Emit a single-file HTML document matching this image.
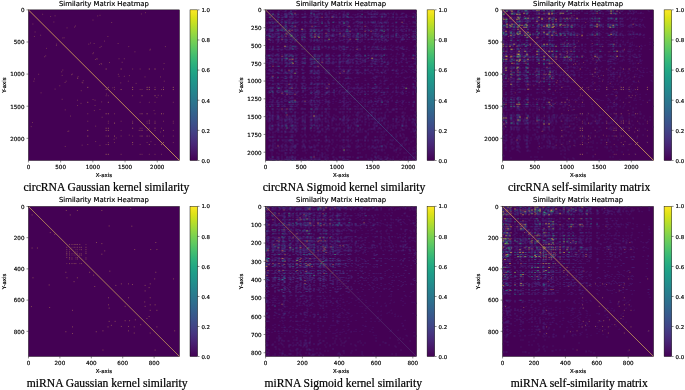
<!DOCTYPE html><html><head><meta charset="utf-8"><title>Similarity Matrix Heatmaps</title><style>html,body{margin:0;padding:0;background:#fff}svg{display:block}</style></head><body><svg width="685" height="390" viewBox="0 0 685 390">
<defs><linearGradient id="vir" x1="0" y1="1" x2="0" y2="0">
<stop offset="0.00" stop-color="#440154"/>
<stop offset="0.05" stop-color="#471365"/>
<stop offset="0.10" stop-color="#482475"/>
<stop offset="0.15" stop-color="#463480"/>
<stop offset="0.20" stop-color="#414487"/>
<stop offset="0.25" stop-color="#3b528b"/>
<stop offset="0.30" stop-color="#355f8d"/>
<stop offset="0.35" stop-color="#2f6c8e"/>
<stop offset="0.40" stop-color="#2a788e"/>
<stop offset="0.45" stop-color="#25848e"/>
<stop offset="0.50" stop-color="#21918c"/>
<stop offset="0.55" stop-color="#1e9c89"/>
<stop offset="0.60" stop-color="#22a884"/>
<stop offset="0.65" stop-color="#2fb47c"/>
<stop offset="0.70" stop-color="#44bf70"/>
<stop offset="0.75" stop-color="#5ec962"/>
<stop offset="0.80" stop-color="#7ad151"/>
<stop offset="0.85" stop-color="#9bd93c"/>
<stop offset="0.90" stop-color="#bddf26"/>
<stop offset="0.95" stop-color="#dfe318"/>
<stop offset="1.00" stop-color="#fde725"/>
</linearGradient><filter id="bl" x="0" y="0" width="1" height="1"><feGaussianBlur stdDeviation="0.45"/></filter><filter id="tb" filterUnits="userSpaceOnUse" x="0" y="0" width="685" height="390"><feGaussianBlur stdDeviation="0.35"/></filter><filter id="bl2" x="0" y="0" width="1" height="1"><feGaussianBlur stdDeviation="0.4"/></filter></defs>
<rect width="685" height="390" fill="#fff"/>
<g><rect x="28.4" y="9.85" width="151.1" height="150.65" fill="#440154"/><g filter="url(#bl2)"><path d="M105.65 69.03h1M120.64 69.03h1M148.82 69.03h1M154.52 69.03h1M107.85 87.37h1M132.13 87.37h1M146.62 87.37h1M148.82 87.37h1M172.8 87.37h1M120.64 89.56h1M132.13 89.56h1M146.62 89.56h1M148.82 89.56h1M154.52 89.56h1M163.01 89.56h1M172.8 89.56h1M141.52 95.74h1M154.52 95.74h1M141.52 113.77h1M146.62 113.77h1M161.01 113.77h1M148.82 123.14h1M154.52 123.14h1M154.52 128.22h1M163.01 130.41h1M163.01 142.57h1M87.26 87.37h1M87.26 102.31h1M87.26 130.41h1M87.26 136.09h1M105.65 89.56h1M105.65 113.77h1M105.65 128.22h1M105.65 130.41h1M105.65 154.32h1M107.85 102.31h1M107.85 113.77h1M107.85 128.22h1M107.85 130.41h1M107.85 136.09h1M107.85 144.56h1M107.85 154.32h1M114.04 123.14h1M114.04 136.09h1M132.13 123.14h1M132.13 128.22h1M132.13 142.57h1M141.52 130.41h1M141.52 136.09h1M146.62 136.09h1M148.82 144.56h1M161.01 144.56h1" stroke="#d9a55a" stroke-width="1" stroke-opacity="0.55" fill="none"/><path d="M132.13 69.03h1M139.63 69.03h1M163.01 69.03h1M114.04 87.37h1M154.52 87.37h1M163.01 87.37h1M114.04 89.56h1M139.63 89.56h1M141.52 89.56h1M161.01 89.56h1M132.13 95.74h1M161.01 95.74h1M139.63 102.31h1M148.82 102.31h1M154.52 102.31h1M172.8 102.31h1M139.63 113.77h1M154.52 113.77h1M163.01 113.77h1M146.62 121.24h1M148.82 121.24h1M154.52 121.24h1M163.01 121.24h1M172.8 121.24h1M146.62 123.14h1M172.8 123.14h1M148.82 128.22h1M161.01 128.22h1M154.52 130.41h1M172.8 130.41h1M163.01 136.09h1M172.8 136.09h1M172.8 142.57h1M54.58 15.83h1M74.97 25.99h1M111.14 22.5h1M62.28 37.95h1M90.06 43.03h1M93.66 43.53h1M100.75 46.42h1M117.64 43.53h1M128.23 46.62h1M164.91 46.62h1M149.42 50.1h1M92.96 52.79h1M96.25 58.77h1M118.54 58.77h1M123.84 58.77h1M100.55 63.45h1M163.61 63.45h1M117.84 74.31h1M118.54 76.31h1M123.84 76.31h1M128.93 75.61h1M144.52 76.91h1M160.01 76.91h1M163.81 81.19h1M120.24 82.88h1M127.83 81.19h1M135.63 83.38h1M50.09 16.53h1M88.26 44.12h1M92.36 53.69h1M94.96 59.47h1M99.45 47.51h1M98.95 64.55h1M74.07 27.09h1M145.02 12.68h1M160.08 132.02h1M148.76 120.3h1M112.36 87.81h1M92.49 20.06h1M157.71 95.33h1M104.04 41.11h1M101.14 64.1h1M109 62.53h1M97.2 15.94h1M63.63 37.8h1M156.38 97.45h1M149.84 49.23h1M153.55 110.43h1M42.13 14.29h1M140.9 13.98h1M66.56 27.88h1M121.68 62.29h1M53.35 22.02h1M107.37 36.47h1M134.43 51.82h1M96.7 59h1M99.5 15.3h1M87.26 113.77h1M87.26 121.24h1M87.26 144.56h1M105.65 95.74h1M105.65 136.09h1M105.65 144.56h1M107.85 95.74h1M107.85 121.24h1M107.85 123.14h1M107.85 142.57h1M114.04 113.77h1M114.04 142.57h1M120.64 121.24h1M120.64 130.41h1M120.64 136.09h1M120.64 154.32h1M132.13 121.24h1M132.13 136.09h1M132.13 144.56h1M139.63 128.22h1M139.63 130.41h1M139.63 136.09h1M139.63 144.56h1M139.63 154.32h1M141.52 128.22h1M141.52 154.32h1M146.62 130.41h1M146.62 142.57h1M148.82 136.09h1M148.82 154.32h1M154.52 144.56h1M154.52 154.32h1M161.01 154.32h1M33.9 36.45h1M44.09 56.78h1M40.59 92.85h1M56.08 44.12h1M61.18 71.82h1M61.68 75.41h1M64.58 82.48h1M61.68 99.32h1M64.78 109.88h1M64.78 146.45h1M68.27 131.01h1M70.97 74.71h1M76.97 78h1M76.97 100.22h1M76.97 105.5h1M81.66 82.29h1M81.66 145.16h1M92.56 99.52h1M94.56 100.22h1M94.56 105.5h1M93.86 110.58h1M95.16 126.13h1M95.16 141.57h1M99.45 145.36h1M101.15 101.91h1M99.45 109.49h1M101.65 117.26h1M34.6 31.97h1M62.28 70.03h1M71.87 74.12h1M77.67 76.71h1M65.67 81.19h1M82.76 80.69h1M45.19 55.88h1M30.74 126.62h1M150.43 141.64h1M138.68 130.35h1M106.09 94.06h1M38.14 74.25h1M113.63 139.27h1M59.26 85.77h1M82.31 82.87h1M80.74 90.71h1M34.01 78.95h1M55.93 45.47h1M115.76 137.95h1M67.4 131.42h1M128.78 135.13h1M32.35 24.03h1M32.04 122.51h1M45.98 48.39h1M80.5 103.35h1M40.11 35.22h1M54.6 89.09h1M69.99 116.07h1M77.2 78.44h1M33.37 81.23h1" stroke="#d9a55a" stroke-width="1" stroke-opacity="0.3" fill="none"/></g><line x1="28.4" y1="9.85" x2="179.5" y2="160.5" stroke="#ddaa5c" stroke-width="0.8"/><rect x="28.4" y="9.85" width="151.1" height="150.65" fill="none" stroke="#000" stroke-width="0.4"/><rect x="190" y="9.85" width="7.6" height="150.65" fill="url(#vir)" stroke="#000" stroke-width="0.45"/><path d="M28.43 160.5v1.9M60.64 160.5v1.9M92.84 160.5v1.9M125.04 160.5v1.9M157.25 160.5v1.9M28.4 9.88h-1.9M28.4 41.99h-1.9M28.4 74.1h-1.9M28.4 106.21h-1.9M28.4 138.31h-1.9M197.6 160.5h1.9M197.6 130.37h1.9M197.6 100.24h1.9M197.6 70.11h1.9M197.6 39.98h1.9M197.6 9.85h1.9" stroke="#000" stroke-width="0.45" fill="none"/></g>
<g><rect x="265.5" y="9.85" width="151.1" height="150.65" fill="#440154"/><g filter="url(#bl)"><path transform="translate(265.5 9.85) scale(1.0007 0.9977) translate(0 0.5)" d="M15 0h1M25 0h1M27 0h1M29 0h1M30 0h1M37 0h1M45 0h1M46 0h1M48 0h1M59 0h1M92 0h1M96 0h1M106 0h1M4 1h1M5 1h1M7 1h1M12 1h1M13 1h1M17 1h1M20 1h1M39 1h1M45 1h1M47 1h1M48 1h1M49 1h1M53 1h1M57 1h1M63 1h1M66 1h1M67 1h1M76 1h1M78 1h1M94 1h1M96 1h1M102 1h1M106 1h1M107 1h1M150 1h1M13 2h1M23 2h1M24 2h1M27 2h1M45 2h1M46 2h1M60 2h1M63 2h1M70 2h1M78 2h1M82 2h1M99 2h1M101 2h1M105 2h1M111 2h1M128 2h1M4 3h1M5 3h1M11 3h1M16 3h1M20 3h1M21 3h1M24 3h1M52 3h1M53 3h1M59 3h1M60 3h1M63 3h1M64 3h1M66 3h1M73 3h1M74 3h1M78 3h1M83 3h1M92 3h1M94 3h1M102 3h1M103 3h1M105 3h1M108 3h1M109 3h1M110 3h1M112 3h1M116 3h1M125 3h1M127 3h1M130 3h1M137 3h1M138 3h1M147 3h1M148 3h1M1 4h1M3 4h1M6 4h1M9 4h1M18 4h1M20 4h1M25 4h1M37 4h1M41 4h1M45 4h1M46 4h1M50 4h1M51 4h1M52 4h1M59 4h1M60 4h1M61 4h1M63 4h1M70 4h1M73 4h1M80 4h1M87 4h1M89 4h1M91 4h1M92 4h1M102 4h1M103 4h1M104 4h1M107 4h1M110 4h1M114 4h1M115 4h1M117 4h1M123 4h1M130 4h1M131 4h1M135 4h1M136 4h1M140 4h1M149 4h1M150 4h1M1 5h1M3 5h1M6 5h1M7 5h1M15 5h1M16 5h1M19 5h1M26 5h1M27 5h1M44 5h1M45 5h1M48 5h1M49 5h1M51 5h1M53 5h1M60 5h1M61 5h1M67 5h1M70 5h1M77 5h1M78 5h1M79 5h1M80 5h1M89 5h1M94 5h1M120 5h1M131 5h1M140 5h1M141 5h1M149 5h1M4 6h1M5 6h1M9 6h1M13 6h1M18 6h1M23 6h1M24 6h1M25 6h1M26 6h1M29 6h1M38 6h1M40 6h1M45 6h1M46 6h1M52 6h1M63 6h1M70 6h1M74 6h1M77 6h1M80 6h1M82 6h1M85 6h1M91 6h1M95 6h1M96 6h1M105 6h1M107 6h1M108 6h1M113 6h1M115 6h1M118 6h1M119 6h1M120 6h1M136 6h1M139 6h1M143 6h1M145 6h1M149 6h1M150 6h1M1 7h1M5 7h1M9 7h1M11 7h1M15 7h1M18 7h1M25 7h1M26 7h1M30 7h1M31 7h1M40 7h1M43 7h1M44 7h1M45 7h1M49 7h1M53 7h1M61 7h1M62 7h1M73 7h1M80 7h1M84 7h1M85 7h1M87 7h1M89 7h1M91 7h1M92 7h1M94 7h1M95 7h1M100 7h1M103 7h1M107 7h1M108 7h1M109 7h1M111 7h1M115 7h1M118 7h1M119 7h1M122 7h1M123 7h1M125 7h1M130 7h1M131 7h1M132 7h1M135 7h1M136 7h1M137 7h1M138 7h1M141 7h1M149 7h1M26 8h1M49 8h1M50 8h1M52 8h1M130 8h1M150 8h1M4 9h1M6 9h1M7 9h1M11 9h1M17 9h1M24 9h1M26 9h1M27 9h1M39 9h1M48 9h1M49 9h1M52 9h1M56 9h1M60 9h1M67 9h1M73 9h1M74 9h1M78 9h1M87 9h1M88 9h1M92 9h1M94 9h1M106 9h1M115 9h1M122 9h1M125 9h1M127 9h1M130 9h1M133 9h1M134 9h1M136 9h1M138 9h1M13 10h1M15 10h1M19 10h1M23 10h1M24 10h1M29 10h1M30 10h1M46 10h1M49 10h1M51 10h1M62 10h1M84 10h1M115 10h1M121 10h1M138 10h1M3 11h1M7 11h1M9 11h1M21 11h1M25 11h1M27 11h1M29 11h1M33 11h1M36 11h1M45 11h1M48 11h1M53 11h1M68 11h1M73 11h1M75 11h1M76 11h1M80 11h1M82 11h1M90 11h1M94 11h1M96 11h1M99 11h1M102 11h1M105 11h1M107 11h1M112 11h1M119 11h1M121 11h1M138 11h1M143 11h1M147 11h1M149 11h1M1 12h1M18 12h1M19 12h1M24 12h1M25 12h1M28 12h1M40 12h1M41 12h1M45 12h1M46 12h1M48 12h1M50 12h1M51 12h1M52 12h1M54 12h1M59 12h1M70 12h1M77 12h1M83 12h1M88 12h1M92 12h1M93 12h1M99 12h1M102 12h1M103 12h1M108 12h1M112 12h1M116 12h1M131 12h1M135 12h1M147 12h1M1 13h1M2 13h1M6 13h1M10 13h1M16 13h1M20 13h1M21 13h1M30 13h1M31 13h1M36 13h1M38 13h1M39 13h1M41 13h1M43 13h1M46 13h1M49 13h1M50 13h1M53 13h1M59 13h1M60 13h1M62 13h1M73 13h1M77 13h1M80 13h1M87 13h1M88 13h1M94 13h1M95 13h1M100 13h1M102 13h1M106 13h1M107 13h1M108 13h1M109 13h1M111 13h1M118 13h1M122 13h1M126 13h1M127 13h1M130 13h1M138 13h1M140 13h1M144 13h1M147 13h1M15 14h1M33 14h1M52 14h1M53 14h1M75 14h1M77 14h1M81 14h1M82 14h1M94 14h1M99 14h1M110 14h1M141 14h1M0 15h1M5 15h1M7 15h1M10 15h1M14 15h1M23 15h1M29 15h1M32 15h1M40 15h1M48 15h1M67 15h1M71 15h1M79 15h1M80 15h1M89 15h1M91 15h1M92 15h1M105 15h1M108 15h1M110 15h1M113 15h1M116 15h1M118 15h1M122 15h1M127 15h1M136 15h1M3 16h1M5 16h1M13 16h1M17 16h1M21 16h1M37 16h1M39 16h1M40 16h1M42 16h1M48 16h1M51 16h1M52 16h1M54 16h1M67 16h1M70 16h1M73 16h1M76 16h1M84 16h1M88 16h1M89 16h1M92 16h1M100 16h1M101 16h1M107 16h1M109 16h1M110 16h1M117 16h1M118 16h1M121 16h1M125 16h1M130 16h1M135 16h1M137 16h1M138 16h1M140 16h1M145 16h1M1 17h1M9 17h1M16 17h1M31 17h1M39 17h1M63 17h1M67 17h1M70 17h1M71 17h1M73 17h1M84 17h1M92 17h1M96 17h1M102 17h1M109 17h1M115 17h1M119 17h1M131 17h1M134 17h1M137 17h1M150 17h1M4 18h1M6 18h1M7 18h1M12 18h1M20 18h1M21 18h1M23 18h1M25 18h1M36 18h1M63 18h1M68 18h1M84 18h1M90 18h1M95 18h1M96 18h1M100 18h1M140 18h1M141 18h1M5 19h1M10 19h1M12 19h1M21 19h1M26 19h1M27 19h1M30 19h1M31 19h1M32 19h1M37 19h1M39 19h1M43 19h1M49 19h1M51 19h1M52 19h1M56 19h1M57 19h1M59 19h1M60 19h1M61 19h1M70 19h1M71 19h1M73 19h1M74 19h1M77 19h1M78 19h1M80 19h1M82 19h1M86 19h1M87 19h1M89 19h1M90 19h1M99 19h1M105 19h1M112 19h1M114 19h1M115 19h1M116 19h1M123 19h1M127 19h1M132 19h1M135 19h1M136 19h1M145 19h1M149 19h1M1 20h1M3 20h1M4 20h1M13 20h1M18 20h1M21 20h1M22 20h1M25 20h1M27 20h1M30 20h1M36 20h1M37 20h1M39 20h1M47 20h1M53 20h1M55 20h1M61 20h1M63 20h1M71 20h1M75 20h1M77 20h1M78 20h1M80 20h1M82 20h1M83 20h1M85 20h1M87 20h1M89 20h1M91 20h1M99 20h1M102 20h1M106 20h1M110 20h1M119 20h1M120 20h1M131 20h1M134 20h1M135 20h1M136 20h1M145 20h1M150 20h1M3 21h1M11 21h1M13 21h1M16 21h1M18 21h1M19 21h1M20 21h1M27 21h1M32 21h1M34 21h1M40 21h1M46 21h1M55 21h1M56 21h1M62 21h1M68 21h1M70 21h1M74 21h1M75 21h1M76 21h1M77 21h1M79 21h1M85 21h1M90 21h1M91 21h1M94 21h1M96 21h1M102 21h1M103 21h1M110 21h1M111 21h1M113 21h1M114 21h1M122 21h1M127 21h1M132 21h1M137 21h1M138 21h1M143 21h1M148 21h1M20 22h1M25 22h1M80 22h1M82 22h1M2 23h1M6 23h1M10 23h1M15 23h1M18 23h1M25 23h1M26 23h1M29 23h1M31 23h1M36 23h1M37 23h1M40 23h1M43 23h1M44 23h1M45 23h1M48 23h1M51 23h1M59 23h1M61 23h1M62 23h1M67 23h1M77 23h1M80 23h1M81 23h1M84 23h1M86 23h1M87 23h1M89 23h1M102 23h1M106 23h1M107 23h1M108 23h1M112 23h1M113 23h1M122 23h1M137 23h1M147 23h1M148 23h1M149 23h1M2 24h1M3 24h1M6 24h1M9 24h1M10 24h1M12 24h1M27 24h1M31 24h1M35 24h1M37 24h1M39 24h1M44 24h1M46 24h1M51 24h1M63 24h1M66 24h1M68 24h1M70 24h1M71 24h1M77 24h1M80 24h1M81 24h1M82 24h1M91 24h1M94 24h1M106 24h1M107 24h1M112 24h1M122 24h1M127 24h1M132 24h1M139 24h1M147 24h1M0 25h1M4 25h1M6 25h1M7 25h1M11 25h1M12 25h1M18 25h1M20 25h1M22 25h1M23 25h1M35 25h1M36 25h1M37 25h1M39 25h1M44 25h1M46 25h1M48 25h1M49 25h1M50 25h1M51 25h1M56 25h1M61 25h1M63 25h1M64 25h1M65 25h1M68 25h1M70 25h1M71 25h1M81 25h1M83 25h1M84 25h1M87 25h1M88 25h1M92 25h1M94 25h1M95 25h1M97 25h1M108 25h1M109 25h1M110 25h1M111 25h1M113 25h1M114 25h1M115 25h1M116 25h1M119 25h1M120 25h1M121 25h1M125 25h1M127 25h1M131 25h1M133 25h1M136 25h1M137 25h1M138 25h1M140 25h1M147 25h1M148 25h1M149 25h1M5 26h1M6 26h1M7 26h1M8 26h1M9 26h1M19 26h1M23 26h1M28 26h1M31 26h1M37 26h1M39 26h1M45 26h1M50 26h1M53 26h1M56 26h1M59 26h1M60 26h1M65 26h1M73 26h1M74 26h1M75 26h1M77 26h1M82 26h1M86 26h1M87 26h1M88 26h1M90 26h1M94 26h1M97 26h1M102 26h1M110 26h1M111 26h1M113 26h1M122 26h1M125 26h1M126 26h1M134 26h1M136 26h1M138 26h1M140 26h1M147 26h1M0 27h1M2 27h1M5 27h1M9 27h1M11 27h1M19 27h1M20 27h1M21 27h1M24 27h1M28 27h1M30 27h1M33 27h1M50 27h1M54 27h1M59 27h1M61 27h1M70 27h1M74 27h1M80 27h1M84 27h1M87 27h1M88 27h1M91 27h1M96 27h1M99 27h1M105 27h1M111 27h1M112 27h1M116 27h1M119 27h1M125 27h1M127 27h1M131 27h1M136 27h1M140 27h1M149 27h1M12 28h1M26 28h1M27 28h1M36 28h1M41 28h1M69 28h1M73 28h1M116 28h1M117 28h1M118 28h1M136 28h1M137 28h1M0 29h1M6 29h1M10 29h1M11 29h1M15 29h1M23 29h1M32 29h1M38 29h1M39 29h1M43 29h1M48 29h1M49 29h1M54 29h1M59 29h1M65 29h1M66 29h1M68 29h1M73 29h1M80 29h1M81 29h1M82 29h1M85 29h1M94 29h1M116 29h1M125 29h1M126 29h1M135 29h1M137 29h1M143 29h1M147 29h1M0 30h1M7 30h1M10 30h1M13 30h1M19 30h1M20 30h1M27 30h1M31 30h1M36 30h1M37 30h1M44 30h1M45 30h1M46 30h1M49 30h1M50 30h1M52 30h1M56 30h1M60 30h1M61 30h1M62 30h1M68 30h1M75 30h1M76 30h1M82 30h1M83 30h1M84 30h1M91 30h1M92 30h1M94 30h1M96 30h1M102 30h1M108 30h1M110 30h1M112 30h1M118 30h1M119 30h1M135 30h1M136 30h1M137 30h1M147 30h1M150 30h1M7 31h1M13 31h1M17 31h1M19 31h1M23 31h1M24 31h1M26 31h1M30 31h1M36 31h1M38 31h1M40 31h1M51 31h1M52 31h1M54 31h1M56 31h1M61 31h1M63 31h1M66 31h1M68 31h1M71 31h1M74 31h1M78 31h1M81 31h1M83 31h1M85 31h1M88 31h1M91 31h1M95 31h1M96 31h1M110 31h1M113 31h1M114 31h1M118 31h1M130 31h1M134 31h1M140 31h1M15 32h1M19 32h1M21 32h1M29 32h1M38 32h1M44 32h1M50 32h1M52 32h1M54 32h1M56 32h1M62 32h1M66 32h1M67 32h1M78 32h1M81 32h1M82 32h1M92 32h1M98 32h1M103 32h1M109 32h1M110 32h1M113 32h1M116 32h1M119 32h1M131 32h1M134 32h1M145 32h1M150 32h1M11 33h1M14 33h1M27 33h1M81 33h1M86 33h1M91 33h1M108 33h1M21 34h1M48 34h1M54 34h1M108 34h1M24 35h1M25 35h1M36 35h1M52 35h1M73 35h1M99 35h1M115 35h1M125 35h1M149 35h1M11 36h1M13 36h1M18 36h1M20 36h1M23 36h1M25 36h1M28 36h1M30 36h1M31 36h1M35 36h1M38 36h1M45 36h1M48 36h1M49 36h1M56 36h1M60 36h1M63 36h1M67 36h1M68 36h1M73 36h1M76 36h1M82 36h1M85 36h1M91 36h1M92 36h1M98 36h1M103 36h1M109 36h1M111 36h1M112 36h1M122 36h1M127 36h1M132 36h1M136 36h1M138 36h1M148 36h1M149 36h1M0 37h1M4 37h1M16 37h1M19 37h1M20 37h1M23 37h1M24 37h1M25 37h1M26 37h1M30 37h1M39 37h1M43 37h1M45 37h1M51 37h1M57 37h1M60 37h1M62 37h1M67 37h1M70 37h1M76 37h1M90 37h1M91 37h1M99 37h1M103 37h1M107 37h1M110 37h1M113 37h1M118 37h1M119 37h1M126 37h1M131 37h1M132 37h1M134 37h1M136 37h1M137 37h1M141 37h1M6 38h1M13 38h1M29 38h1M31 38h1M32 38h1M36 38h1M39 38h1M45 38h1M52 38h1M56 38h1M60 38h1M63 38h1M66 38h1M70 38h1M71 38h1M73 38h1M76 38h1M78 38h1M92 38h1M94 38h1M99 38h1M111 38h1M116 38h1M119 38h1M134 38h1M135 38h1M150 38h1M1 39h1M9 39h1M13 39h1M16 39h1M17 39h1M19 39h1M20 39h1M24 39h1M25 39h1M26 39h1M29 39h1M37 39h1M38 39h1M41 39h1M44 39h1M45 39h1M46 39h1M49 39h1M51 39h1M54 39h1M62 39h1M67 39h1M70 39h1M73 39h1M76 39h1M77 39h1M79 39h1M80 39h1M81 39h1M84 39h1M85 39h1M87 39h1M90 39h1M103 39h1M105 39h1M106 39h1M107 39h1M108 39h1M109 39h1M111 39h1M117 39h1M119 39h1M122 39h1M124 39h1M130 39h1M131 39h1M136 39h1M140 39h1M141 39h1M147 39h1M148 39h1M6 40h1M7 40h1M12 40h1M15 40h1M16 40h1M21 40h1M23 40h1M31 40h1M52 40h1M74 40h1M75 40h1M78 40h1M84 40h1M87 40h1M92 40h1M94 40h1M105 40h1M116 40h1M126 40h1M127 40h1M132 40h1M143 40h1M150 40h1M4 41h1M12 41h1M13 41h1M28 41h1M39 41h1M46 41h1M48 41h1M77 41h1M80 41h1M90 41h1M105 41h1M140 41h1M149 41h1M16 42h1M92 42h1M7 43h1M13 43h1M19 43h1M23 43h1M29 43h1M37 43h1M56 43h1M68 43h1M77 43h1M78 43h1M79 43h1M84 43h1M91 43h1M102 43h1M107 43h1M131 43h1M136 43h1M137 43h1M5 44h1M7 44h1M23 44h1M24 44h1M25 44h1M30 44h1M32 44h1M39 44h1M48 44h1M50 44h1M52 44h1M60 44h1M61 44h1M74 44h1M82 44h1M90 44h1M92 44h1M93 44h1M94 44h1M107 44h1M110 44h1M112 44h1M115 44h1M118 44h1M119 44h1M125 44h1M131 44h1M133 44h1M137 44h1M138 44h1M147 44h1M0 45h1M1 45h1M2 45h1M4 45h1M5 45h1M6 45h1M7 45h1M11 45h1M12 45h1M23 45h1M26 45h1M30 45h1M36 45h1M37 45h1M38 45h1M39 45h1M50 45h1M53 45h1M60 45h1M63 45h1M66 45h1M67 45h1M70 45h1M72 45h1M77 45h1M78 45h1M80 45h1M81 45h1M82 45h1M89 45h1M94 45h1M95 45h1M105 45h1M107 45h1M113 45h1M114 45h1M115 45h1M116 45h1M120 45h1M121 45h1M138 45h1M143 45h1M149 45h1M0 46h1M2 46h1M4 46h1M6 46h1M10 46h1M12 46h1M13 46h1M21 46h1M24 46h1M25 46h1M30 46h1M39 46h1M41 46h1M48 46h1M52 46h1M62 46h1M63 46h1M67 46h1M68 46h1M72 46h1M74 46h1M78 46h1M84 46h1M87 46h1M92 46h1M95 46h1M96 46h1M100 46h1M105 46h1M107 46h1M109 46h1M113 46h1M127 46h1M130 46h1M147 46h1M148 46h1M1 47h1M20 47h1M103 47h1M0 48h1M1 48h1M5 48h1M9 48h1M11 48h1M12 48h1M15 48h1M16 48h1M23 48h1M25 48h1M29 48h1M34 48h1M36 48h1M41 48h1M44 48h1M46 48h1M52 48h1M57 48h1M59 48h1M60 48h1M61 48h1M64 48h1M66 48h1M68 48h1M70 48h1M77 48h1M80 48h1M81 48h1M83 48h1M88 48h1M92 48h1M94 48h1M95 48h1M97 48h1M100 48h1M105 48h1M109 48h1M118 48h1M121 48h1M125 48h1M130 48h1M135 48h1M136 48h1M137 48h1M143 48h1M145 48h1M146 48h1M149 48h1M150 48h1M1 49h1M5 49h1M7 49h1M8 49h1M9 49h1M10 49h1M13 49h1M19 49h1M25 49h1M29 49h1M30 49h1M36 49h1M39 49h1M53 49h1M56 49h1M60 49h1M62 49h1M63 49h1M64 49h1M67 49h1M71 49h1M73 49h1M77 49h1M79 49h1M83 49h1M84 49h1M85 49h1M86 49h1M87 49h1M88 49h1M96 49h1M100 49h1M106 49h1M107 49h1M108 49h1M115 49h1M116 49h1M118 49h1M120 49h1M126 49h1M127 49h1M130 49h1M137 49h1M138 49h1M140 49h1M148 49h1M149 49h1M4 50h1M8 50h1M12 50h1M13 50h1M25 50h1M26 50h1M27 50h1M30 50h1M32 50h1M44 50h1M45 50h1M53 50h1M57 50h1M62 50h1M63 50h1M73 50h1M77 50h1M81 50h1M84 50h1M86 50h1M87 50h1M90 50h1M96 50h1M97 50h1M98 50h1M103 50h1M105 50h1M106 50h1M110 50h1M112 50h1M116 50h1M130 50h1M131 50h1M136 50h1M140 50h1M150 50h1M4 51h1M5 51h1M10 51h1M12 51h1M16 51h1M19 51h1M23 51h1M24 51h1M25 51h1M31 51h1M37 51h1M39 51h1M53 51h1M56 51h1M60 51h1M61 51h1M70 51h1M73 51h1M75 51h1M76 51h1M77 51h1M84 51h1M86 51h1M91 51h1M92 51h1M97 51h1M100 51h1M102 51h1M106 51h1M107 51h1M108 51h1M111 51h1M113 51h1M115 51h1M118 51h1M119 51h1M122 51h1M126 51h1M135 51h1M143 51h1M145 51h1M148 51h1M150 51h1M3 52h1M4 52h1M6 52h1M8 52h1M9 52h1M12 52h1M14 52h1M16 52h1M19 52h1M30 52h1M31 52h1M32 52h1M35 52h1M38 52h1M40 52h1M44 52h1M46 52h1M48 52h1M53 52h1M54 52h1M57 52h1M61 52h1M63 52h1M64 52h1M66 52h1M67 52h1M75 52h1M77 52h1M80 52h1M81 52h1M82 52h1M84 52h1M85 52h1M95 52h1M96 52h1M97 52h1M106 52h1M109 52h1M111 52h1M113 52h1M121 52h1M125 52h1M130 52h1M133 52h1M135 52h1M136 52h1M140 52h1M1 53h1M3 53h1M5 53h1M7 53h1M11 53h1M13 53h1M14 53h1M20 53h1M26 53h1M45 53h1M49 53h1M50 53h1M51 53h1M52 53h1M56 53h1M57 53h1M61 53h1M62 53h1M64 53h1M67 53h1M68 53h1M73 53h1M74 53h1M77 53h1M80 53h1M82 53h1M83 53h1M84 53h1M90 53h1M91 53h1M92 53h1M94 53h1M95 53h1M108 53h1M115 53h1M116 53h1M117 53h1M122 53h1M123 53h1M133 53h1M141 53h1M148 53h1M149 53h1M150 53h1M12 54h1M16 54h1M27 54h1M29 54h1M31 54h1M32 54h1M34 54h1M39 54h1M52 54h1M62 54h1M67 54h1M73 54h1M74 54h1M82 54h1M90 54h1M92 54h1M93 54h1M99 54h1M105 54h1M106 54h1M110 54h1M111 54h1M115 54h1M116 54h1M145 54h1M147 54h1M149 54h1M150 54h1M20 55h1M21 55h1M131 55h1M9 56h1M19 56h1M21 56h1M25 56h1M26 56h1M30 56h1M31 56h1M32 56h1M36 56h1M38 56h1M43 56h1M49 56h1M51 56h1M53 56h1M60 56h1M62 56h1M70 56h1M71 56h1M76 56h1M77 56h1M79 56h1M81 56h1M90 56h1M92 56h1M96 56h1M97 56h1M102 56h1M110 56h1M114 56h1M116 56h1M120 56h1M125 56h1M137 56h1M140 56h1M146 56h1M147 56h1M1 57h1M19 57h1M37 57h1M48 57h1M50 57h1M52 57h1M53 57h1M73 57h1M84 57h1M90 57h1M94 57h1M109 57h1M119 57h1M121 57h1M144 57h1M147 57h1M74 58h1M0 59h1M3 59h1M4 59h1M12 59h1M13 59h1M19 59h1M23 59h1M26 59h1M27 59h1M29 59h1M48 59h1M60 59h1M62 59h1M67 59h1M70 59h1M73 59h1M74 59h1M75 59h1M77 59h1M78 59h1M80 59h1M82 59h1M85 59h1M89 59h1M91 59h1M93 59h1M108 59h1M109 59h1M111 59h1M117 59h1M122 59h1M127 59h1M131 59h1M137 59h1M143 59h1M149 59h1M150 59h1M2 60h1M3 60h1M4 60h1M5 60h1M9 60h1M13 60h1M19 60h1M26 60h1M30 60h1M36 60h1M37 60h1M38 60h1M44 60h1M45 60h1M48 60h1M49 60h1M51 60h1M56 60h1M59 60h1M67 60h1M76 60h1M77 60h1M84 60h1M87 60h1M89 60h1M90 60h1M91 60h1M100 60h1M101 60h1M102 60h1M105 60h1M106 60h1M108 60h1M109 60h1M111 60h1M117 60h1M119 60h1M120 60h1M122 60h1M128 60h1M132 60h1M136 60h1M139 60h1M145 60h1M4 61h1M5 61h1M7 61h1M19 61h1M20 61h1M23 61h1M25 61h1M27 61h1M30 61h1M31 61h1M44 61h1M48 61h1M51 61h1M52 61h1M53 61h1M62 61h1M72 61h1M75 61h1M77 61h1M81 61h1M91 61h1M99 61h1M103 61h1M131 61h1M147 61h1M7 62h1M10 62h1M13 62h1M21 62h1M23 62h1M30 62h1M32 62h1M37 62h1M39 62h1M46 62h1M49 62h1M50 62h1M53 62h1M54 62h1M56 62h1M59 62h1M61 62h1M70 62h1M73 62h1M76 62h1M78 62h1M81 62h1M87 62h1M95 62h1M98 62h1M104 62h1M105 62h1M110 62h1M111 62h1M112 62h1M136 62h1M138 62h1M141 62h1M145 62h1M150 62h1M1 63h1M2 63h1M3 63h1M4 63h1M6 63h1M17 63h1M18 63h1M20 63h1M24 63h1M25 63h1M31 63h1M36 63h1M38 63h1M45 63h1M46 63h1M49 63h1M50 63h1M52 63h1M64 63h1M71 63h1M73 63h1M76 63h1M77 63h1M78 63h1M80 63h1M82 63h1M86 63h1M90 63h1M91 63h1M92 63h1M93 63h1M102 63h1M104 63h1M106 63h1M107 63h1M113 63h1M119 63h1M120 63h1M127 63h1M130 63h1M131 63h1M132 63h1M135 63h1M136 63h1M3 64h1M25 64h1M48 64h1M49 64h1M52 64h1M53 64h1M63 64h1M82 64h1M92 64h1M99 64h1M107 64h1M132 64h1M25 65h1M26 65h1M29 65h1M1 66h1M3 66h1M24 66h1M29 66h1M31 66h1M32 66h1M38 66h1M45 66h1M48 66h1M52 66h1M73 66h1M78 66h1M82 66h1M109 66h1M110 66h1M111 66h1M113 66h1M115 66h1M118 66h1M130 66h1M134 66h1M144 66h1M1 67h1M5 67h1M9 67h1M15 67h1M16 67h1M17 67h1M23 67h1M32 67h1M36 67h1M37 67h1M39 67h1M45 67h1M46 67h1M49 67h1M52 67h1M53 67h1M54 67h1M59 67h1M60 67h1M70 67h1M73 67h1M74 67h1M89 67h1M91 67h1M93 67h1M107 67h1M108 67h1M110 67h1M111 67h1M118 67h1M125 67h1M130 67h1M132 67h1M138 67h1M141 67h1M143 67h1M11 68h1M18 68h1M21 68h1M24 68h1M25 68h1M29 68h1M30 68h1M31 68h1M36 68h1M43 68h1M46 68h1M48 68h1M53 68h1M70 68h1M73 68h1M79 68h1M81 68h1M83 68h1M84 68h1M85 68h1M89 68h1M99 68h1M105 68h1M108 68h1M118 68h1M120 68h1M122 68h1M139 68h1M140 68h1M147 68h1M149 68h1M150 68h1M28 69h1M86 69h1M2 70h1M4 70h1M5 70h1M6 70h1M12 70h1M16 70h1M17 70h1M19 70h1M21 70h1M24 70h1M25 70h1M27 70h1M37 70h1M38 70h1M39 70h1M45 70h1M48 70h1M51 70h1M56 70h1M59 70h1M62 70h1M67 70h1M68 70h1M78 70h1M81 70h1M91 70h1M99 70h1M100 70h1M106 70h1M109 70h1M110 70h1M114 70h1M120 70h1M121 70h1M126 70h1M137 70h1M148 70h1M150 70h1M15 71h1M17 71h1M19 71h1M20 71h1M24 71h1M25 71h1M31 71h1M38 71h1M49 71h1M56 71h1M63 71h1M73 71h1M74 71h1M78 71h1M80 71h1M84 71h1M88 71h1M115 71h1M118 71h1M119 71h1M130 71h1M135 71h1M149 71h1M150 71h1M45 72h1M46 72h1M61 72h1M107 72h1M3 73h1M4 73h1M7 73h1M9 73h1M11 73h1M13 73h1M16 73h1M17 73h1M19 73h1M26 73h1M28 73h1M29 73h1M35 73h1M36 73h1M38 73h1M39 73h1M49 73h1M50 73h1M51 73h1M53 73h1M54 73h1M57 73h1M59 73h1M62 73h1M63 73h1M66 73h1M67 73h1M68 73h1M71 73h1M74 73h1M77 73h1M81 73h1M82 73h1M83 73h1M92 73h1M96 73h1M102 73h1M114 73h1M115 73h1M118 73h1M126 73h1M147 73h1M3 74h1M6 74h1M9 74h1M19 74h1M21 74h1M26 74h1M27 74h1M31 74h1M40 74h1M44 74h1M46 74h1M53 74h1M54 74h1M58 74h1M59 74h1M67 74h1M71 74h1M73 74h1M80 74h1M81 74h1M84 74h1M99 74h1M103 74h1M110 74h1M113 74h1M118 74h1M119 74h1M124 74h1M125 74h1M127 74h1M131 74h1M136 74h1M138 74h1M141 74h1M148 74h1M11 75h1M14 75h1M20 75h1M21 75h1M26 75h1M30 75h1M40 75h1M51 75h1M52 75h1M59 75h1M61 75h1M79 75h1M92 75h1M99 75h1M1 76h1M11 76h1M16 76h1M21 76h1M30 76h1M36 76h1M37 76h1M38 76h1M39 76h1M51 76h1M56 76h1M60 76h1M62 76h1M63 76h1M77 76h1M82 76h1M83 76h1M91 76h1M96 76h1M102 76h1M109 76h1M110 76h1M111 76h1M115 76h1M122 76h1M130 76h1M136 76h1M137 76h1M147 76h1M148 76h1M5 77h1M6 77h1M12 77h1M13 77h1M14 77h1M19 77h1M20 77h1M21 77h1M23 77h1M24 77h1M26 77h1M39 77h1M41 77h1M43 77h1M45 77h1M48 77h1M49 77h1M50 77h1M51 77h1M52 77h1M53 77h1M56 77h1M59 77h1M60 77h1M61 77h1M63 77h1M73 77h1M76 77h1M79 77h1M82 77h1M85 77h1M88 77h1M91 77h1M92 77h1M95 77h1M99 77h1M102 77h1M104 77h1M107 77h1M111 77h1M113 77h1M132 77h1M140 77h1M147 77h1M148 77h1M1 78h1M2 78h1M3 78h1M5 78h1M9 78h1M19 78h1M20 78h1M31 78h1M32 78h1M38 78h1M40 78h1M43 78h1M45 78h1M46 78h1M59 78h1M62 78h1M63 78h1M66 78h1M70 78h1M71 78h1M82 78h1M83 78h1M84 78h1M86 78h1M87 78h1M89 78h1M90 78h1M91 78h1M92 78h1M93 78h1M94 78h1M95 78h1M96 78h1M97 78h1M102 78h1M110 78h1M111 78h1M113 78h1M114 78h1M115 78h1M118 78h1M121 78h1M127 78h1M132 78h1M135 78h1M137 78h1M138 78h1M143 78h1M147 78h1M150 78h1M5 79h1M15 79h1M21 79h1M39 79h1M43 79h1M49 79h1M56 79h1M68 79h1M75 79h1M77 79h1M82 79h1M88 79h1M94 79h1M150 79h1M4 80h1M5 80h1M6 80h1M7 80h1M11 80h1M13 80h1M15 80h1M19 80h1M20 80h1M22 80h1M23 80h1M24 80h1M27 80h1M29 80h1M39 80h1M41 80h1M45 80h1M48 80h1M52 80h1M53 80h1M59 80h1M63 80h1M71 80h1M74 80h1M82 80h1M90 80h1M92 80h1M93 80h1M96 80h1M107 80h1M110 80h1M113 80h1M116 80h1M130 80h1M137 80h1M150 80h1M14 81h1M23 81h1M24 81h1M25 81h1M29 81h1M31 81h1M32 81h1M33 81h1M39 81h1M45 81h1M48 81h1M50 81h1M52 81h1M56 81h1M61 81h1M62 81h1M68 81h1M70 81h1M73 81h1M74 81h1M84 81h1M92 81h1M96 81h1M98 81h1M99 81h1M105 81h1M106 81h1M109 81h1M112 81h1M113 81h1M121 81h1M127 81h1M130 81h1M136 81h1M147 81h1M2 82h1M6 82h1M11 82h1M14 82h1M19 82h1M20 82h1M22 82h1M24 82h1M26 82h1M29 82h1M30 82h1M32 82h1M36 82h1M44 82h1M45 82h1M52 82h1M53 82h1M54 82h1M59 82h1M63 82h1M64 82h1M66 82h1M73 82h1M76 82h1M77 82h1M78 82h1M79 82h1M80 82h1M88 82h1M94 82h1M95 82h1M96 82h1M99 82h1M108 82h1M109 82h1M117 82h1M119 82h1M121 82h1M122 82h1M126 82h1M127 82h1M131 82h1M132 82h1M134 82h1M137 82h1M143 82h1M147 82h1M3 83h1M12 83h1M20 83h1M25 83h1M30 83h1M31 83h1M48 83h1M49 83h1M53 83h1M68 83h1M73 83h1M76 83h1M78 83h1M89 83h1M100 83h1M107 83h1M110 83h1M118 83h1M135 83h1M140 83h1M147 83h1M7 84h1M10 84h1M16 84h1M17 84h1M18 84h1M23 84h1M25 84h1M27 84h1M30 84h1M39 84h1M40 84h1M43 84h1M46 84h1M49 84h1M50 84h1M51 84h1M52 84h1M53 84h1M57 84h1M60 84h1M68 84h1M71 84h1M74 84h1M78 84h1M81 84h1M106 84h1M110 84h1M117 84h1M120 84h1M124 84h1M131 84h1M136 84h1M137 84h1M6 85h1M7 85h1M20 85h1M21 85h1M29 85h1M31 85h1M36 85h1M39 85h1M49 85h1M52 85h1M59 85h1M68 85h1M77 85h1M88 85h1M92 85h1M115 85h1M116 85h1M130 85h1M141 85h1M19 86h1M23 86h1M26 86h1M33 86h1M49 86h1M50 86h1M51 86h1M63 86h1M69 86h1M78 86h1M99 86h1M110 86h1M113 86h1M122 86h1M126 86h1M133 86h1M4 87h1M7 87h1M9 87h1M13 87h1M19 87h1M20 87h1M23 87h1M25 87h1M26 87h1M27 87h1M39 87h1M40 87h1M46 87h1M49 87h1M50 87h1M60 87h1M62 87h1M78 87h1M105 87h1M118 87h1M119 87h1M125 87h1M147 87h1M9 88h1M12 88h1M13 88h1M16 88h1M25 88h1M26 88h1M27 88h1M31 88h1M48 88h1M49 88h1M71 88h1M77 88h1M79 88h1M82 88h1M85 88h1M89 88h1M92 88h1M96 88h1M112 88h1M113 88h1M114 88h1M125 88h1M4 89h1M5 89h1M7 89h1M15 89h1M16 89h1M19 89h1M20 89h1M23 89h1M45 89h1M59 89h1M60 89h1M67 89h1M68 89h1M78 89h1M83 89h1M88 89h1M96 89h1M99 89h1M102 89h1M110 89h1M115 89h1M123 89h1M11 90h1M18 90h1M19 90h1M21 90h1M26 90h1M37 90h1M39 90h1M41 90h1M44 90h1M50 90h1M53 90h1M54 90h1M56 90h1M57 90h1M60 90h1M63 90h1M78 90h1M80 90h1M92 90h1M96 90h1M99 90h1M112 90h1M113 90h1M115 90h1M116 90h1M119 90h1M121 90h1M126 90h1M136 90h1M138 90h1M4 91h1M6 91h1M7 91h1M15 91h1M20 91h1M21 91h1M24 91h1M27 91h1M30 91h1M31 91h1M33 91h1M36 91h1M37 91h1M43 91h1M51 91h1M53 91h1M59 91h1M60 91h1M61 91h1M63 91h1M67 91h1M70 91h1M76 91h1M77 91h1M78 91h1M94 91h1M97 91h1M105 91h1M106 91h1M110 91h1M111 91h1M112 91h1M115 91h1M118 91h1M120 91h1M126 91h1M134 91h1M0 92h1M3 92h1M4 92h1M7 92h1M9 92h1M12 92h1M15 92h1M16 92h1M17 92h1M25 92h1M30 92h1M32 92h1M36 92h1M38 92h1M40 92h1M42 92h1M44 92h1M46 92h1M48 92h1M51 92h1M53 92h1M54 92h1M56 92h1M63 92h1M64 92h1M73 92h1M75 92h1M77 92h1M78 92h1M80 92h1M81 92h1M85 92h1M88 92h1M90 92h1M95 92h1M96 92h1M103 92h1M107 92h1M111 92h1M112 92h1M115 92h1M121 92h1M131 92h1M132 92h1M136 92h1M137 92h1M140 92h1M147 92h1M12 93h1M44 93h1M54 93h1M59 93h1M63 93h1M67 93h1M78 93h1M80 93h1M103 93h1M110 93h1M136 93h1M1 94h1M3 94h1M5 94h1M7 94h1M9 94h1M11 94h1M13 94h1M14 94h1M21 94h1M24 94h1M25 94h1M26 94h1M29 94h1M30 94h1M38 94h1M40 94h1M44 94h1M45 94h1M48 94h1M53 94h1M57 94h1M78 94h1M79 94h1M82 94h1M91 94h1M99 94h1M102 94h1M107 94h1M108 94h1M115 94h1M118 94h1M119 94h1M122 94h1M130 94h1M137 94h1M143 94h1M147 94h1M6 95h1M7 95h1M13 95h1M18 95h1M25 95h1M31 95h1M45 95h1M46 95h1M48 95h1M52 95h1M53 95h1M62 95h1M77 95h1M78 95h1M82 95h1M92 95h1M99 95h1M106 95h1M115 95h1M134 95h1M147 95h1M0 96h1M1 96h1M6 96h1M11 96h1M17 96h1M18 96h1M21 96h1M27 96h1M30 96h1M31 96h1M46 96h1M49 96h1M50 96h1M52 96h1M56 96h1M73 96h1M76 96h1M78 96h1M80 96h1M81 96h1M82 96h1M88 96h1M89 96h1M90 96h1M92 96h1M101 96h1M102 96h1M106 96h1M107 96h1M111 96h1M112 96h1M120 96h1M122 96h1M130 96h1M136 96h1M25 97h1M26 97h1M48 97h1M50 97h1M51 97h1M52 97h1M56 97h1M78 97h1M91 97h1M119 97h1M140 97h1M32 98h1M36 98h1M50 98h1M62 98h1M81 98h1M104 98h1M2 99h1M11 99h1M12 99h1M14 99h1M19 99h1M20 99h1M27 99h1M35 99h1M37 99h1M38 99h1M54 99h1M61 99h1M64 99h1M68 99h1M70 99h1M74 99h1M75 99h1M77 99h1M81 99h1M82 99h1M86 99h1M89 99h1M90 99h1M94 99h1M95 99h1M109 99h1M110 99h1M112 99h1M114 99h1M115 99h1M121 99h1M128 99h1M134 99h1M136 99h1M139 99h1M7 100h1M13 100h1M16 100h1M18 100h1M46 100h1M48 100h1M49 100h1M51 100h1M60 100h1M70 100h1M83 100h1M103 100h1M105 100h1M112 100h1M121 100h1M122 100h1M126 100h1M127 100h1M128 100h1M145 100h1M147 100h1M2 101h1M16 101h1M60 101h1M96 101h1M1 102h1M3 102h1M4 102h1M11 102h1M12 102h1M13 102h1M17 102h1M20 102h1M21 102h1M23 102h1M26 102h1M30 102h1M43 102h1M51 102h1M56 102h1M60 102h1M63 102h1M73 102h1M76 102h1M77 102h1M78 102h1M89 102h1M94 102h1M96 102h1M107 102h1M108 102h1M120 102h1M123 102h1M124 102h1M125 102h1M130 102h1M131 102h1M137 102h1M149 102h1M3 103h1M4 103h1M7 103h1M12 103h1M21 103h1M32 103h1M36 103h1M37 103h1M39 103h1M47 103h1M50 103h1M61 103h1M74 103h1M92 103h1M93 103h1M100 103h1M109 103h1M110 103h1M113 103h1M115 103h1M116 103h1M119 103h1M136 103h1M137 103h1M139 103h1M150 103h1M4 104h1M62 104h1M63 104h1M77 104h1M98 104h1M2 105h1M3 105h1M6 105h1M11 105h1M15 105h1M19 105h1M27 105h1M39 105h1M40 105h1M41 105h1M45 105h1M46 105h1M48 105h1M50 105h1M54 105h1M60 105h1M62 105h1M68 105h1M81 105h1M87 105h1M91 105h1M100 105h1M109 105h1M112 105h1M138 105h1M148 105h1M0 106h1M1 106h1M9 106h1M13 106h1M20 106h1M23 106h1M24 106h1M39 106h1M49 106h1M50 106h1M51 106h1M52 106h1M54 106h1M60 106h1M63 106h1M70 106h1M81 106h1M84 106h1M91 106h1M95 106h1M96 106h1M119 106h1M122 106h1M130 106h1M136 106h1M137 106h1M141 106h1M145 106h1M149 106h1M150 106h1M1 107h1M4 107h1M6 107h1M7 107h1M11 107h1M13 107h1M16 107h1M23 107h1M24 107h1M37 107h1M39 107h1M43 107h1M44 107h1M45 107h1M46 107h1M49 107h1M51 107h1M63 107h1M64 107h1M67 107h1M72 107h1M77 107h1M80 107h1M83 107h1M92 107h1M94 107h1M96 107h1M102 107h1M109 107h1M115 107h1M119 107h1M131 107h1M133 107h1M137 107h1M3 108h1M6 108h1M7 108h1M12 108h1M13 108h1M15 108h1M23 108h1M25 108h1M30 108h1M33 108h1M34 108h1M39 108h1M49 108h1M51 108h1M53 108h1M59 108h1M60 108h1M67 108h1M68 108h1M82 108h1M94 108h1M102 108h1M109 108h1M113 108h1M115 108h1M117 108h1M118 108h1M119 108h1M143 108h1M3 109h1M7 109h1M13 109h1M16 109h1M17 109h1M25 109h1M32 109h1M36 109h1M39 109h1M46 109h1M48 109h1M52 109h1M57 109h1M59 109h1M60 109h1M66 109h1M70 109h1M76 109h1M81 109h1M82 109h1M99 109h1M103 109h1M105 109h1M107 109h1M108 109h1M110 109h1M113 109h1M114 109h1M116 109h1M118 109h1M120 109h1M137 109h1M138 109h1M146 109h1M3 110h1M4 110h1M14 110h1M15 110h1M16 110h1M20 110h1M21 110h1M25 110h1M26 110h1M30 110h1M31 110h1M32 110h1M37 110h1M44 110h1M50 110h1M54 110h1M56 110h1M62 110h1M66 110h1M67 110h1M70 110h1M74 110h1M76 110h1M78 110h1M80 110h1M83 110h1M84 110h1M86 110h1M89 110h1M91 110h1M93 110h1M99 110h1M103 110h1M109 110h1M113 110h1M130 110h1M134 110h1M138 110h1M140 110h1M144 110h1M149 110h1M2 111h1M7 111h1M13 111h1M21 111h1M25 111h1M26 111h1M27 111h1M36 111h1M38 111h1M39 111h1M51 111h1M52 111h1M54 111h1M59 111h1M60 111h1M62 111h1M66 111h1M67 111h1M76 111h1M77 111h1M78 111h1M91 111h1M92 111h1M96 111h1M115 111h1M122 111h1M127 111h1M136 111h1M147 111h1M3 112h1M11 112h1M12 112h1M19 112h1M23 112h1M24 112h1M27 112h1M30 112h1M36 112h1M44 112h1M50 112h1M62 112h1M81 112h1M88 112h1M90 112h1M91 112h1M92 112h1M96 112h1M99 112h1M100 112h1M105 112h1M113 112h1M119 112h1M122 112h1M130 112h1M132 112h1M133 112h1M140 112h1M146 112h1M148 112h1M6 113h1M15 113h1M21 113h1M23 113h1M25 113h1M26 113h1M31 113h1M32 113h1M37 113h1M45 113h1M46 113h1M51 113h1M52 113h1M63 113h1M66 113h1M74 113h1M77 113h1M78 113h1M80 113h1M81 113h1M86 113h1M88 113h1M90 113h1M103 113h1M108 113h1M109 113h1M110 113h1M112 113h1M131 113h1M137 113h1M140 113h1M146 113h1M148 113h1M4 114h1M19 114h1M21 114h1M25 114h1M31 114h1M45 114h1M56 114h1M70 114h1M73 114h1M78 114h1M88 114h1M99 114h1M109 114h1M115 114h1M118 114h1M127 114h1M136 114h1M149 114h1M150 114h1M4 115h1M6 115h1M7 115h1M9 115h1M10 115h1M17 115h1M19 115h1M25 115h1M35 115h1M44 115h1M45 115h1M49 115h1M51 115h1M53 115h1M54 115h1M66 115h1M71 115h1M73 115h1M76 115h1M78 115h1M85 115h1M89 115h1M90 115h1M91 115h1M92 115h1M94 115h1M95 115h1M99 115h1M103 115h1M107 115h1M108 115h1M111 115h1M114 115h1M119 115h1M122 115h1M125 115h1M131 115h1M133 115h1M137 115h1M140 115h1M147 115h1M149 115h1M3 116h1M12 116h1M15 116h1M19 116h1M25 116h1M27 116h1M28 116h1M29 116h1M32 116h1M38 116h1M40 116h1M45 116h1M49 116h1M50 116h1M53 116h1M54 116h1M56 116h1M80 116h1M85 116h1M90 116h1M103 116h1M109 116h1M122 116h1M129 116h1M130 116h1M139 116h1M140 116h1M141 116h1M149 116h1M4 117h1M16 117h1M28 117h1M39 117h1M53 117h1M59 117h1M60 117h1M82 117h1M84 117h1M108 117h1M124 117h1M6 118h1M7 118h1M13 118h1M15 118h1M16 118h1M28 118h1M30 118h1M31 118h1M37 118h1M44 118h1M48 118h1M49 118h1M51 118h1M66 118h1M67 118h1M68 118h1M71 118h1M73 118h1M74 118h1M78 118h1M83 118h1M87 118h1M91 118h1M94 118h1M108 118h1M109 118h1M114 118h1M121 118h1M122 118h1M127 118h1M135 118h1M140 118h1M6 119h1M7 119h1M11 119h1M17 119h1M20 119h1M25 119h1M27 119h1M30 119h1M32 119h1M37 119h1M38 119h1M39 119h1M44 119h1M51 119h1M57 119h1M60 119h1M63 119h1M71 119h1M74 119h1M82 119h1M87 119h1M90 119h1M94 119h1M97 119h1M103 119h1M106 119h1M107 119h1M108 119h1M112 119h1M115 119h1M136 119h1M143 119h1M150 119h1M5 120h1M6 120h1M20 120h1M25 120h1M45 120h1M49 120h1M56 120h1M60 120h1M63 120h1M68 120h1M70 120h1M84 120h1M91 120h1M96 120h1M102 120h1M109 120h1M121 120h1M136 120h1M137 120h1M138 120h1M149 120h1M150 120h1M10 121h1M11 121h1M16 121h1M25 121h1M45 121h1M48 121h1M52 121h1M57 121h1M70 121h1M78 121h1M81 121h1M82 121h1M90 121h1M92 121h1M99 121h1M100 121h1M118 121h1M120 121h1M134 121h1M147 121h1M148 121h1M149 121h1M7 122h1M9 122h1M13 122h1M15 122h1M21 122h1M23 122h1M24 122h1M26 122h1M36 122h1M39 122h1M51 122h1M53 122h1M59 122h1M60 122h1M68 122h1M76 122h1M82 122h1M86 122h1M94 122h1M96 122h1M100 122h1M106 122h1M111 122h1M112 122h1M115 122h1M116 122h1M118 122h1M132 122h1M145 122h1M148 122h1M4 123h1M7 123h1M19 123h1M53 123h1M89 123h1M102 123h1M39 124h1M74 124h1M84 124h1M102 124h1M117 124h1M130 124h1M134 124h1M137 124h1M149 124h1M3 125h1M7 125h1M9 125h1M16 125h1M25 125h1M26 125h1M27 125h1M29 125h1M35 125h1M44 125h1M48 125h1M52 125h1M56 125h1M67 125h1M74 125h1M87 125h1M88 125h1M102 125h1M115 125h1M126 125h1M130 125h1M134 125h1M138 125h1M150 125h1M13 126h1M26 126h1M29 126h1M37 126h1M40 126h1M49 126h1M51 126h1M70 126h1M73 126h1M82 126h1M86 126h1M90 126h1M91 126h1M100 126h1M125 126h1M131 126h1M134 126h1M135 126h1M3 127h1M9 127h1M13 127h1M15 127h1M19 127h1M21 127h1M24 127h1M25 127h1M27 127h1M36 127h1M40 127h1M46 127h1M49 127h1M59 127h1M63 127h1M74 127h1M78 127h1M81 127h1M82 127h1M100 127h1M111 127h1M114 127h1M118 127h1M138 127h1M147 127h1M149 127h1M150 127h1M2 128h1M60 128h1M99 128h1M100 128h1M136 128h1M140 128h1M141 128h1M116 129h1M3 130h1M4 130h1M7 130h1M8 130h1M9 130h1M13 130h1M16 130h1M31 130h1M39 130h1M46 130h1M48 130h1M49 130h1M50 130h1M52 130h1M63 130h1M66 130h1M67 130h1M71 130h1M76 130h1M80 130h1M81 130h1M85 130h1M94 130h1M96 130h1M102 130h1M106 130h1M110 130h1M112 130h1M116 130h1M124 130h1M125 130h1M131 130h1M142 130h1M4 131h1M5 131h1M7 131h1M12 131h1M17 131h1M20 131h1M25 131h1M27 131h1M32 131h1M37 131h1M39 131h1M43 131h1M44 131h1M50 131h1M55 131h1M59 131h1M61 131h1M63 131h1M74 131h1M82 131h1M84 131h1M92 131h1M102 131h1M107 131h1M113 131h1M115 131h1M126 131h1M130 131h1M138 131h1M139 131h1M147 131h1M7 132h1M19 132h1M21 132h1M24 132h1M36 132h1M37 132h1M40 132h1M60 132h1M63 132h1M64 132h1M67 132h1M77 132h1M78 132h1M82 132h1M92 132h1M112 132h1M122 132h1M145 132h1M9 133h1M25 133h1M44 133h1M52 133h1M53 133h1M86 133h1M107 133h1M112 133h1M115 133h1M138 133h1M9 134h1M17 134h1M20 134h1M26 134h1M31 134h1M32 134h1M37 134h1M38 134h1M66 134h1M82 134h1M91 134h1M95 134h1M99 134h1M110 134h1M121 134h1M124 134h1M125 134h1M126 134h1M136 134h1M140 134h1M143 134h1M150 134h1M4 135h1M7 135h1M12 135h1M16 135h1M19 135h1M20 135h1M29 135h1M30 135h1M38 135h1M48 135h1M51 135h1M52 135h1M63 135h1M71 135h1M78 135h1M83 135h1M118 135h1M126 135h1M136 135h1M139 135h1M4 136h1M6 136h1M7 136h1M9 136h1M15 136h1M19 136h1M20 136h1M25 136h1M26 136h1M27 136h1M28 136h1M30 136h1M36 136h1M37 136h1M39 136h1M43 136h1M48 136h1M50 136h1M52 136h1M60 136h1M62 136h1M63 136h1M74 136h1M76 136h1M81 136h1M84 136h1M90 136h1M92 136h1M93 136h1M96 136h1M99 136h1M103 136h1M106 136h1M111 136h1M114 136h1M119 136h1M120 136h1M128 136h1M134 136h1M135 136h1M3 137h1M7 137h1M16 137h1M17 137h1M21 137h1M23 137h1M25 137h1M28 137h1M29 137h1M30 137h1M37 137h1M43 137h1M44 137h1M48 137h1M49 137h1M56 137h1M59 137h1M70 137h1M76 137h1M78 137h1M80 137h1M82 137h1M84 137h1M92 137h1M94 137h1M102 137h1M103 137h1M106 137h1M107 137h1M109 137h1M113 137h1M115 137h1M120 137h1M124 137h1M149 137h1M3 138h1M7 138h1M9 138h1M10 138h1M11 138h1M13 138h1M16 138h1M21 138h1M25 138h1M26 138h1M36 138h1M44 138h1M45 138h1M49 138h1M62 138h1M67 138h1M74 138h1M78 138h1M90 138h1M105 138h1M109 138h1M110 138h1M120 138h1M125 138h1M127 138h1M131 138h1M133 138h1M143 138h1M147 138h1M6 139h1M24 139h1M60 139h1M68 139h1M99 139h1M103 139h1M116 139h1M131 139h1M135 139h1M4 140h1M5 140h1M13 140h1M16 140h1M18 140h1M25 140h1M26 140h1M27 140h1M31 140h1M39 140h1M41 140h1M49 140h1M50 140h1M52 140h1M56 140h1M68 140h1M77 140h1M83 140h1M92 140h1M97 140h1M110 140h1M112 140h1M113 140h1M115 140h1M116 140h1M118 140h1M128 140h1M134 140h1M143 140h1M147 140h1M148 140h1M150 140h1M5 141h1M7 141h1M14 141h1M18 141h1M37 141h1M39 141h1M53 141h1M62 141h1M67 141h1M74 141h1M85 141h1M106 141h1M116 141h1M128 141h1M130 142h1M6 143h1M11 143h1M21 143h1M29 143h1M40 143h1M45 143h1M48 143h1M51 143h1M59 143h1M67 143h1M78 143h1M82 143h1M94 143h1M108 143h1M119 143h1M134 143h1M138 143h1M140 143h1M147 143h1M149 143h1M13 144h1M57 144h1M66 144h1M110 144h1M147 144h1M6 145h1M16 145h1M19 145h1M20 145h1M32 145h1M48 145h1M51 145h1M54 145h1M60 145h1M62 145h1M100 145h1M106 145h1M122 145h1M132 145h1M150 145h1M48 146h1M56 146h1M109 146h1M112 146h1M113 146h1M3 147h1M11 147h1M12 147h1M13 147h1M23 147h1M24 147h1M25 147h1M26 147h1M29 147h1M30 147h1M39 147h1M44 147h1M46 147h1M54 147h1M56 147h1M57 147h1M61 147h1M68 147h1M73 147h1M76 147h1M77 147h1M78 147h1M81 147h1M82 147h1M83 147h1M87 147h1M92 147h1M94 147h1M95 147h1M100 147h1M111 147h1M115 147h1M121 147h1M127 147h1M131 147h1M138 147h1M140 147h1M143 147h1M144 147h1M148 147h1M149 147h1M3 148h1M21 148h1M23 148h1M25 148h1M36 148h1M39 148h1M46 148h1M49 148h1M51 148h1M53 148h1M70 148h1M74 148h1M76 148h1M77 148h1M105 148h1M112 148h1M113 148h1M121 148h1M122 148h1M140 148h1M147 148h1M4 149h1M5 149h1M6 149h1M7 149h1M11 149h1M19 149h1M23 149h1M25 149h1M27 149h1M35 149h1M36 149h1M41 149h1M45 149h1M48 149h1M49 149h1M53 149h1M54 149h1M59 149h1M68 149h1M71 149h1M102 149h1M106 149h1M110 149h1M114 149h1M115 149h1M116 149h1M120 149h1M121 149h1M124 149h1M127 149h1M137 149h1M143 149h1M147 149h1M1 150h1M4 150h1M6 150h1M8 150h1M17 150h1M20 150h1M30 150h1M32 150h1M38 150h1M40 150h1M48 150h1M50 150h1M51 150h1M53 150h1M54 150h1M59 150h1M62 150h1M68 150h1M70 150h1M71 150h1M78 150h1M79 150h1M80 150h1M103 150h1M106 150h1M114 150h1M119 150h1M120 150h1M125 150h1M127 150h1M134 150h1M140 150h1M145 150h1" stroke="#482475" stroke-width="1" stroke-opacity="0.75" fill="none"/><path transform="translate(265.5 9.85) scale(1.0007 0.9977) translate(0 0.5)" d="M20 0h1M19 1h1M50 1h1M52 1h1M109 1h1M7 3h1M12 3h1M19 3h1M23 3h1M26 3h1M39 3h1M46 3h1M48 3h1M54 3h1M56 3h1M81 3h1M118 3h1M122 3h1M136 3h1M21 4h1M27 4h1M30 4h1M32 4h1M36 4h1M39 4h1M53 4h1M68 4h1M77 4h1M78 4h1M105 4h1M106 4h1M108 4h1M109 4h1M116 4h1M118 4h1M119 4h1M120 4h1M9 5h1M12 5h1M20 5h1M21 5h1M30 5h1M11 6h1M19 6h1M21 6h1M27 6h1M39 6h1M48 6h1M49 6h1M51 6h1M61 6h1M66 6h1M67 6h1M68 6h1M78 6h1M92 6h1M94 6h1M99 6h1M106 6h1M109 6h1M127 6h1M140 6h1M147 6h1M3 7h1M12 7h1M16 7h1M17 7h1M19 7h1M21 7h1M32 7h1M36 7h1M37 7h1M38 7h1M46 7h1M50 7h1M52 7h1M54 7h1M59 7h1M60 7h1M63 7h1M67 7h1M68 7h1M70 7h1M71 7h1M78 7h1M81 7h1M83 7h1M86 7h1M90 7h1M96 7h1M102 7h1M105 7h1M106 7h1M110 7h1M134 7h1M140 7h1M150 7h1M5 9h1M23 9h1M25 9h1M45 9h1M63 9h1M21 10h1M45 10h1M6 11h1M16 11h1M23 11h1M39 11h1M56 11h1M62 11h1M77 11h1M91 11h1M92 11h1M109 11h1M3 12h1M5 12h1M7 12h1M15 12h1M21 12h1M23 12h1M29 12h1M30 12h1M31 12h1M32 12h1M39 12h1M44 12h1M62 12h1M63 12h1M68 12h1M73 12h1M74 12h1M80 12h1M90 12h1M105 12h1M106 12h1M114 12h1M115 12h1M118 12h1M119 12h1M122 12h1M148 12h1M150 12h1M19 13h1M24 13h1M29 13h1M45 13h1M48 13h1M74 13h1M82 13h1M92 13h1M96 13h1M113 13h1M115 13h1M116 13h1M120 13h1M137 13h1M149 13h1M20 14h1M12 15h1M19 15h1M20 15h1M39 15h1M60 15h1M63 15h1M73 15h1M78 15h1M7 16h1M11 16h1M18 16h1M24 16h1M30 16h1M44 16h1M53 16h1M59 16h1M61 16h1M77 16h1M81 16h1M82 16h1M91 16h1M94 16h1M96 16h1M111 16h1M113 16h1M115 16h1M122 16h1M127 16h1M136 16h1M141 16h1M147 16h1M149 16h1M7 17h1M21 17h1M26 17h1M27 17h1M29 17h1M46 17h1M48 17h1M82 17h1M116 17h1M130 17h1M16 18h1M1 19h1M3 19h1M6 19h1M7 19h1M13 19h1M15 19h1M38 19h1M44 19h1M45 19h1M46 19h1M50 19h1M53 19h1M62 19h1M63 19h1M66 19h1M68 19h1M91 19h1M94 19h1M102 19h1M109 19h1M111 19h1M118 19h1M121 19h1M122 19h1M130 19h1M138 19h1M143 19h1M150 19h1M0 20h1M5 20h1M14 20h1M15 20h1M29 20h1M31 20h1M32 20h1M46 20h1M49 20h1M50 20h1M52 20h1M62 20h1M66 20h1M81 20h1M100 20h1M107 20h1M111 20h1M114 20h1M115 20h1M122 20h1M140 20h1M143 20h1M4 21h1M5 21h1M6 21h1M7 21h1M10 21h1M12 21h1M17 21h1M29 21h1M37 21h1M39 21h1M52 21h1M54 21h1M67 21h1M71 21h1M73 21h1M83 21h1M107 21h1M130 21h1M136 21h1M140 21h1M149 21h1M150 21h1M3 23h1M9 23h1M11 23h1M12 23h1M24 23h1M27 23h1M39 23h1M49 23h1M54 23h1M56 23h1M63 23h1M78 23h1M83 23h1M91 23h1M94 23h1M99 23h1M109 23h1M110 23h1M118 23h1M130 23h1M131 23h1M13 24h1M16 24h1M23 24h1M29 24h1M45 24h1M52 24h1M53 24h1M56 24h1M61 24h1M67 24h1M73 24h1M78 24h1M88 24h1M96 24h1M100 24h1M109 24h1M111 24h1M116 24h1M140 24h1M143 24h1M9 25h1M29 25h1M53 25h1M62 25h1M66 25h1M67 25h1M74 25h1M78 25h1M90 25h1M91 25h1M96 25h1M122 25h1M141 25h1M3 26h1M17 26h1M27 26h1M30 26h1M36 26h1M44 26h1M46 26h1M48 26h1M54 26h1M62 26h1M66 26h1M67 26h1M68 26h1M76 26h1M80 26h1M84 26h1M92 26h1M99 26h1M106 26h1M109 26h1M112 26h1M115 26h1M118 26h1M120 26h1M130 26h1M146 26h1M148 26h1M4 27h1M6 27h1M17 27h1M23 27h1M26 27h1M38 27h1M45 27h1M60 27h1M63 27h1M78 27h1M82 27h1M83 27h1M100 27h1M118 27h1M130 27h1M132 27h1M134 27h1M137 27h1M12 29h1M13 29h1M17 29h1M20 29h1M21 29h1M24 29h1M25 29h1M31 29h1M37 29h1M45 29h1M56 29h1M96 29h1M99 29h1M102 29h1M103 29h1M105 29h1M106 29h1M107 29h1M109 29h1M110 29h1M112 29h1M113 29h1M115 29h1M119 29h1M120 29h1M141 29h1M148 29h1M149 29h1M150 29h1M4 30h1M5 30h1M12 30h1M16 30h1M26 30h1M39 30h1M53 30h1M63 30h1M74 30h1M77 30h1M120 30h1M122 30h1M130 30h1M12 31h1M20 31h1M29 31h1M45 31h1M48 31h1M59 31h1M70 31h1M82 31h1M92 31h1M121 31h1M4 32h1M7 32h1M12 32h1M20 32h1M94 32h1M4 36h1M7 36h1M26 36h1M39 36h1M43 36h1M51 36h1M53 36h1M74 36h1M77 36h1M99 36h1M107 36h1M119 36h1M7 37h1M21 37h1M29 37h1M48 37h1M49 37h1M52 37h1M53 37h1M56 37h1M66 37h1M68 37h1M73 37h1M75 37h1M78 37h1M80 37h1M81 37h1M82 37h1M87 37h1M102 37h1M106 37h1M109 37h1M115 37h1M130 37h1M150 37h1M7 38h1M19 38h1M27 38h1M48 38h1M53 38h1M136 38h1M3 39h1M4 39h1M6 39h1M11 39h1M12 39h1M15 39h1M21 39h1M23 39h1M30 39h1M36 39h1M50 39h1M52 39h1M68 39h1M92 39h1M94 39h1M110 39h1M113 39h1M115 39h1M120 39h1M125 39h1M137 39h1M138 39h1M150 39h1M36 43h1M150 43h1M12 44h1M16 44h1M19 44h1M26 44h1M49 44h1M56 44h1M63 44h1M78 44h1M9 45h1M10 45h1M13 45h1M19 45h1M24 45h1M27 45h1M29 45h1M31 45h1M48 45h1M49 45h1M52 45h1M54 45h1M56 45h1M62 45h1M73 45h1M90 45h1M91 45h1M92 45h1M102 45h1M103 45h1M106 45h1M109 45h1M111 45h1M137 45h1M148 45h1M150 45h1M3 46h1M7 46h1M17 46h1M19 46h1M20 46h1M26 46h1M51 46h1M53 46h1M54 46h1M61 46h1M73 46h1M90 46h1M94 46h1M110 46h1M115 46h1M137 46h1M150 46h1M3 48h1M6 48h1M13 48h1M17 48h1M26 48h1M31 48h1M37 48h1M38 48h1M45 48h1M56 48h1M78 48h1M91 48h1M107 48h1M140 48h1M6 49h1M20 49h1M23 49h1M37 49h1M44 49h1M45 49h1M51 49h1M57 49h1M61 49h1M68 49h1M74 49h1M82 49h1M92 49h1M99 49h1M109 49h1M110 49h1M111 49h1M113 49h1M150 49h1M1 50h1M7 50h1M19 50h1M20 50h1M39 50h1M56 50h1M99 50h1M107 50h1M6 51h1M36 51h1M46 51h1M49 51h1M62 51h1M67 51h1M74 51h1M78 51h1M80 51h1M81 51h1M82 51h1M90 51h1M94 51h1M109 51h1M110 51h1M1 52h1M7 52h1M20 52h1M21 52h1M24 52h1M37 52h1M39 52h1M45 52h1M60 52h1M68 52h1M70 52h1M73 52h1M83 52h1M87 52h1M91 52h1M99 52h1M119 52h1M122 52h1M141 52h1M150 52h1M4 53h1M16 53h1M19 53h1M24 53h1M25 53h1M30 53h1M36 53h1M37 53h1M38 53h1M46 53h1M60 53h1M63 53h1M66 53h1M81 53h1M87 53h1M105 53h1M107 53h1M3 54h1M7 54h1M21 54h1M23 54h1M26 54h1M45 54h1M46 54h1M109 54h1M121 54h1M122 54h1M3 56h1M11 56h1M23 56h1M24 56h1M29 56h1M37 56h1M44 56h1M45 56h1M48 56h1M50 56h1M74 56h1M84 56h1M86 56h1M99 56h1M103 56h1M105 56h1M112 56h1M115 56h1M119 56h1M136 56h1M143 56h1M145 56h1M49 57h1M7 59h1M16 59h1M31 59h1M84 59h1M99 59h1M102 59h1M147 59h1M7 60h1M15 60h1M27 60h1M52 60h1M53 60h1M61 60h1M63 60h1M78 60h1M82 60h1M83 60h1M92 60h1M112 60h1M126 60h1M127 60h1M130 60h1M149 60h1M6 61h1M16 61h1M24 61h1M46 61h1M49 61h1M60 61h1M68 61h1M82 61h1M83 61h1M119 61h1M130 61h1M140 61h1M11 62h1M12 62h1M19 62h1M20 62h1M25 62h1M26 62h1M45 62h1M51 62h1M63 62h1M82 62h1M91 62h1M92 62h1M94 62h1M115 62h1M116 62h1M118 62h1M148 62h1M7 63h1M9 63h1M12 63h1M15 63h1M19 63h1M23 63h1M27 63h1M30 63h1M44 63h1M53 63h1M60 63h1M62 63h1M81 63h1M84 63h1M96 63h1M99 63h1M116 63h1M6 66h1M19 66h1M20 66h1M25 66h1M26 66h1M37 66h1M53 66h1M6 67h1M7 67h1M21 67h1M24 67h1M25 67h1M26 67h1M51 67h1M82 67h1M147 67h1M4 68h1M6 68h1M7 68h1M12 68h1M19 68h1M26 68h1M37 68h1M39 68h1M49 68h1M52 68h1M61 68h1M109 68h1M7 70h1M31 70h1M52 70h1M119 70h1M7 71h1M21 71h1M12 73h1M15 73h1M21 73h1M24 73h1M37 73h1M45 73h1M46 73h1M52 73h1M12 74h1M13 74h1M25 74h1M30 74h1M36 74h1M49 74h1M51 74h1M56 74h1M77 74h1M90 74h1M92 74h1M102 74h1M37 75h1M26 76h1M4 77h1M11 77h1M16 77h1M30 77h1M36 77h1M74 77h1M110 77h1M130 77h1M138 77h1M150 77h1M4 78h1M6 78h1M7 78h1M15 78h1M23 78h1M24 78h1M25 78h1M27 78h1M37 78h1M44 78h1M48 78h1M51 78h1M60 78h1M88 78h1M99 78h1M106 78h1M107 78h1M108 78h1M109 78h1M120 78h1M130 78h1M141 78h1M149 78h1M12 80h1M26 80h1M37 80h1M51 80h1M81 80h1M3 81h1M7 81h1M16 81h1M20 81h1M37 81h1M51 81h1M53 81h1M63 81h1M80 81h1M82 81h1M86 81h1M102 81h1M140 81h1M150 81h1M13 82h1M16 82h1M17 82h1M27 82h1M31 82h1M37 82h1M49 82h1M51 82h1M60 82h1M61 82h1M62 82h1M67 82h1M81 82h1M84 82h1M92 82h1M110 82h1M111 82h1M115 82h1M116 82h1M130 82h1M136 82h1M150 82h1M7 83h1M21 83h1M23 83h1M27 83h1M52 83h1M60 83h1M61 83h1M137 83h1M26 84h1M56 84h1M59 84h1M63 84h1M82 84h1M91 84h1M94 84h1M102 84h1M118 84h1M147 84h1M7 86h1M56 86h1M81 86h1M37 87h1M52 87h1M53 87h1M24 88h1M78 88h1M109 88h1M7 90h1M12 90h1M25 90h1M45 90h1M46 90h1M51 90h1M74 90h1M105 90h1M131 90h1M11 91h1M16 91h1M19 91h1M23 91h1M25 91h1M45 91h1M48 91h1M52 91h1M62 91h1M84 91h1M103 91h1M116 91h1M122 91h1M137 91h1M148 91h1M6 92h1M11 92h1M13 92h1M26 92h1M31 92h1M39 92h1M45 92h1M49 92h1M60 92h1M62 92h1M74 92h1M82 92h1M99 92h1M102 92h1M105 92h1M122 92h1M143 92h1M6 94h1M16 94h1M19 94h1M23 94h1M32 94h1M39 94h1M46 94h1M51 94h1M62 94h1M84 94h1M110 94h1M120 94h1M7 96h1M13 96h1M16 96h1M24 96h1M25 96h1M29 96h1M63 96h1M99 96h1M147 96h1M6 99h1M23 99h1M26 99h1M29 99h1M36 99h1M49 99h1M50 99h1M52 99h1M56 99h1M59 99h1M63 99h1M78 99h1M92 99h1M96 99h1M107 99h1M127 99h1M130 99h1M131 99h1M20 100h1M24 100h1M27 100h1M109 100h1M7 102h1M19 102h1M29 102h1M37 102h1M45 102h1M59 102h1M74 102h1M81 102h1M84 102h1M92 102h1M105 102h1M106 102h1M29 103h1M45 103h1M56 103h1M91 103h1M106 103h1M4 105h1M7 105h1M12 105h1M29 105h1M53 105h1M56 105h1M90 105h1M92 105h1M102 105h1M106 105h1M119 105h1M150 105h1M4 106h1M6 106h1M7 106h1M12 106h1M26 106h1M29 106h1M37 106h1M45 106h1M78 106h1M102 106h1M103 106h1M105 106h1M109 106h1M20 107h1M21 107h1M29 107h1M36 107h1M48 107h1M50 107h1M53 107h1M78 107h1M99 107h1M136 107h1M4 108h1M78 108h1M138 108h1M1 109h1M4 109h1M6 109h1M11 109h1M19 109h1M23 109h1M24 109h1M26 109h1M29 109h1M37 109h1M45 109h1M49 109h1M51 109h1M54 109h1M68 109h1M78 109h1M88 109h1M100 109h1M106 109h1M112 109h1M130 109h1M131 109h1M150 109h1M7 110h1M23 110h1M29 110h1M39 110h1M46 110h1M49 110h1M51 110h1M77 110h1M82 110h1M94 110h1M116 110h1M143 110h1M148 110h1M16 111h1M19 111h1M20 111h1M24 111h1M45 111h1M49 111h1M82 111h1M113 111h1M116 111h1M130 111h1M137 111h1M26 112h1M29 112h1M56 112h1M60 112h1M109 112h1M13 113h1M16 113h1M29 113h1M39 113h1M49 113h1M111 113h1M118 113h1M12 114h1M20 114h1M12 115h1M13 115h1M16 115h1M20 115h1M26 115h1M29 115h1M37 115h1M39 115h1M46 115h1M56 115h1M62 115h1M82 115h1M136 115h1M150 115h1M4 116h1M13 116h1M17 116h1M24 116h1M62 116h1M63 116h1M82 116h1M91 116h1M110 116h1M111 116h1M127 116h1M137 116h1M3 118h1M4 118h1M12 118h1M19 118h1M23 118h1M26 118h1M27 118h1M62 118h1M84 118h1M113 118h1M130 118h1M4 119h1M12 119h1M29 119h1M36 119h1M52 119h1M56 119h1M61 119h1M70 119h1M105 119h1M147 119h1M4 120h1M13 120h1M26 120h1M29 120h1M30 120h1M39 120h1M78 120h1M94 120h1M125 120h1M19 121h1M31 121h1M54 121h1M3 122h1M12 122h1M16 122h1M19 122h1M20 122h1M25 122h1M30 122h1M52 122h1M54 122h1M91 122h1M92 122h1M39 125h1M120 125h1M60 126h1M6 127h1M16 127h1M60 127h1M99 127h1M116 127h1M130 127h1M17 130h1M19 130h1M21 130h1M23 130h1M26 130h1M27 130h1M30 130h1M37 130h1M60 130h1M61 130h1M77 130h1M78 130h1M82 130h1M99 130h1M109 130h1M111 130h1M118 130h1M127 130h1M23 131h1M90 131h1M99 131h1M109 131h1M27 132h1M7 134h1M27 134h1M3 136h1M16 136h1M21 136h1M38 136h1M56 136h1M82 136h1M107 136h1M115 136h1M13 137h1M27 137h1M39 137h1M45 137h1M46 137h1M83 137h1M91 137h1M111 137h1M116 137h1M19 138h1M39 138h1M77 138h1M108 138h1M6 140h1M7 140h1M20 140h1M21 140h1M24 140h1M48 140h1M61 140h1M81 140h1M16 141h1M25 141h1M29 141h1M52 141h1M78 141h1M19 143h1M20 143h1M24 143h1M56 143h1M92 143h1M110 143h1M150 143h1M56 145h1M26 146h1M6 147h1M16 147h1M59 147h1M67 147h1M84 147h1M96 147h1M119 147h1M12 148h1M26 148h1M29 148h1M45 148h1M62 148h1M91 148h1M110 148h1M13 149h1M16 149h1M21 149h1M29 149h1M60 149h1M78 149h1M7 150h1M12 150h1M19 150h1M21 150h1M29 150h1M37 150h1M39 150h1M43 150h1M45 150h1M46 150h1M49 150h1M52 150h1M77 150h1M81 150h1M82 150h1M105 150h1M109 150h1M115 150h1M143 150h1" stroke="#453781" stroke-width="1" stroke-opacity="0.9" fill="none"/><path transform="translate(265.5 9.85) scale(1.0007 0.9977) translate(0 0.5)" d="M12 4h1M13 4h1M19 4h1M23 4h1M29 4h1M56 4h1M111 4h1M127 4h1M20 6h1M24 7h1M27 7h1M39 7h1M51 7h1M74 7h1M77 7h1M99 7h1M116 7h1M127 7h1M12 9h1M16 9h1M150 9h1M52 10h1M12 11h1M19 11h1M44 11h1M81 11h1M4 12h1M9 12h1M11 12h1M16 12h1M27 12h1M36 12h1M49 12h1M56 12h1M82 12h1M94 12h1M109 12h1M120 12h1M4 13h1M23 13h1M26 13h1M63 13h1M26 15h1M9 16h1M12 16h1M25 16h1M27 16h1M49 16h1M50 16h1M60 16h1M116 16h1M4 19h1M11 19h1M29 19h1M96 19h1M110 19h1M6 20h1M45 20h1M48 20h1M127 20h1M30 21h1M36 21h1M44 21h1M45 21h1M49 21h1M53 21h1M80 21h1M82 21h1M109 21h1M116 21h1M147 21h1M4 23h1M13 23h1M50 23h1M53 23h1M82 23h1M150 23h1M7 24h1M25 24h1M38 24h1M74 24h1M84 24h1M99 24h1M130 24h1M16 25h1M24 25h1M32 25h1M60 25h1M77 25h1M82 25h1M99 25h1M102 25h1M13 26h1M15 26h1M38 26h1M61 26h1M91 26h1M96 26h1M127 26h1M150 26h1M7 27h1M12 27h1M16 27h1M29 27h1M48 27h1M56 27h1M90 27h1M94 27h1M106 27h1M115 27h1M122 27h1M143 27h1M147 27h1M150 27h1M4 29h1M19 29h1M27 29h1M30 29h1M51 29h1M78 29h1M136 29h1M138 29h1M21 30h1M29 30h1M48 30h1M51 30h1M59 30h1M116 30h1M25 32h1M12 36h1M21 36h1M59 36h1M78 36h1M63 37h1M111 37h1M24 38h1M26 38h1M7 39h1M99 39h1M112 39h1M11 44h1M21 44h1M20 45h1M21 45h1M61 45h1M74 45h1M110 45h1M60 46h1M82 46h1M99 46h1M116 46h1M20 48h1M27 48h1M30 48h1M51 48h1M74 48h1M90 48h1M12 49h1M16 49h1M21 49h1M52 49h1M94 49h1M16 50h1M23 50h1M82 50h1M7 51h1M29 51h1M30 51h1M48 51h1M52 51h1M63 51h1M99 51h1M116 51h1M10 52h1M49 52h1M51 52h1M74 52h1M118 52h1M21 53h1M23 53h1M109 53h1M130 53h1M4 56h1M12 56h1M27 56h1M73 56h1M106 56h1M30 59h1M36 59h1M16 60h1M25 60h1M46 60h1M99 60h1M26 61h1M45 61h1M13 63h1M37 63h1M51 63h1M80 68h1M82 68h1M56 73h1M7 74h1M24 74h1M45 74h1M48 74h1M52 74h1M147 74h1M7 77h1M25 77h1M29 78h1M36 78h1M122 78h1M21 80h1M68 80h1M11 81h1M12 82h1M21 82h1M23 82h1M25 82h1M46 82h1M50 82h1M68 82h1M118 82h1M24 84h1M27 90h1M48 90h1M26 91h1M109 91h1M130 92h1M148 92h1M12 94h1M27 94h1M49 94h1M19 96h1M26 96h1M7 99h1M24 99h1M25 99h1M39 99h1M46 99h1M51 99h1M60 99h1M25 102h1M27 106h1M56 106h1M12 109h1M21 109h1M53 109h1M91 109h1M127 109h1M147 109h1M19 110h1M45 110h1M4 111h1M37 111h1M39 112h1M27 115h1M7 116h1M16 116h1M21 116h1M30 116h1M46 116h1M51 116h1M52 118h1M82 118h1M12 120h1M27 122h1M78 122h1M4 127h1M7 127h1M20 127h1M26 127h1M109 127h1M24 130h1M53 130h1M92 130h1M140 130h1M29 136h1M29 138h1M130 140h1M27 143h1M21 147h1M27 147h1M74 147h1M109 147h1M92 148h1M9 150h1M23 150h1M26 150h1M27 150h1" stroke="#3b528b" stroke-width="1" stroke-opacity="0.95" fill="none"/><path transform="translate(265.5 9.85) scale(1.0007 0.9977) translate(0 0.5)" d="M25 1h1M25 3h1M81 6h1M116 6h1M13 7h1M20 7h1M82 7h1M147 7h1M78 12h1M96 12h1M107 12h1M130 12h1M7 13h1M27 13h1M19 17h1M17 19h1M24 19h1M48 19h1M7 20h1M56 20h1M68 20h1M103 20h1M23 21h1M63 21h1M21 23h1M46 23h1M92 23h1M19 24h1M92 24h1M1 25h1M3 25h1M45 25h1M130 25h1M13 27h1M92 27h1M36 29h1M91 29h1M92 29h1M29 36h1M53 39h1M78 39h1M118 39h1M25 45h1M83 45h1M147 45h1M23 46h1M49 46h1M19 48h1M49 48h1M53 48h1M63 48h1M102 48h1M115 48h1M46 49h1M48 49h1M39 53h1M48 53h1M20 56h1M21 63h1M48 63h1M20 68h1M109 74h1M12 78h1M39 78h1M6 81h1M7 82h1M45 83h1M99 84h1M29 91h1M23 92h1M24 92h1M27 92h1M29 92h1M12 96h1M84 99h1M48 102h1M20 103h1M12 107h1M74 109h1M48 115h1M6 116h1M136 116h1M39 118h1M12 130h1M25 130h1M116 136h1M7 147h1M45 147h1" stroke="#2c728e" stroke-width="1" stroke-opacity="1" fill="none"/><path transform="translate(265.5 9.85) scale(1.0007 0.9977) translate(0 0.5)" d="M45 3h1M26 4h1M48 4h1M82 4h1M96 4h1M20 12h1M67 12h1M56 13h1M20 16h1M20 19h1M81 19h1M12 20h1M16 20h1M19 20h1M116 20h1M81 21h1M4 26h1M116 26h1M36 27h1M39 27h1M46 27h1M27 36h1M27 39h1M48 39h1M3 45h1M99 45h1M118 45h1M27 46h1M4 48h1M39 48h1M13 56h1M12 67h1M19 81h1M21 81h1M4 82h1M116 92h1M4 96h1M45 99h1M20 116h1M26 116h1M92 116h1M45 118h1" stroke="#21918c" stroke-width="1" stroke-opacity="1" fill="none"/><path transform="translate(265.5 9.85) scale(1.0007 0.9977) translate(0 0.5)" d="M7 4h1M4 7h1M78 13h1M48 21h1M118 21h1M26 25h1M25 26h1M52 26h1M21 48h1M26 52h1M13 78h1M21 118h1" stroke="#35b779" stroke-width="1" stroke-opacity="1" fill="none"/><path transform="translate(265.5 9.85) scale(1.0007 0.9977) translate(0 0.5)" d="M63 29h1M29 63h1M140 78h1M78 140h1" stroke="#8fd744" stroke-width="1" stroke-opacity="1" fill="none"/><path transform="translate(265.5 9.85) scale(1.0007 0.9977) translate(0 0.5)" d="M36 19h1M53 27h1M19 36h1M106 48h1M27 53h1M48 106h1" stroke="#e3d03a" stroke-width="1" stroke-opacity="1" fill="none"/><path transform="translate(265.5 9.85) scale(1.0007 0.9977) translate(0 0.5)" d="M29 3h1M56 7h1M66 7h1M136 12h1M29 16h1M46 16h1M83 16h1M99 16h1M23 20h1M26 20h1M24 21h1M84 21h1M99 21h1M105 21h1M20 23h1M60 23h1M74 23h1M21 24h1M49 24h1M20 26h1M49 26h1M78 26h1M49 27h1M3 29h1M16 29h1M84 29h1M90 29h1M91 39h1M16 46h1M147 48h1M24 49h1M26 49h1M27 49h1M56 52h1M7 56h1M52 56h1M23 60h1M78 61h1M74 63h1M7 66h1M23 74h1M63 74h1M26 78h1M61 78h1M16 83h1M21 84h1M29 84h1M29 90h1M39 91h1M16 99h1M21 99h1M21 105h1M12 136h1M48 147h1" stroke="#b8804f" stroke-width="1" stroke-opacity="0.8" fill="none"/></g><linearGradient id="dg1" gradientUnits="userSpaceOnUse" x1="265.5" y1="9.85" x2="416.6" y2="160.5"><stop offset="0" stop-color="#c8c050" stop-opacity="0.9"/><stop offset="0.25" stop-color="#9aa860" stop-opacity="0.75"/><stop offset="0.5" stop-color="#5a8a90" stop-opacity="0.7"/><stop offset="0.75" stop-color="#3f6f9a" stop-opacity="0.65"/><stop offset="1" stop-color="#3f6090" stop-opacity="0.55"/></linearGradient><line x1="265.5" y1="9.85" x2="416.6" y2="160.5" stroke="url(#dg1)" stroke-width="0.7"/><rect x="265.5" y="9.85" width="151.1" height="150.65" fill="none" stroke="#000" stroke-width="0.4"/><rect x="427.1" y="9.85" width="7.6" height="150.65" fill="url(#vir)" stroke="#000" stroke-width="0.45"/><path d="M265.54 160.5v1.9M301.22 160.5v1.9M336.91 160.5v1.9M372.6 160.5v1.9M408.28 160.5v1.9M265.5 9.89h-1.9M265.5 27.68h-1.9M265.5 45.47h-1.9M265.5 63.26h-1.9M265.5 81.05h-1.9M265.5 98.84h-1.9M265.5 116.63h-1.9M265.5 134.42h-1.9M265.5 152.21h-1.9M434.7 160.5h1.9M434.7 130.37h1.9M434.7 100.24h1.9M434.7 70.11h1.9M434.7 39.98h1.9M434.7 9.85h1.9" stroke="#000" stroke-width="0.45" fill="none"/></g>
<g><rect x="502.5" y="9.85" width="151.1" height="150.65" fill="#440154"/><g filter="url(#bl)"><path transform="translate(502.5 9.85) scale(1.0007 0.9977) translate(0 0.5)" d="M1 0h1M3 0h1M5 0h1M6 0h1M12 0h1M20 0h1M26 0h1M31 0h1M32 0h1M33 0h1M38 0h1M40 0h1M54 0h1M56 0h1M59 0h1M60 0h1M62 0h1M66 0h1M67 0h1M71 0h1M72 0h1M79 0h1M88 0h1M104 0h1M107 0h1M111 0h1M117 0h1M120 0h1M126 0h1M127 0h1M129 0h1M131 0h1M145 0h1M0 1h1M2 1h1M5 1h1M7 1h1M8 1h1M11 1h1M20 1h1M21 1h1M27 1h1M28 1h1M30 1h1M31 1h1M32 1h1M33 1h1M35 1h1M38 1h1M42 1h1M44 1h1M45 1h1M47 1h1M56 1h1M58 1h1M59 1h1M60 1h1M63 1h1M66 1h1M69 1h1M72 1h1M84 1h1M87 1h1M88 1h1M89 1h1M98 1h1M99 1h1M103 1h1M105 1h1M106 1h1M107 1h1M113 1h1M115 1h1M118 1h1M130 1h1M133 1h1M146 1h1M1 2h1M19 2h1M22 2h1M24 2h1M26 2h1M34 2h1M36 2h1M45 2h1M47 2h1M54 2h1M55 2h1M57 2h1M58 2h1M62 2h1M68 2h1M76 2h1M97 2h1M108 2h1M110 2h1M131 2h1M133 2h1M138 2h1M0 3h1M7 3h1M11 3h1M13 3h1M28 3h1M31 3h1M33 3h1M34 3h1M37 3h1M42 3h1M59 3h1M67 3h1M69 3h1M71 3h1M72 3h1M88 3h1M89 3h1M96 3h1M98 3h1M106 3h1M122 3h1M126 3h1M130 3h1M131 3h1M135 3h1M137 3h1M138 3h1M140 3h1M8 4h1M12 4h1M21 4h1M23 4h1M32 4h1M38 4h1M40 4h1M42 4h1M44 4h1M45 4h1M48 4h1M51 4h1M54 4h1M60 4h1M62 4h1M65 4h1M66 4h1M74 4h1M87 4h1M90 4h1M100 4h1M103 4h1M105 4h1M108 4h1M109 4h1M111 4h1M114 4h1M120 4h1M125 4h1M130 4h1M0 5h1M1 5h1M16 5h1M17 5h1M30 5h1M42 5h1M51 5h1M0 6h1M14 6h1M15 6h1M17 6h1M34 6h1M44 6h1M53 6h1M90 6h1M92 6h1M100 6h1M1 7h1M3 7h1M11 7h1M12 7h1M14 7h1M18 7h1M20 7h1M21 7h1M26 7h1M30 7h1M32 7h1M35 7h1M41 7h1M49 7h1M57 7h1M58 7h1M64 7h1M68 7h1M69 7h1M70 7h1M92 7h1M105 7h1M108 7h1M122 7h1M127 7h1M141 7h1M1 8h1M4 8h1M9 8h1M13 8h1M27 8h1M32 8h1M34 8h1M40 8h1M41 8h1M48 8h1M49 8h1M56 8h1M60 8h1M69 8h1M71 8h1M72 8h1M79 8h1M81 8h1M82 8h1M84 8h1M99 8h1M111 8h1M118 8h1M120 8h1M127 8h1M130 8h1M132 8h1M134 8h1M148 8h1M8 9h1M11 9h1M13 9h1M17 9h1M28 9h1M29 9h1M31 9h1M33 9h1M35 9h1M40 9h1M42 9h1M56 9h1M59 9h1M60 9h1M63 9h1M67 9h1M68 9h1M69 9h1M76 9h1M77 9h1M81 9h1M83 9h1M84 9h1M87 9h1M89 9h1M98 9h1M106 9h1M109 9h1M110 9h1M114 9h1M117 9h1M124 9h1M125 9h1M129 9h1M130 9h1M132 9h1M133 9h1M137 9h1M139 9h1M11 10h1M14 10h1M19 10h1M27 10h1M35 10h1M41 10h1M46 10h1M48 10h1M50 10h1M58 10h1M68 10h1M71 10h1M87 10h1M92 10h1M103 10h1M107 10h1M111 10h1M112 10h1M139 10h1M1 11h1M3 11h1M7 11h1M9 11h1M10 11h1M20 11h1M21 11h1M30 11h1M31 11h1M35 11h1M45 11h1M49 11h1M54 11h1M63 11h1M69 11h1M70 11h1M72 11h1M74 11h1M79 11h1M81 11h1M85 11h1M88 11h1M97 11h1M106 11h1M109 11h1M111 11h1M112 11h1M117 11h1M118 11h1M119 11h1M120 11h1M128 11h1M132 11h1M134 11h1M138 11h1M0 12h1M4 12h1M7 12h1M16 12h1M17 12h1M19 12h1M25 12h1M41 12h1M49 12h1M51 12h1M53 12h1M64 12h1M87 12h1M96 12h1M97 12h1M117 12h1M3 13h1M8 13h1M9 13h1M14 13h1M17 13h1M19 13h1M24 13h1M32 13h1M33 13h1M34 13h1M36 13h1M50 13h1M54 13h1M60 13h1M106 13h1M110 13h1M117 13h1M131 13h1M6 14h1M7 14h1M10 14h1M13 14h1M26 14h1M28 14h1M30 14h1M35 14h1M40 14h1M41 14h1M42 14h1M45 14h1M49 14h1M56 14h1M59 14h1M62 14h1M66 14h1M74 14h1M75 14h1M80 14h1M84 14h1M97 14h1M109 14h1M111 14h1M117 14h1M119 14h1M120 14h1M132 14h1M133 14h1M136 14h1M140 14h1M6 15h1M27 15h1M42 15h1M59 15h1M64 15h1M66 15h1M70 15h1M71 15h1M74 15h1M76 15h1M82 15h1M99 15h1M103 15h1M106 15h1M109 15h1M112 15h1M113 15h1M115 15h1M117 15h1M120 15h1M122 15h1M126 15h1M127 15h1M128 15h1M129 15h1M136 15h1M138 15h1M140 15h1M5 16h1M12 16h1M23 16h1M26 16h1M43 16h1M53 16h1M56 16h1M57 16h1M62 16h1M66 16h1M71 16h1M72 16h1M78 16h1M82 16h1M87 16h1M90 16h1M93 16h1M97 16h1M98 16h1M99 16h1M112 16h1M118 16h1M119 16h1M125 16h1M126 16h1M128 16h1M132 16h1M136 16h1M137 16h1M141 16h1M5 17h1M6 17h1M9 17h1M12 17h1M13 17h1M25 17h1M26 17h1M29 17h1M30 17h1M31 17h1M32 17h1M34 17h1M38 17h1M40 17h1M41 17h1M43 17h1M57 17h1M59 17h1M71 17h1M74 17h1M81 17h1M87 17h1M88 17h1M105 17h1M106 17h1M112 17h1M117 17h1M126 17h1M127 17h1M129 17h1M130 17h1M138 17h1M142 17h1M7 18h1M35 18h1M44 18h1M55 18h1M2 19h1M10 19h1M12 19h1M13 19h1M21 19h1M22 19h1M24 19h1M32 19h1M35 19h1M40 19h1M42 19h1M43 19h1M45 19h1M47 19h1M53 19h1M58 19h1M62 19h1M66 19h1M68 19h1M69 19h1M72 19h1M92 19h1M94 19h1M100 19h1M104 19h1M109 19h1M114 19h1M0 20h1M1 20h1M7 20h1M11 20h1M30 20h1M46 20h1M49 20h1M51 20h1M57 20h1M64 20h1M96 20h1M111 20h1M1 21h1M4 21h1M7 21h1M11 21h1M19 21h1M22 21h1M35 21h1M38 21h1M39 21h1M40 21h1M43 21h1M45 21h1M46 21h1M58 21h1M60 21h1M69 21h1M71 21h1M90 21h1M91 21h1M98 21h1M111 21h1M112 21h1M114 21h1M119 21h1M125 21h1M127 21h1M129 21h1M2 22h1M19 22h1M21 22h1M33 22h1M39 22h1M45 22h1M53 22h1M61 22h1M65 22h1M68 22h1M70 22h1M79 22h1M80 22h1M89 22h1M92 22h1M94 22h1M96 22h1M100 22h1M109 22h1M110 22h1M130 22h1M131 22h1M4 23h1M16 23h1M24 23h1M32 23h1M38 23h1M42 23h1M56 23h1M59 23h1M66 23h1M75 23h1M79 23h1M85 23h1M89 23h1M92 23h1M97 23h1M103 23h1M104 23h1M105 23h1M110 23h1M113 23h1M114 23h1M117 23h1M118 23h1M126 23h1M130 23h1M134 23h1M137 23h1M2 24h1M13 24h1M19 24h1M23 24h1M28 24h1M36 24h1M38 24h1M42 24h1M46 24h1M47 24h1M50 24h1M61 24h1M66 24h1M70 24h1M72 24h1M74 24h1M77 24h1M98 24h1M105 24h1M107 24h1M119 24h1M125 24h1M128 24h1M131 24h1M132 24h1M133 24h1M136 24h1M138 24h1M141 24h1M12 25h1M17 25h1M26 25h1M33 25h1M38 25h1M41 25h1M47 25h1M65 25h1M70 25h1M75 25h1M85 25h1M87 25h1M88 25h1M97 25h1M112 25h1M115 25h1M119 25h1M122 25h1M126 25h1M128 25h1M136 25h1M137 25h1M140 25h1M141 25h1M0 26h1M2 26h1M7 26h1M14 26h1M16 26h1M17 26h1M25 26h1M34 26h1M41 26h1M50 26h1M55 26h1M57 26h1M60 26h1M108 26h1M131 26h1M1 27h1M8 27h1M10 27h1M15 27h1M30 27h1M35 27h1M36 27h1M39 27h1M50 27h1M62 27h1M68 27h1M71 27h1M72 27h1M74 27h1M75 27h1M92 27h1M94 27h1M99 27h1M100 27h1M103 27h1M107 27h1M112 27h1M113 27h1M120 27h1M133 27h1M141 27h1M1 28h1M3 28h1M9 28h1M14 28h1M24 28h1M33 28h1M34 28h1M39 28h1M47 28h1M49 28h1M50 28h1M60 28h1M79 28h1M84 28h1M85 28h1M95 28h1M96 28h1M111 28h1M128 28h1M130 28h1M147 28h1M9 29h1M17 29h1M30 29h1M40 29h1M42 29h1M46 29h1M57 29h1M1 30h1M5 30h1M7 30h1M11 30h1M14 30h1M17 30h1M20 30h1M27 30h1M29 30h1M34 30h1M36 30h1M38 30h1M39 30h1M44 30h1M51 30h1M53 30h1M58 30h1M67 30h1M70 30h1M74 30h1M88 30h1M92 30h1M96 30h1M100 30h1M104 30h1M106 30h1M111 30h1M113 30h1M114 30h1M118 30h1M125 30h1M0 31h1M1 31h1M3 31h1M9 31h1M11 31h1M17 31h1M36 31h1M38 31h1M46 31h1M49 31h1M62 31h1M71 31h1M89 31h1M96 31h1M108 31h1M111 31h1M120 31h1M0 32h1M1 32h1M4 32h1M7 32h1M8 32h1M13 32h1M17 32h1M19 32h1M23 32h1M36 32h1M45 32h1M47 32h1M58 32h1M60 32h1M62 32h1M64 32h1M66 32h1M71 32h1M74 32h1M94 32h1M96 32h1M103 32h1M113 32h1M114 32h1M120 32h1M124 32h1M125 32h1M129 32h1M147 32h1M150 32h1M0 33h1M1 33h1M3 33h1M9 33h1M13 33h1M22 33h1M25 33h1M28 33h1M38 33h1M65 33h1M70 33h1M71 33h1M74 33h1M114 33h1M127 33h1M2 34h1M3 34h1M6 34h1M8 34h1M13 34h1M17 34h1M26 34h1M28 34h1M30 34h1M38 34h1M39 34h1M54 34h1M59 34h1M60 34h1M65 34h1M66 34h1M69 34h1M82 34h1M83 34h1M88 34h1M99 34h1M100 34h1M105 34h1M106 34h1M113 34h1M120 34h1M122 34h1M127 34h1M129 34h1M147 34h1M1 35h1M7 35h1M9 35h1M10 35h1M11 35h1M14 35h1M18 35h1M19 35h1M21 35h1M27 35h1M36 35h1M42 35h1M44 35h1M61 35h1M62 35h1M64 35h1M66 35h1M67 35h1M70 35h1M90 35h1M92 35h1M94 35h1M107 35h1M110 35h1M111 35h1M113 35h1M117 35h1M122 35h1M129 35h1M131 35h1M138 35h1M142 35h1M150 35h1M2 36h1M13 36h1M24 36h1M27 36h1M30 36h1M31 36h1M32 36h1M35 36h1M40 36h1M42 36h1M43 36h1M45 36h1M48 36h1M55 36h1M59 36h1M63 36h1M65 36h1M69 36h1M71 36h1M73 36h1M74 36h1M79 36h1M82 36h1M88 36h1M105 36h1M106 36h1M108 36h1M111 36h1M115 36h1M118 36h1M126 36h1M128 36h1M133 36h1M134 36h1M139 36h1M3 37h1M46 37h1M0 38h1M1 38h1M4 38h1M17 38h1M21 38h1M23 38h1M24 38h1M25 38h1M30 38h1M31 38h1M33 38h1M34 38h1M44 38h1M50 38h1M60 38h1M62 38h1M64 38h1M71 38h1M72 38h1M79 38h1M89 38h1M110 38h1M111 38h1M138 38h1M21 39h1M22 39h1M27 39h1M28 39h1M30 39h1M34 39h1M43 39h1M50 39h1M53 39h1M58 39h1M67 39h1M74 39h1M76 39h1M79 39h1M82 39h1M89 39h1M98 39h1M108 39h1M126 39h1M128 39h1M133 39h1M138 39h1M147 39h1M0 40h1M4 40h1M8 40h1M9 40h1M14 40h1M17 40h1M19 40h1M21 40h1M29 40h1M36 40h1M41 40h1M44 40h1M50 40h1M51 40h1M65 40h1M83 40h1M92 40h1M113 40h1M119 40h1M120 40h1M130 40h1M7 41h1M8 41h1M10 41h1M12 41h1M14 41h1M17 41h1M25 41h1M26 41h1M40 41h1M42 41h1M45 41h1M51 41h1M55 41h1M61 41h1M62 41h1M63 41h1M66 41h1M67 41h1M92 41h1M100 41h1M105 41h1M107 41h1M108 41h1M112 41h1M115 41h1M119 41h1M126 41h1M129 41h1M136 41h1M137 41h1M1 42h1M3 42h1M4 42h1M5 42h1M9 42h1M14 42h1M15 42h1M19 42h1M23 42h1M24 42h1M29 42h1M35 42h1M36 42h1M41 42h1M47 42h1M50 42h1M61 42h1M62 42h1M64 42h1M65 42h1M71 42h1M82 42h1M83 42h1M87 42h1M88 42h1M89 42h1M117 42h1M118 42h1M120 42h1M127 42h1M16 43h1M17 43h1M19 43h1M21 43h1M36 43h1M39 43h1M44 43h1M46 43h1M51 43h1M53 43h1M57 43h1M58 43h1M64 43h1M67 43h1M69 43h1M94 43h1M113 43h1M125 43h1M1 44h1M4 44h1M6 44h1M18 44h1M30 44h1M35 44h1M38 44h1M40 44h1M43 44h1M58 44h1M59 44h1M61 44h1M66 44h1M67 44h1M88 44h1M102 44h1M106 44h1M111 44h1M113 44h1M117 44h1M127 44h1M131 44h1M132 44h1M136 44h1M138 44h1M1 45h1M2 45h1M4 45h1M11 45h1M14 45h1M19 45h1M21 45h1M22 45h1M32 45h1M36 45h1M41 45h1M46 45h1M53 45h1M60 45h1M62 45h1M64 45h1M65 45h1M68 45h1M79 45h1M80 45h1M88 45h1M89 45h1M94 45h1M96 45h1M98 45h1M102 45h1M108 45h1M112 45h1M117 45h1M123 45h1M129 45h1M133 45h1M136 45h1M10 46h1M20 46h1M21 46h1M24 46h1M29 46h1M31 46h1M37 46h1M43 46h1M45 46h1M66 46h1M69 46h1M71 46h1M72 46h1M81 46h1M93 46h1M97 46h1M98 46h1M99 46h1M105 46h1M106 46h1M113 46h1M118 46h1M120 46h1M126 46h1M127 46h1M130 46h1M131 46h1M1 47h1M2 47h1M19 47h1M24 47h1M25 47h1M28 47h1M32 47h1M42 47h1M49 47h1M69 47h1M72 47h1M83 47h1M95 47h1M98 47h1M99 47h1M109 47h1M121 47h1M127 47h1M131 47h1M132 47h1M136 47h1M4 48h1M8 48h1M10 48h1M36 48h1M62 48h1M65 48h1M87 48h1M112 48h1M113 48h1M7 49h1M8 49h1M11 49h1M12 49h1M14 49h1M20 49h1M28 49h1M31 49h1M47 49h1M54 49h1M58 49h1M60 49h1M61 49h1M64 49h1M65 49h1M68 49h1M69 49h1M71 49h1M72 49h1M89 49h1M93 49h1M106 49h1M107 49h1M108 49h1M109 49h1M110 49h1M111 49h1M115 49h1M120 49h1M125 49h1M126 49h1M127 49h1M137 49h1M10 50h1M13 50h1M24 50h1M26 50h1M27 50h1M28 50h1M38 50h1M39 50h1M40 50h1M42 50h1M51 50h1M56 50h1M66 50h1M67 50h1M69 50h1M71 50h1M76 50h1M82 50h1M90 50h1M92 50h1M97 50h1M100 50h1M102 50h1M105 50h1M111 50h1M113 50h1M119 50h1M121 50h1M129 50h1M134 50h1M137 50h1M139 50h1M4 51h1M5 51h1M12 51h1M20 51h1M30 51h1M40 51h1M41 51h1M43 51h1M50 51h1M53 51h1M57 51h1M63 51h1M66 51h1M84 51h1M88 51h1M97 51h1M98 51h1M108 51h1M109 51h1M117 51h1M119 51h1M126 51h1M127 51h1M129 51h1M137 51h1M138 51h1M105 52h1M136 52h1M6 53h1M12 53h1M16 53h1M19 53h1M22 53h1M30 53h1M39 53h1M43 53h1M45 53h1M51 53h1M58 53h1M60 53h1M61 53h1M69 53h1M76 53h1M79 53h1M87 53h1M88 53h1M92 53h1M107 53h1M108 53h1M110 53h1M112 53h1M114 53h1M127 53h1M130 53h1M132 53h1M138 53h1M0 54h1M2 54h1M4 54h1M11 54h1M13 54h1M34 54h1M49 54h1M56 54h1M76 54h1M82 54h1M92 54h1M94 54h1M105 54h1M106 54h1M112 54h1M130 54h1M2 55h1M18 55h1M26 55h1M36 55h1M41 55h1M57 55h1M0 56h1M1 56h1M8 56h1M9 56h1M14 56h1M16 56h1M23 56h1M50 56h1M54 56h1M64 56h1M65 56h1M68 56h1M74 56h1M99 56h1M108 56h1M2 57h1M7 57h1M16 57h1M17 57h1M20 57h1M26 57h1M29 57h1M43 57h1M51 57h1M55 57h1M58 57h1M65 57h1M66 57h1M68 57h1M70 57h1M71 57h1M72 57h1M75 57h1M82 57h1M93 57h1M94 57h1M98 57h1M107 57h1M108 57h1M117 57h1M130 57h1M132 57h1M138 57h1M1 58h1M2 58h1M7 58h1M10 58h1M19 58h1M21 58h1M30 58h1M32 58h1M39 58h1M43 58h1M44 58h1M49 58h1M53 58h1M57 58h1M65 58h1M71 58h1M72 58h1M74 58h1M84 58h1M85 58h1M92 58h1M94 58h1M106 58h1M110 58h1M118 58h1M127 58h1M134 58h1M141 58h1M144 58h1M0 59h1M1 59h1M3 59h1M9 59h1M14 59h1M15 59h1M17 59h1M23 59h1M34 59h1M36 59h1M44 59h1M94 59h1M105 59h1M122 59h1M0 60h1M1 60h1M4 60h1M8 60h1M9 60h1M13 60h1M21 60h1M26 60h1M28 60h1M32 60h1M34 60h1M38 60h1M45 60h1M49 60h1M53 60h1M62 60h1M64 60h1M65 60h1M68 60h1M70 60h1M74 60h1M76 60h1M83 60h1M87 60h1M96 60h1M97 60h1M105 60h1M106 60h1M108 60h1M115 60h1M117 60h1M127 60h1M133 60h1M136 60h1M140 60h1M22 61h1M24 61h1M35 61h1M41 61h1M42 61h1M44 61h1M49 61h1M53 61h1M62 61h1M64 61h1M68 61h1M69 61h1M70 61h1M97 61h1M100 61h1M107 61h1M120 61h1M125 61h1M130 61h1M137 61h1M147 61h1M0 62h1M2 62h1M4 62h1M14 62h1M16 62h1M19 62h1M27 62h1M31 62h1M32 62h1M35 62h1M38 62h1M41 62h1M42 62h1M45 62h1M48 62h1M60 62h1M61 62h1M66 62h1M76 62h1M79 62h1M87 62h1M95 62h1M96 62h1M105 62h1M108 62h1M110 62h1M111 62h1M113 62h1M117 62h1M119 62h1M138 62h1M140 62h1M141 62h1M144 62h1M148 62h1M1 63h1M9 63h1M11 63h1M36 63h1M41 63h1M51 63h1M92 63h1M110 63h1M117 63h1M121 63h1M125 63h1M126 63h1M7 64h1M12 64h1M15 64h1M20 64h1M32 64h1M35 64h1M38 64h1M42 64h1M43 64h1M45 64h1M49 64h1M56 64h1M60 64h1M61 64h1M68 64h1M69 64h1M72 64h1M76 64h1M79 64h1M82 64h1M84 64h1M87 64h1M88 64h1M89 64h1M90 64h1M105 64h1M107 64h1M109 64h1M110 64h1M112 64h1M114 64h1M132 64h1M134 64h1M4 65h1M22 65h1M25 65h1M33 65h1M34 65h1M36 65h1M40 65h1M42 65h1M45 65h1M48 65h1M49 65h1M56 65h1M57 65h1M58 65h1M60 65h1M67 65h1M70 65h1M71 65h1M72 65h1M76 65h1M98 65h1M99 65h1M105 65h1M108 65h1M117 65h1M122 65h1M137 65h1M139 65h1M149 65h1M0 66h1M1 66h1M4 66h1M14 66h1M15 66h1M16 66h1M19 66h1M23 66h1M24 66h1M32 66h1M34 66h1M35 66h1M41 66h1M44 66h1M46 66h1M50 66h1M51 66h1M57 66h1M62 66h1M67 66h1M71 66h1M76 66h1M108 66h1M110 66h1M111 66h1M117 66h1M122 66h1M131 66h1M133 66h1M140 66h1M0 67h1M3 67h1M9 67h1M30 67h1M35 67h1M39 67h1M41 67h1M43 67h1M44 67h1M50 67h1M65 67h1M66 67h1M78 67h1M79 67h1M94 67h1M106 67h1M111 67h1M126 67h1M130 67h1M136 67h1M137 67h1M2 68h1M7 68h1M9 68h1M10 68h1M19 68h1M22 68h1M27 68h1M45 68h1M49 68h1M56 68h1M57 68h1M60 68h1M61 68h1M64 68h1M72 68h1M84 68h1M97 68h1M106 68h1M110 68h1M114 68h1M119 68h1M125 68h1M1 69h1M3 69h1M7 69h1M8 69h1M9 69h1M11 69h1M19 69h1M21 69h1M34 69h1M36 69h1M43 69h1M46 69h1M47 69h1M49 69h1M50 69h1M53 69h1M61 69h1M64 69h1M71 69h1M82 69h1M89 69h1M100 69h1M105 69h1M108 69h1M111 69h1M123 69h1M127 69h1M7 70h1M11 70h1M15 70h1M22 70h1M24 70h1M25 70h1M30 70h1M33 70h1M35 70h1M57 70h1M60 70h1M61 70h1M65 70h1M72 70h1M100 70h1M114 70h1M119 70h1M148 70h1M0 71h1M3 71h1M8 71h1M10 71h1M15 71h1M16 71h1M17 71h1M21 71h1M27 71h1M31 71h1M32 71h1M33 71h1M36 71h1M38 71h1M42 71h1M46 71h1M49 71h1M50 71h1M57 71h1M58 71h1M65 71h1M66 71h1M69 71h1M72 71h1M79 71h1M84 71h1M90 71h1M96 71h1M97 71h1M105 71h1M108 71h1M110 71h1M114 71h1M118 71h1M119 71h1M130 71h1M131 71h1M149 71h1M0 72h1M1 72h1M3 72h1M8 72h1M11 72h1M16 72h1M19 72h1M24 72h1M27 72h1M38 72h1M46 72h1M47 72h1M49 72h1M57 72h1M58 72h1M64 72h1M65 72h1M68 72h1M70 72h1M71 72h1M89 72h1M105 72h1M108 72h1M117 72h1M123 72h1M131 72h1M133 72h1M136 72h1M36 73h1M90 73h1M4 74h1M11 74h1M14 74h1M15 74h1M17 74h1M24 74h1M27 74h1M30 74h1M32 74h1M33 74h1M36 74h1M39 74h1M56 74h1M58 74h1M60 74h1M81 74h1M90 74h1M105 74h1M109 74h1M112 74h1M115 74h1M129 74h1M14 75h1M23 75h1M25 75h1M27 75h1M57 75h1M88 75h1M96 75h1M2 76h1M9 76h1M15 76h1M39 76h1M50 76h1M53 76h1M54 76h1M60 76h1M62 76h1M64 76h1M65 76h1M66 76h1M87 76h1M89 76h1M94 76h1M97 76h1M108 76h1M110 76h1M117 76h1M127 76h1M9 77h1M24 77h1M110 77h1M16 78h1M67 78h1M0 79h1M8 79h1M11 79h1M22 79h1M23 79h1M28 79h1M36 79h1M38 79h1M39 79h1M45 79h1M53 79h1M62 79h1M64 79h1M67 79h1M71 79h1M82 79h1M89 79h1M94 79h1M104 79h1M105 79h1M117 79h1M119 79h1M123 79h1M125 79h1M128 79h1M131 79h1M14 80h1M22 80h1M45 80h1M90 80h1M130 80h1M8 81h1M9 81h1M11 81h1M17 81h1M46 81h1M74 81h1M94 81h1M96 81h1M110 81h1M113 81h1M126 81h1M127 81h1M8 82h1M15 82h1M16 82h1M34 82h1M36 82h1M39 82h1M42 82h1M50 82h1M54 82h1M57 82h1M64 82h1M69 82h1M79 82h1M112 82h1M114 82h1M128 82h1M133 82h1M9 83h1M34 83h1M40 83h1M42 83h1M47 83h1M60 83h1M114 83h1M1 84h1M8 84h1M9 84h1M14 84h1M28 84h1M51 84h1M58 84h1M64 84h1M68 84h1M71 84h1M105 84h1M108 84h1M109 84h1M110 84h1M134 84h1M137 84h1M143 84h1M11 85h1M23 85h1M25 85h1M28 85h1M58 85h1M103 85h1M1 87h1M4 87h1M9 87h1M10 87h1M12 87h1M16 87h1M17 87h1M25 87h1M42 87h1M48 87h1M53 87h1M60 87h1M62 87h1M64 87h1M76 87h1M89 87h1M114 87h1M126 87h1M128 87h1M137 87h1M0 88h1M1 88h1M3 88h1M11 88h1M17 88h1M25 88h1M30 88h1M34 88h1M36 88h1M42 88h1M44 88h1M45 88h1M51 88h1M53 88h1M64 88h1M75 88h1M92 88h1M105 88h1M113 88h1M114 88h1M123 88h1M132 88h1M1 89h1M3 89h1M9 89h1M22 89h1M23 89h1M31 89h1M38 89h1M39 89h1M42 89h1M45 89h1M49 89h1M64 89h1M69 89h1M72 89h1M76 89h1M79 89h1M87 89h1M96 89h1M106 89h1M113 89h1M137 89h1M4 90h1M6 90h1M16 90h1M21 90h1M35 90h1M50 90h1M64 90h1M71 90h1M73 90h1M74 90h1M80 90h1M98 90h1M100 90h1M105 90h1M107 90h1M111 90h1M117 90h1M131 90h1M133 90h1M140 90h1M146 90h1M147 90h1M21 91h1M6 92h1M7 92h1M10 92h1M19 92h1M22 92h1M23 92h1M27 92h1M30 92h1M35 92h1M40 92h1M41 92h1M50 92h1M53 92h1M54 92h1M58 92h1M63 92h1M88 92h1M107 92h1M108 92h1M111 92h1M120 92h1M127 92h1M16 93h1M46 93h1M49 93h1M57 93h1M110 93h1M113 93h1M19 94h1M22 94h1M27 94h1M32 94h1M35 94h1M43 94h1M45 94h1M54 94h1M57 94h1M58 94h1M59 94h1M67 94h1M76 94h1M79 94h1M81 94h1M104 94h1M113 94h1M122 94h1M133 94h1M138 94h1M28 95h1M47 95h1M62 95h1M113 95h1M3 96h1M12 96h1M20 96h1M22 96h1M28 96h1M30 96h1M31 96h1M32 96h1M45 96h1M60 96h1M62 96h1M71 96h1M75 96h1M81 96h1M89 96h1M105 96h1M106 96h1M108 96h1M110 96h1M113 96h1M117 96h1M121 96h1M127 96h1M150 96h1M2 97h1M11 97h1M12 97h1M14 97h1M16 97h1M23 97h1M25 97h1M46 97h1M50 97h1M51 97h1M60 97h1M61 97h1M68 97h1M71 97h1M76 97h1M102 97h1M105 97h1M109 97h1M117 97h1M1 98h1M3 98h1M9 98h1M16 98h1M21 98h1M24 98h1M39 98h1M45 98h1M46 98h1M47 98h1M51 98h1M57 98h1M65 98h1M90 98h1M105 98h1M109 98h1M120 98h1M130 98h1M133 98h1M1 99h1M8 99h1M15 99h1M16 99h1M27 99h1M34 99h1M46 99h1M47 99h1M56 99h1M65 99h1M113 99h1M130 99h1M4 100h1M6 100h1M19 100h1M22 100h1M27 100h1M30 100h1M34 100h1M41 100h1M50 100h1M61 100h1M69 100h1M70 100h1M90 100h1M103 100h1M105 100h1M113 100h1M44 102h1M45 102h1M50 102h1M97 102h1M130 102h1M137 102h1M1 103h1M4 103h1M10 103h1M15 103h1M23 103h1M27 103h1M32 103h1M85 103h1M100 103h1M111 103h1M0 104h1M19 104h1M23 104h1M30 104h1M79 104h1M94 104h1M108 104h1M137 104h1M138 104h1M1 105h1M4 105h1M7 105h1M17 105h1M23 105h1M24 105h1M34 105h1M36 105h1M41 105h1M46 105h1M50 105h1M52 105h1M54 105h1M59 105h1M60 105h1M62 105h1M64 105h1M65 105h1M69 105h1M71 105h1M72 105h1M74 105h1M79 105h1M84 105h1M88 105h1M90 105h1M96 105h1M97 105h1M98 105h1M100 105h1M113 105h1M129 105h1M130 105h1M131 105h1M1 106h1M3 106h1M9 106h1M11 106h1M13 106h1M15 106h1M17 106h1M30 106h1M34 106h1M36 106h1M44 106h1M46 106h1M49 106h1M54 106h1M58 106h1M60 106h1M67 106h1M68 106h1M89 106h1M96 106h1M114 106h1M119 106h1M126 106h1M141 106h1M0 107h1M1 107h1M10 107h1M24 107h1M27 107h1M35 107h1M41 107h1M49 107h1M53 107h1M57 107h1M61 107h1M64 107h1M90 107h1M92 107h1M113 107h1M118 107h1M132 107h1M147 107h1M2 108h1M4 108h1M7 108h1M26 108h1M31 108h1M36 108h1M39 108h1M41 108h1M45 108h1M49 108h1M51 108h1M53 108h1M56 108h1M57 108h1M60 108h1M62 108h1M65 108h1M66 108h1M69 108h1M71 108h1M72 108h1M76 108h1M84 108h1M92 108h1M96 108h1M104 108h1M111 108h1M113 108h1M117 108h1M119 108h1M120 108h1M137 108h1M140 108h1M4 109h1M9 109h1M11 109h1M14 109h1M15 109h1M19 109h1M22 109h1M47 109h1M49 109h1M51 109h1M64 109h1M74 109h1M84 109h1M97 109h1M98 109h1M112 109h1M126 109h1M2 110h1M9 110h1M13 110h1M22 110h1M23 110h1M35 110h1M38 110h1M49 110h1M53 110h1M58 110h1M62 110h1M63 110h1M64 110h1M66 110h1M68 110h1M71 110h1M76 110h1M77 110h1M81 110h1M84 110h1M93 110h1M96 110h1M111 110h1M114 110h1M117 110h1M119 110h1M126 110h1M142 110h1M147 110h1M0 111h1M4 111h1M8 111h1M10 111h1M11 111h1M14 111h1M20 111h1M21 111h1M28 111h1M30 111h1M31 111h1M35 111h1M36 111h1M38 111h1M44 111h1M49 111h1M50 111h1M62 111h1M66 111h1M67 111h1M69 111h1M90 111h1M92 111h1M103 111h1M108 111h1M110 111h1M123 111h1M129 111h1M10 112h1M11 112h1M15 112h1M16 112h1M17 112h1M21 112h1M25 112h1M27 112h1M41 112h1M45 112h1M48 112h1M53 112h1M54 112h1M64 112h1M74 112h1M82 112h1M109 112h1M1 113h1M15 113h1M23 113h1M27 113h1M30 113h1M32 113h1M34 113h1M35 113h1M40 113h1M43 113h1M44 113h1M46 113h1M48 113h1M50 113h1M62 113h1M81 113h1M88 113h1M89 113h1M93 113h1M94 113h1M95 113h1M96 113h1M99 113h1M100 113h1M105 113h1M107 113h1M108 113h1M114 113h1M117 113h1M120 113h1M136 113h1M4 114h1M9 114h1M19 114h1M21 114h1M23 114h1M30 114h1M32 114h1M33 114h1M53 114h1M64 114h1M68 114h1M70 114h1M71 114h1M82 114h1M83 114h1M87 114h1M88 114h1M106 114h1M110 114h1M113 114h1M127 114h1M137 114h1M140 114h1M1 115h1M15 115h1M25 115h1M36 115h1M41 115h1M49 115h1M60 115h1M74 115h1M130 115h1M0 117h1M9 117h1M11 117h1M12 117h1M13 117h1M14 117h1M15 117h1M17 117h1M23 117h1M35 117h1M42 117h1M44 117h1M45 117h1M51 117h1M57 117h1M60 117h1M62 117h1M63 117h1M65 117h1M66 117h1M72 117h1M76 117h1M79 117h1M90 117h1M96 117h1M97 117h1M108 117h1M110 117h1M113 117h1M123 117h1M125 117h1M128 117h1M150 117h1M1 118h1M8 118h1M11 118h1M16 118h1M23 118h1M30 118h1M36 118h1M42 118h1M46 118h1M58 118h1M71 118h1M107 118h1M119 118h1M120 118h1M11 119h1M14 119h1M16 119h1M21 119h1M24 119h1M25 119h1M40 119h1M41 119h1M50 119h1M51 119h1M62 119h1M68 119h1M70 119h1M71 119h1M79 119h1M106 119h1M108 119h1M110 119h1M118 119h1M136 119h1M142 119h1M0 120h1M4 120h1M8 120h1M11 120h1M14 120h1M15 120h1M27 120h1M31 120h1M32 120h1M34 120h1M40 120h1M42 120h1M46 120h1M49 120h1M61 120h1M92 120h1M98 120h1M108 120h1M113 120h1M118 120h1M47 121h1M50 121h1M63 121h1M96 121h1M136 121h1M3 122h1M7 122h1M15 122h1M25 122h1M34 122h1M35 122h1M59 122h1M65 122h1M66 122h1M94 122h1M45 123h1M69 123h1M72 123h1M79 123h1M88 123h1M111 123h1M117 123h1M9 124h1M32 124h1M4 125h1M9 125h1M16 125h1M21 125h1M24 125h1M30 125h1M32 125h1M43 125h1M49 125h1M61 125h1M63 125h1M68 125h1M79 125h1M117 125h1M140 125h1M0 126h1M3 126h1M15 126h1M16 126h1M17 126h1M23 126h1M25 126h1M36 126h1M39 126h1M41 126h1M46 126h1M49 126h1M51 126h1M63 126h1M67 126h1M81 126h1M87 126h1M106 126h1M109 126h1M110 126h1M0 127h1M7 127h1M8 127h1M15 127h1M17 127h1M21 127h1M33 127h1M34 127h1M42 127h1M44 127h1M46 127h1M47 127h1M49 127h1M51 127h1M53 127h1M58 127h1M60 127h1M69 127h1M76 127h1M81 127h1M92 127h1M96 127h1M114 127h1M128 127h1M134 127h1M11 128h1M15 128h1M16 128h1M24 128h1M25 128h1M28 128h1M36 128h1M39 128h1M79 128h1M82 128h1M87 128h1M117 128h1M127 128h1M134 128h1M0 129h1M9 129h1M15 129h1M17 129h1M21 129h1M32 129h1M34 129h1M35 129h1M41 129h1M45 129h1M50 129h1M51 129h1M74 129h1M105 129h1M111 129h1M130 129h1M1 130h1M3 130h1M4 130h1M8 130h1M9 130h1M17 130h1M22 130h1M23 130h1M28 130h1M40 130h1M46 130h1M53 130h1M54 130h1M57 130h1M61 130h1M67 130h1M71 130h1M80 130h1M98 130h1M99 130h1M102 130h1M105 130h1M115 130h1M129 130h1M0 131h1M2 131h1M3 131h1M13 131h1M22 131h1M24 131h1M26 131h1M35 131h1M44 131h1M46 131h1M47 131h1M66 131h1M71 131h1M72 131h1M79 131h1M90 131h1M105 131h1M8 132h1M9 132h1M11 132h1M14 132h1M16 132h1M24 132h1M44 132h1M47 132h1M53 132h1M57 132h1M64 132h1M88 132h1M107 132h1M144 132h1M1 133h1M2 133h1M9 133h1M14 133h1M24 133h1M27 133h1M36 133h1M39 133h1M45 133h1M60 133h1M66 133h1M72 133h1M82 133h1M90 133h1M94 133h1M98 133h1M8 134h1M11 134h1M23 134h1M36 134h1M50 134h1M58 134h1M64 134h1M84 134h1M127 134h1M128 134h1M3 135h1M14 136h1M15 136h1M16 136h1M24 136h1M25 136h1M41 136h1M44 136h1M45 136h1M47 136h1M52 136h1M60 136h1M67 136h1M72 136h1M113 136h1M119 136h1M121 136h1M3 137h1M9 137h1M16 137h1M23 137h1M25 137h1M41 137h1M49 137h1M50 137h1M51 137h1M61 137h1M65 137h1M67 137h1M84 137h1M87 137h1M89 137h1M102 137h1M104 137h1M108 137h1M114 137h1M2 138h1M3 138h1M11 138h1M15 138h1M17 138h1M24 138h1M35 138h1M38 138h1M39 138h1M44 138h1M51 138h1M53 138h1M57 138h1M62 138h1M94 138h1M104 138h1M9 139h1M10 139h1M36 139h1M50 139h1M65 139h1M3 140h1M14 140h1M15 140h1M25 140h1M60 140h1M62 140h1M66 140h1M90 140h1M108 140h1M114 140h1M125 140h1M7 141h1M16 141h1M24 141h1M25 141h1M27 141h1M58 141h1M62 141h1M106 141h1M17 142h1M35 142h1M110 142h1M119 142h1M84 143h1M58 144h1M62 144h1M132 144h1M0 145h1M1 146h1M90 146h1M28 147h1M32 147h1M34 147h1M39 147h1M61 147h1M90 147h1M107 147h1M110 147h1M8 148h1M62 148h1M70 148h1M65 149h1M71 149h1M32 150h1M35 150h1M96 150h1M117 150h1" stroke="#482475" stroke-width="1" stroke-opacity="0.75" fill="none"/><path transform="translate(502.5 9.85) scale(1.0007 0.9977) translate(0 0.5)" d="M10 0h1M15 0h1M17 0h1M19 0h1M39 0h1M50 0h1M64 0h1M65 0h1M68 0h1M76 0h1M89 0h1M97 0h1M105 0h1M25 1h1M36 1h1M39 1h1M46 1h1M51 1h1M61 1h1M71 1h1M74 1h1M79 1h1M92 1h1M119 1h1M127 1h1M11 2h1M16 2h1M17 2h1M25 2h1M46 2h1M8 3h1M14 3h1M16 3h1M22 3h1M23 3h1M43 3h1M45 3h1M61 3h1M65 3h1M66 3h1M74 3h1M76 3h1M82 3h1M100 3h1M107 3h1M110 3h1M112 3h1M113 3h1M114 3h1M125 3h1M128 3h1M39 4h1M47 4h1M64 4h1M113 4h1M9 7h1M16 7h1M23 7h1M25 7h1M44 7h1M50 7h1M51 7h1M3 8h1M11 8h1M15 8h1M17 8h1M21 8h1M26 8h1M28 8h1M42 8h1M63 8h1M66 8h1M87 8h1M97 8h1M106 8h1M107 8h1M110 8h1M114 8h1M119 8h1M7 9h1M19 9h1M24 9h1M26 9h1M30 9h1M44 9h1M51 9h1M57 9h1M58 9h1M71 9h1M72 9h1M75 9h1M79 9h1M90 9h1M92 9h1M94 9h1M96 9h1M105 9h1M108 9h1M119 9h1M0 10h1M17 10h1M24 10h1M47 10h1M2 11h1M8 11h1M22 11h1M33 11h1M43 11h1M65 11h1M68 11h1M71 11h1M76 11h1M89 11h1M90 11h1M94 11h1M105 11h1M113 11h1M14 12h1M34 12h1M46 12h1M3 14h1M12 14h1M22 14h1M24 14h1M38 14h1M39 14h1M43 14h1M54 14h1M61 14h1M65 14h1M69 14h1M71 14h1M88 14h1M89 14h1M98 14h1M100 14h1M107 14h1M108 14h1M114 14h1M118 14h1M128 14h1M137 14h1M0 15h1M8 15h1M23 15h1M25 15h1M36 15h1M45 15h1M49 15h1M50 15h1M54 15h1M61 15h1M68 15h1M72 15h1M79 15h1M90 15h1M92 15h1M94 15h1M97 15h1M105 15h1M107 15h1M133 15h1M134 15h1M2 16h1M3 16h1M7 16h1M21 16h1M27 16h1M35 16h1M46 16h1M49 16h1M50 16h1M54 16h1M58 16h1M64 16h1M65 16h1M69 16h1M76 16h1M96 16h1M100 16h1M106 16h1M107 16h1M111 16h1M120 16h1M0 17h1M2 17h1M8 17h1M10 17h1M19 17h1M35 17h1M36 17h1M42 17h1M44 17h1M53 17h1M58 17h1M61 17h1M65 17h1M82 17h1M97 17h1M100 17h1M114 17h1M0 19h1M9 19h1M17 19h1M36 19h1M39 19h1M41 19h1M44 19h1M49 19h1M51 19h1M64 19h1M79 19h1M8 21h1M16 21h1M23 21h1M24 21h1M41 21h1M49 21h1M62 21h1M65 21h1M79 21h1M94 21h1M110 21h1M3 22h1M11 22h1M14 22h1M23 22h1M27 22h1M34 22h1M49 22h1M50 22h1M66 22h1M71 22h1M108 22h1M113 22h1M114 22h1M3 23h1M7 23h1M15 23h1M21 23h1M22 23h1M30 23h1M35 23h1M44 23h1M58 23h1M61 23h1M62 23h1M64 23h1M72 23h1M74 23h1M96 23h1M9 24h1M10 24h1M14 24h1M21 24h1M25 24h1M39 24h1M41 24h1M43 24h1M51 24h1M54 24h1M62 24h1M67 24h1M68 24h1M69 24h1M76 24h1M87 24h1M90 24h1M96 24h1M109 24h1M110 24h1M111 24h1M117 24h1M137 24h1M1 25h1M2 25h1M7 25h1M15 25h1M24 25h1M30 25h1M44 25h1M45 25h1M50 25h1M51 25h1M61 25h1M67 25h1M72 25h1M84 25h1M90 25h1M96 25h1M105 25h1M107 25h1M114 25h1M117 25h1M120 25h1M8 26h1M9 26h1M47 26h1M16 27h1M22 27h1M46 27h1M8 28h1M9 30h1M23 30h1M25 30h1M49 30h1M50 30h1M71 30h1M94 30h1M11 33h1M34 33h1M47 33h1M12 34h1M22 34h1M33 34h1M36 34h1M42 34h1M46 34h1M67 34h1M68 34h1M72 34h1M79 34h1M92 34h1M96 34h1M98 34h1M107 34h1M109 34h1M117 34h1M16 35h1M17 35h1M23 35h1M39 35h1M46 35h1M50 35h1M79 35h1M1 36h1M15 36h1M17 36h1M19 36h1M34 36h1M51 36h1M58 36h1M60 36h1M66 36h1M67 36h1M68 36h1M72 36h1M76 36h1M89 36h1M99 36h1M113 36h1M127 36h1M14 38h1M41 38h1M47 38h1M0 39h1M1 39h1M4 39h1M14 39h1M19 39h1M24 39h1M35 39h1M41 39h1M47 39h1M64 39h1M68 39h1M71 39h1M94 39h1M96 39h1M110 39h1M19 41h1M21 41h1M24 41h1M38 41h1M39 41h1M57 41h1M69 41h1M72 41h1M76 41h1M81 41h1M87 41h1M89 41h1M90 41h1M98 41h1M113 41h1M117 41h1M120 41h1M125 41h1M127 41h1M8 42h1M17 42h1M34 42h1M46 42h1M3 43h1M11 43h1M14 43h1M24 43h1M7 44h1M9 44h1M17 44h1M19 44h1M23 44h1M25 44h1M49 44h1M53 44h1M71 44h1M94 44h1M3 45h1M15 45h1M25 45h1M49 45h1M58 45h1M1 46h1M2 46h1M12 46h1M16 46h1M27 46h1M34 46h1M35 46h1M42 46h1M49 46h1M51 46h1M54 46h1M58 46h1M61 46h1M67 46h1M68 46h1M94 46h1M107 46h1M108 46h1M119 46h1M137 46h1M4 47h1M10 47h1M26 47h1M33 47h1M38 47h1M39 47h1M54 47h1M57 47h1M65 47h1M76 47h1M89 47h1M92 47h1M97 47h1M111 47h1M113 47h1M133 47h1M134 47h1M15 49h1M16 49h1M19 49h1M21 49h1M22 49h1M30 49h1M44 49h1M45 49h1M46 49h1M51 49h1M62 49h1M0 50h1M7 50h1M15 50h1M16 50h1M22 50h1M25 50h1M30 50h1M35 50h1M61 50h1M62 50h1M64 50h1M84 50h1M96 50h1M1 51h1M7 51h1M9 51h1M19 51h1M24 51h1M25 51h1M36 51h1M46 51h1M49 51h1M60 51h1M65 51h1M68 51h1M71 51h1M94 51h1M17 53h1M44 53h1M62 53h1M64 53h1M111 53h1M14 54h1M15 54h1M16 54h1M24 54h1M46 54h1M47 54h1M64 54h1M9 57h1M41 57h1M47 57h1M79 57h1M9 58h1M16 58h1M17 58h1M23 58h1M36 58h1M45 58h1M46 58h1M62 58h1M64 58h1M111 58h1M36 60h1M51 60h1M1 61h1M3 61h1M14 61h1M15 61h1M17 61h1M23 61h1M25 61h1M46 61h1M50 61h1M21 62h1M23 62h1M24 62h1M49 62h1M50 62h1M53 62h1M58 62h1M71 62h1M94 62h1M114 62h1M8 63h1M0 64h1M4 64h1M16 64h1M19 64h1M23 64h1M39 64h1M50 64h1M53 64h1M54 64h1M58 64h1M71 64h1M94 64h1M108 64h1M111 64h1M117 64h1M0 65h1M3 65h1M11 65h1M14 65h1M16 65h1M17 65h1M21 65h1M47 65h1M51 65h1M3 66h1M8 66h1M22 66h1M36 66h1M92 66h1M24 67h1M25 67h1M34 67h1M36 67h1M46 67h1M0 68h1M11 68h1M15 68h1M24 68h1M34 68h1M36 68h1M39 68h1M46 68h1M51 68h1M96 68h1M14 69h1M16 69h1M24 69h1M41 69h1M1 71h1M9 71h1M11 71h1M14 71h1M22 71h1M30 71h1M39 71h1M44 71h1M51 71h1M62 71h1M64 71h1M9 72h1M15 72h1M23 72h1M25 72h1M34 72h1M36 72h1M41 72h1M1 74h1M3 74h1M23 74h1M9 75h1M0 76h1M3 76h1M11 76h1M16 76h1M24 76h1M36 76h1M41 76h1M47 76h1M1 79h1M9 79h1M15 79h1M19 79h1M21 79h1M34 79h1M35 79h1M57 79h1M96 79h1M41 81h1M3 82h1M17 82h1M25 84h1M50 84h1M8 87h1M24 87h1M41 87h1M14 88h1M0 89h1M11 89h1M14 89h1M36 89h1M41 89h1M47 89h1M94 89h1M9 90h1M11 90h1M15 90h1M24 90h1M25 90h1M41 90h1M1 92h1M9 92h1M15 92h1M34 92h1M47 92h1M66 92h1M9 94h1M11 94h1M15 94h1M21 94h1M30 94h1M39 94h1M44 94h1M46 94h1M51 94h1M62 94h1M64 94h1M89 94h1M111 94h1M114 94h1M9 96h1M16 96h1M23 96h1M24 96h1M25 96h1M34 96h1M39 96h1M50 96h1M68 96h1M79 96h1M111 96h1M0 97h1M8 97h1M15 97h1M17 97h1M47 97h1M14 98h1M34 98h1M41 98h1M36 99h1M3 100h1M14 100h1M16 100h1M17 100h1M0 105h1M9 105h1M11 105h1M15 105h1M25 105h1M8 106h1M16 106h1M3 107h1M8 107h1M14 107h1M15 107h1M16 107h1M25 107h1M34 107h1M46 107h1M9 108h1M14 108h1M22 108h1M46 108h1M64 108h1M24 109h1M34 109h1M3 110h1M8 110h1M21 110h1M24 110h1M39 110h1M16 111h1M24 111h1M47 111h1M53 111h1M58 111h1M64 111h1M94 111h1M96 111h1M3 112h1M3 113h1M4 113h1M11 113h1M22 113h1M36 113h1M41 113h1M47 113h1M3 114h1M8 114h1M14 114h1M17 114h1M22 114h1M25 114h1M62 114h1M94 114h1M24 117h1M25 117h1M34 117h1M41 117h1M64 117h1M14 118h1M1 119h1M8 119h1M9 119h1M46 119h1M16 120h1M25 120h1M41 120h1M3 125h1M41 125h1M1 127h1M36 127h1M41 127h1M3 128h1M14 128h1M15 133h1M47 133h1M15 134h1M47 134h1M14 137h1M24 137h1M46 137h1" stroke="#453781" stroke-width="1" stroke-opacity="0.9" fill="none"/><path transform="translate(502.5 9.85) scale(1.0007 0.9977) translate(0 0.5)" d="M7 0h1M9 0h1M24 0h1M30 0h1M44 0h1M47 0h1M92 0h1M110 0h1M114 0h1M19 1h1M22 1h1M23 1h1M24 1h1M34 1h1M41 1h1M110 1h1M25 3h1M44 3h1M50 3h1M53 3h1M84 3h1M90 3h1M92 3h1M97 3h1M117 3h1M34 4h1M41 4h1M57 4h1M0 7h1M34 7h1M47 7h1M35 8h1M58 8h1M94 8h1M105 8h1M109 8h1M117 8h1M0 9h1M15 9h1M21 9h1M23 9h1M34 9h1M50 9h1M74 9h1M25 10h1M36 10h1M19 11h1M25 11h1M39 11h1M58 11h1M114 11h1M15 12h1M24 12h1M16 14h1M17 14h1M72 14h1M96 14h1M9 15h1M12 15h1M38 15h1M53 15h1M87 15h1M88 15h1M89 15h1M98 15h1M108 15h1M111 15h1M14 16h1M34 16h1M36 16h1M39 16h1M45 16h1M47 16h1M110 16h1M14 17h1M22 17h1M68 17h1M79 17h1M89 17h1M111 17h1M1 19h1M11 19h1M46 19h1M9 21h1M50 21h1M53 21h1M64 21h1M1 22h1M17 22h1M36 22h1M47 22h1M1 23h1M9 23h1M45 23h1M50 23h1M65 23h1M111 23h1M0 24h1M1 24h1M12 24h1M32 24h1M34 24h1M35 24h1M49 24h1M65 24h1M113 24h1M127 24h1M130 24h1M134 24h1M3 25h1M10 25h1M11 25h1M46 25h1M57 25h1M71 25h1M89 25h1M94 25h1M110 25h1M113 25h1M41 27h1M47 27h1M0 30h1M46 30h1M47 30h1M24 32h1M34 32h1M1 34h1M4 34h1M7 34h1M9 34h1M16 34h1M24 34h1M32 34h1M51 34h1M61 34h1M108 34h1M8 35h1M24 35h1M49 35h1M10 36h1M16 36h1M22 36h1M41 36h1M47 36h1M49 36h1M61 36h1M62 36h1M97 36h1M117 36h1M15 38h1M11 39h1M16 39h1M60 39h1M1 41h1M4 41h1M27 41h1M36 41h1M43 41h1M50 41h1M60 41h1M41 43h1M0 44h1M3 44h1M69 44h1M92 44h1M16 45h1M23 45h1M19 46h1M25 46h1M30 46h1M47 46h1M110 46h1M117 46h1M0 47h1M7 47h1M16 47h1M22 47h1M27 47h1M30 47h1M36 47h1M46 47h1M51 47h1M58 47h1M60 47h1M67 47h1M71 47h1M74 47h1M96 47h1M24 49h1M35 49h1M36 49h1M96 49h1M3 50h1M9 50h1M21 50h1M23 50h1M41 50h1M94 50h1M34 51h1M47 51h1M74 51h1M105 51h1M107 51h1M3 53h1M15 53h1M21 53h1M4 57h1M25 57h1M8 58h1M11 58h1M47 58h1M39 60h1M41 60h1M47 60h1M34 61h1M36 61h1M36 62h1M21 64h1M65 64h1M23 65h1M24 65h1M64 65h1M47 67h1M17 68h1M44 69h1M25 71h1M47 71h1M14 72h1M9 74h1M47 74h1M51 74h1M17 79h1M3 84h1M15 87h1M15 88h1M15 89h1M17 89h1M25 89h1M3 90h1M0 92h1M3 92h1M44 92h1M8 94h1M25 94h1M50 94h1M14 96h1M47 96h1M49 96h1M3 97h1M36 97h1M15 98h1M8 105h1M51 105h1M51 107h1M15 108h1M34 108h1M8 109h1M0 110h1M1 110h1M16 110h1M25 110h1M46 110h1M15 111h1M17 111h1M23 111h1M24 113h1M25 113h1M0 114h1M11 114h1M3 117h1M8 117h1M36 117h1M46 117h1M24 127h1M24 130h1M24 134h1" stroke="#3b528b" stroke-width="1" stroke-opacity="0.95" fill="none"/><path transform="translate(502.5 9.85) scale(1.0007 0.9977) translate(0 0.5)" d="M16 0h1M51 0h1M3 1h1M15 2h1M1 3h1M10 3h1M12 3h1M51 3h1M24 4h1M36 4h1M62 9h1M65 9h1M3 10h1M23 11h1M27 11h1M46 11h1M57 11h1M92 11h1M3 12h1M47 14h1M51 14h1M64 14h1M113 14h1M2 15h1M21 15h1M35 15h1M39 15h1M114 15h1M0 16h1M24 16h1M105 16h1M47 17h1M64 17h1M108 17h1M34 19h1M15 21h1M46 22h1M11 23h1M41 23h1M46 23h1M60 23h1M68 23h1M94 23h1M4 24h1M16 24h1M30 24h1M57 24h1M71 24h1M89 24h1M35 25h1M53 25h1M68 25h1M11 27h1M64 27h1M24 30h1M64 30h1M19 34h1M49 34h1M58 34h1M64 34h1M71 34h1M110 34h1M15 35h1M25 35h1M4 36h1M44 36h1M50 36h1M15 39h1M23 41h1M47 41h1M36 44h1M11 46h1M22 46h1M23 46h1M14 47h1M17 47h1M41 47h1M61 47h1M79 47h1M34 49h1M36 50h1M68 50h1M0 51h1M3 51h1M14 51h1M25 53h1M11 57h1M24 57h1M34 58h1M23 60h1M47 61h1M9 62h1M14 64h1M17 64h1M27 64h1M30 64h1M34 64h1M9 65h1M23 68h1M25 68h1M50 68h1M24 71h1M34 71h1M47 79h1M24 89h1M11 92h1M23 94h1M16 105h1M17 108h1M34 110h1M14 113h1M15 114h1" stroke="#2c728e" stroke-width="1" stroke-opacity="1" fill="none"/><path transform="translate(502.5 9.85) scale(1.0007 0.9977) translate(0 0.5)" d="M4 0h1M22 0h1M49 0h1M96 0h1M15 1h1M111 3h1M0 4h1M11 4h1M15 4h1M17 7h1M51 8h1M89 8h1M92 8h1M108 8h1M113 8h1M4 11h1M14 11h1M16 11h1M50 11h1M62 11h1M11 14h1M53 14h1M57 14h1M105 14h1M1 15h1M4 15h1M16 15h1M22 15h1M30 15h1M11 16h1M15 16h1M68 16h1M7 17h1M24 17h1M45 17h1M62 17h1M25 19h1M51 21h1M0 22h1M15 22h1M25 23h1M57 23h1M17 24h1M58 24h1M19 25h1M23 25h1M27 25h1M54 25h1M106 25h1M25 27h1M15 30h1M47 34h1M94 34h1M41 35h1M39 36h1M110 36h1M36 39h1M35 41h1M53 41h1M54 41h1M71 41h1M97 41h1M111 41h1M50 44h1M17 45h1M50 46h1M74 46h1M34 47h1M0 49h1M11 50h1M44 50h1M46 50h1M8 51h1M21 51h1M14 53h1M41 53h1M25 54h1M41 54h1M14 57h1M23 57h1M24 58h1M11 62h1M17 62h1M16 68h1M41 71h1M46 74h1M8 89h1M8 92h1M34 94h1M0 96h1M41 97h1M14 105h1M25 106h1M8 108h1M36 110h1M3 111h1M41 111h1M8 113h1" stroke="#21918c" stroke-width="1" stroke-opacity="1" fill="none"/><path transform="translate(502.5 9.85) scale(1.0007 0.9977) translate(0 0.5)" d="M23 0h1M41 0h1M49 1h1M64 1h1M94 1h1M24 3h1M68 3h1M9 4h1M22 8h1M23 8h1M30 8h1M96 8h1M4 9h1M49 9h1M113 9h1M17 11h1M96 11h1M46 14h1M46 15h1M92 16h1M11 17h1M46 17h1M69 17h1M110 17h1M34 21h1M8 22h1M0 23h1M8 23h1M36 23h1M3 24h1M94 24h1M62 25h1M8 30h1M21 34h1M23 36h1M64 36h1M0 41h1M14 46h1M15 46h1M17 46h1M66 47h1M1 49h1M9 49h1M25 62h1M1 64h1M36 64h1M47 66h1M3 68h1M17 69h1M16 92h1M1 94h1M24 94h1M8 96h1M11 96h1M17 110h1M9 113h1" stroke="#35b779" stroke-width="1" stroke-opacity="1" fill="none"/><path transform="translate(502.5 9.85) scale(1.0007 0.9977) translate(0 0.5)" d="M36 0h1M4 1h1M108 1h1M9 3h1M58 3h1M1 4h1M17 4h1M16 8h1M39 8h1M64 8h1M3 9h1M23 14h1M58 14h1M17 15h1M8 16h1M4 17h1M15 17h1M49 17h1M14 23h1M27 24h1M24 27h1M0 36h1M53 36h1M8 39h1M64 46h1M62 47h1M17 49h1M36 53h1M3 58h1M14 58h1M47 62h1M8 64h1M46 64h1M1 108h1" stroke="#8fd744" stroke-width="1" stroke-opacity="1" fill="none"/><path transform="translate(502.5 9.85) scale(1.0007 0.9977) translate(0 0.5)" d="M34 0h1M9 1h1M21 3h1M46 3h1M49 3h1M60 3h1M108 3h1M14 4h1M46 4h1M15 7h1M36 7h1M25 8h1M46 8h1M74 8h1M1 9h1M14 9h1M39 9h1M53 9h1M34 11h1M4 14h1M9 14h1M50 14h1M94 14h1M7 15h1M19 15h1M24 15h1M44 15h1M57 15h1M110 15h1M41 16h1M44 16h1M51 16h1M94 16h1M21 17h1M23 17h1M50 17h1M107 17h1M15 19h1M3 21h1M17 21h1M25 22h1M41 22h1M17 23h1M15 24h1M44 24h1M108 24h1M8 25h1M22 25h1M49 25h1M79 25h1M0 34h1M11 34h1M41 34h1M44 34h1M7 36h1M9 39h1M16 41h1M22 41h1M34 41h1M46 41h1M49 41h1M114 41h1M15 44h1M16 44h1M24 44h1M34 44h1M3 46h1M4 46h1M8 46h1M41 46h1M92 46h1M114 46h1M3 49h1M25 49h1M41 49h1M14 50h1M17 50h1M16 51h1M9 53h1M15 57h1M3 60h1M8 74h1M25 79h1M46 92h1M14 94h1M16 94h1M17 107h1M3 108h1M24 108h1M15 110h1M41 114h1M46 114h1" stroke="#e3d03a" stroke-width="1" stroke-opacity="1" fill="none"/><path transform="translate(502.5 9.85) scale(1.0007 0.9977) translate(0 0.5)" d="M8 0h1M108 0h1M114 1h1M36 3h1M41 3h1M57 3h1M94 3h1M16 4h1M49 4h1M8 7h1M0 8h1M7 8h1M47 8h1M61 8h1M67 8h1M16 9h1M46 9h1M53 11h1M36 14h1M44 14h1M130 14h1M47 15h1M60 15h1M62 15h1M65 15h1M69 15h1M96 15h1M4 16h1M9 16h1M94 17h1M47 21h1M51 22h1M53 23h1M45 24h1M58 25h1M74 25h1M92 25h1M34 27h1M27 34h1M111 34h1M3 36h1M14 36h1M3 41h1M64 41h1M68 41h1M14 44h1M57 44h1M24 45h1M9 46h1M53 46h1M79 46h1M8 47h1M15 47h1M21 47h1M53 47h1M64 47h1M94 47h1M4 49h1M53 49h1M22 51h1M11 53h1M23 53h1M46 53h1M47 53h1M49 53h1M3 57h1M44 57h1M25 58h1M15 60h1M8 61h1M15 62h1M92 62h1M41 64h1M47 64h1M15 65h1M8 67h1M41 68h1M15 69h1M25 74h1M46 79h1M25 92h1M62 92h1M3 94h1M17 94h1M47 94h1M15 96h1M0 108h1M34 111h1M1 114h1M14 130h1" stroke="#b8804f" stroke-width="1" stroke-opacity="0.8" fill="none"/><path d="M579.75 69.03h1M594.74 69.03h1M622.92 69.03h1M628.62 69.03h1M581.95 87.37h1M606.23 87.37h1M620.72 87.37h1M622.92 87.37h1M646.9 87.37h1M594.74 89.56h1M606.23 89.56h1M620.72 89.56h1M622.92 89.56h1M628.62 89.56h1M637.11 89.56h1M646.9 89.56h1M615.62 95.74h1M628.62 95.74h1M615.62 113.77h1M620.72 113.77h1M635.11 113.77h1M622.92 123.14h1M628.62 123.14h1M628.62 128.22h1M637.11 130.41h1M637.11 142.57h1M561.36 87.37h1M561.36 102.31h1M561.36 130.41h1M561.36 136.09h1M579.75 89.56h1M579.75 113.77h1M579.75 128.22h1M579.75 130.41h1M579.75 154.32h1M581.95 102.31h1M581.95 113.77h1M581.95 128.22h1M581.95 130.41h1M581.95 136.09h1M581.95 144.56h1M581.95 154.32h1M588.14 123.14h1M588.14 136.09h1M606.23 123.14h1M606.23 128.22h1M606.23 142.57h1M615.62 130.41h1M615.62 136.09h1M620.72 136.09h1M622.92 144.56h1M635.11 144.56h1" stroke="#d9a55a" stroke-width="1" stroke-opacity="0.55" fill="none"/><path d="M606.23 69.03h1M613.73 69.03h1M637.11 69.03h1M588.14 87.37h1M628.62 87.37h1M637.11 87.37h1M588.14 89.56h1M613.73 89.56h1M615.62 89.56h1M635.11 89.56h1M606.23 95.74h1M635.11 95.74h1M613.73 102.31h1M622.92 102.31h1M628.62 102.31h1M646.9 102.31h1M613.73 113.77h1M628.62 113.77h1M637.11 113.77h1M620.72 121.24h1M622.92 121.24h1M628.62 121.24h1M637.11 121.24h1M646.9 121.24h1M620.72 123.14h1M646.9 123.14h1M622.92 128.22h1M635.11 128.22h1M628.62 130.41h1M646.9 130.41h1M637.11 136.09h1M646.9 136.09h1M646.9 142.57h1M528.68 15.83h1M549.07 25.99h1M585.24 22.5h1M536.38 37.95h1M564.16 43.03h1M567.76 43.53h1M574.85 46.42h1M591.74 43.53h1M602.33 46.62h1M639.01 46.62h1M623.52 50.1h1M567.06 52.79h1M570.35 58.77h1M592.64 58.77h1M597.94 58.77h1M574.65 63.45h1M637.71 63.45h1M591.94 74.31h1M592.64 76.31h1M597.94 76.31h1M603.03 75.61h1M618.62 76.91h1M634.11 76.91h1M637.91 81.19h1M594.34 82.88h1M601.93 81.19h1M609.73 83.38h1M524.19 16.53h1M562.36 44.12h1M566.46 53.69h1M569.06 59.47h1M573.55 47.51h1M573.05 64.55h1M548.17 27.09h1M619.12 12.68h1M634.18 132.02h1M622.86 120.3h1M586.46 87.81h1M566.59 20.06h1M631.81 95.33h1M578.14 41.11h1M575.24 64.1h1M583.1 62.53h1M571.3 15.94h1M537.73 37.8h1M630.48 97.45h1M623.94 49.23h1M627.65 110.43h1M516.23 14.29h1M615 13.98h1M540.66 27.88h1M595.78 62.29h1M527.45 22.02h1M581.47 36.47h1M608.53 51.82h1M570.8 59h1M573.6 15.3h1M561.36 113.77h1M561.36 121.24h1M561.36 144.56h1M579.75 95.74h1M579.75 136.09h1M579.75 144.56h1M581.95 95.74h1M581.95 121.24h1M581.95 123.14h1M581.95 142.57h1M588.14 113.77h1M588.14 142.57h1M594.74 121.24h1M594.74 130.41h1M594.74 136.09h1M594.74 154.32h1M606.23 121.24h1M606.23 136.09h1M606.23 144.56h1M613.73 128.22h1M613.73 130.41h1M613.73 136.09h1M613.73 144.56h1M613.73 154.32h1M615.62 128.22h1M615.62 154.32h1M620.72 130.41h1M620.72 142.57h1M622.92 136.09h1M622.92 154.32h1M628.62 144.56h1M628.62 154.32h1M635.11 154.32h1M508 36.45h1M518.19 56.78h1M514.69 92.85h1M530.18 44.12h1M535.28 71.82h1M535.78 75.41h1M538.68 82.48h1M535.78 99.32h1M538.88 109.88h1M538.88 146.45h1M542.37 131.01h1M545.07 74.71h1M551.07 78h1M551.07 100.22h1M551.07 105.5h1M555.76 82.29h1M555.76 145.16h1M566.66 99.52h1M568.66 100.22h1M568.66 105.5h1M567.96 110.58h1M569.26 126.13h1M569.26 141.57h1M573.55 145.36h1M575.25 101.91h1M573.55 109.49h1M575.75 117.26h1M508.7 31.97h1M536.38 70.03h1M545.97 74.12h1M551.77 76.71h1M539.77 81.19h1M556.86 80.69h1M519.29 55.88h1M504.84 126.62h1M624.53 141.64h1M612.78 130.35h1M580.19 94.06h1M512.24 74.25h1M587.73 139.27h1M533.36 85.77h1M556.41 82.87h1M554.84 90.71h1M508.11 78.95h1M530.03 45.47h1M589.86 137.95h1M541.5 131.42h1M602.88 135.13h1M506.45 24.03h1M506.14 122.51h1M520.08 48.39h1M554.6 103.35h1M514.21 35.22h1M528.7 89.09h1M544.09 116.07h1M551.3 78.44h1M507.47 81.23h1" stroke="#d9a55a" stroke-width="1" stroke-opacity="0.3" fill="none"/></g><line x1="502.5" y1="9.85" x2="653.6" y2="160.5" stroke="#ddaa5c" stroke-width="0.8"/><rect x="502.5" y="9.85" width="151.1" height="150.65" fill="none" stroke="#000" stroke-width="0.4"/><rect x="664.1" y="9.85" width="7.6" height="150.65" fill="url(#vir)" stroke="#000" stroke-width="0.45"/><path d="M502.53 160.5v1.9M534.74 160.5v1.9M566.94 160.5v1.9M599.14 160.5v1.9M631.35 160.5v1.9M502.5 9.88h-1.9M502.5 41.99h-1.9M502.5 74.1h-1.9M502.5 106.21h-1.9M502.5 138.31h-1.9M671.7 160.5h1.9M671.7 130.37h1.9M671.7 100.24h1.9M671.7 70.11h1.9M671.7 39.98h1.9M671.7 9.85h1.9" stroke="#000" stroke-width="0.45" fill="none"/></g>
<g><rect x="28.4" y="206.4" width="151.1" height="150.1" fill="#440154"/><g filter="url(#bl2)"><path d="M69.07 244.52h1M71.47 244.52h1M73.67 244.52h1M75.37 244.52h1M76.87 244.52h1M79.27 244.52h1M73.67 247.3h1M76.87 247.3h1M79.27 247.3h1M80.86 247.3h1M85.46 247.3h1M80.86 249.68h1M85.46 249.68h1M85.46 251.87h1M85.46 253.55h1M79.27 255.04h1M80.86 255.04h1M85.46 259.01h1M66.27 247.3h1M66.27 249.68h1M66.27 251.87h1M66.27 253.55h1M66.27 255.04h1M66.27 257.43h1M69.07 251.87h1M69.07 255.04h1M69.07 257.43h1M69.07 259.01h1M69.07 263.58h1M71.47 259.01h1M71.47 263.58h1M73.67 263.58h1M75.37 263.58h1M76.87 257.43h1M76.87 259.01h1M80.86 263.58h1" stroke="#d9a55a" stroke-width="1" stroke-opacity="0.42" fill="none"/><path d="M85.46 244.52h1M71.47 247.3h1M75.37 247.3h1M75.37 249.68h1M76.87 249.68h1M79.27 249.68h1M75.37 251.87h1M76.87 251.87h1M76.87 253.55h1M79.27 253.55h1M80.86 253.55h1M85.46 257.43h1M66.27 263.58h1M69.07 249.68h1M69.07 253.55h1M71.47 253.55h1M71.47 255.04h1M71.47 257.43h1M73.67 253.55h1M73.67 255.04h1M75.37 255.04h1M75.37 257.43h1M75.37 259.01h1M79.27 263.58h1" stroke="#d9a55a" stroke-width="1" stroke-opacity="0.25" fill="none"/><path d="M65.8 210.51h1M76.9 210.51h1M101.33 210.51h1M130.2 208.31h1M69.79 214.93h1M108.66 225.96h1M131.31 226.18h1M96 242.5h1M101.33 243.61h1M155.29 242.5h1M104.22 250.89h1M134.2 249.56h1M150.19 249.56h1M156.4 249.56h1M101.33 254.19h1M109.32 271.18h1M155.29 272.28h1M173.06 278.9h1M154.18 278.9h1M31.6 248.02h1M36.93 248.02h1M31.6 214.93h1M49.81 232.57h1M54.25 234.34h1M65.35 272.28h1M66.46 277.8h1M76.9 277.8h1M89.12 272.28h1M93.11 275.15h1M32.49 277.8h1M115.32 285.41h1M120.87 283.87h1M127.98 283.87h1M131.98 284.53h1M144.63 285.41h1M149.74 283.87h1M148.63 287.62h1M144.63 290.93h1M127.98 297.76h1M149.74 297.76h1M144.19 301.96h1M149.74 304.82h1M154.63 304.82h1M144.63 306.37h1M149.74 310.34h1M156.4 310.34h1M148.63 316.52h1M146.41 318.5h1M156.4 326.88h1M174.17 330.85h1M48.7 284.97h1M73.57 281.66h1M94.22 286.51h1M107.99 297.76h1M107.99 304.82h1M108.66 308.13h1M124.65 306.37h1M49.14 307.47h1M30.93 306.59h1M72.02 310.34h1M108.66 321.37h1M114.65 321.37h1M124.65 320.71h1M129.09 320.71h1M134.86 319.82h1M110.88 325.34h1M107.55 326.88h1M120.87 326.44h1M127.98 326.44h1M133.75 326.88h1M140.19 324.68h1M127.98 330.85h1M133.75 333.06h1M72.02 326.88h1M65.35 331.74h1M72.02 333.5h1M95.78 331.74h1M102.44 330.85h1M149.74 333.06h1M102.44 350.05h1M154.63 350.05h1" stroke="#d9a55a" stroke-width="1" stroke-opacity="0.42" fill="none"/></g><line x1="28.4" y1="206.4" x2="179.5" y2="356.5" stroke="#b8895a" stroke-width="0.9"/><rect x="28.4" y="206.4" width="151.1" height="150.1" fill="none" stroke="#000" stroke-width="0.4"/><rect x="190" y="206.4" width="7.6" height="150.1" fill="url(#vir)" stroke="#000" stroke-width="0.45"/><path d="M28.48 356.5v1.9M59.89 356.5v1.9M91.31 356.5v1.9M122.72 356.5v1.9M154.13 356.5v1.9M28.4 206.48h-1.9M28.4 237.68h-1.9M28.4 268.89h-1.9M28.4 300.1h-1.9M28.4 331.3h-1.9M197.6 356.5h1.9M197.6 326.48h1.9M197.6 296.46h1.9M197.6 266.44h1.9M197.6 236.42h1.9M197.6 206.4h1.9" stroke="#000" stroke-width="0.45" fill="none"/></g>
<g><rect x="265.5" y="206.4" width="151.1" height="150.1" fill="#440154"/><g filter="url(#bl)"><path transform="translate(265.5 206.4) scale(1.0007 0.9940) translate(0 0.5)" d="M1 0h1M3 0h1M11 0h1M14 0h1M19 0h1M22 0h1M34 0h1M36 0h1M37 0h1M38 0h1M40 0h1M42 0h1M46 0h1M51 0h1M53 0h1M57 0h1M61 0h1M64 0h1M68 0h1M69 0h1M70 0h1M75 0h1M78 0h1M79 0h1M83 0h1M86 0h1M89 0h1M92 0h1M93 0h1M94 0h1M106 0h1M107 0h1M108 0h1M111 0h1M115 0h1M121 0h1M124 0h1M134 0h1M136 0h1M139 0h1M145 0h1M146 0h1M150 0h1M0 1h1M9 1h1M10 1h1M13 1h1M14 1h1M15 1h1M16 1h1M18 1h1M20 1h1M30 1h1M31 1h1M32 1h1M34 1h1M35 1h1M39 1h1M41 1h1M47 1h1M58 1h1M61 1h1M65 1h1M67 1h1M68 1h1M74 1h1M76 1h1M77 1h1M78 1h1M89 1h1M90 1h1M95 1h1M108 1h1M110 1h1M125 1h1M127 1h1M137 1h1M139 1h1M140 1h1M143 1h1M147 1h1M6 2h1M7 2h1M8 2h1M9 2h1M17 2h1M18 2h1M22 2h1M33 2h1M36 2h1M38 2h1M39 2h1M40 2h1M41 2h1M45 2h1M46 2h1M47 2h1M48 2h1M51 2h1M53 2h1M57 2h1M69 2h1M71 2h1M72 2h1M74 2h1M78 2h1M81 2h1M82 2h1M85 2h1M88 2h1M90 2h1M94 2h1M95 2h1M97 2h1M100 2h1M103 2h1M104 2h1M106 2h1M115 2h1M123 2h1M125 2h1M130 2h1M134 2h1M139 2h1M146 2h1M149 2h1M0 3h1M6 3h1M9 3h1M11 3h1M13 3h1M17 3h1M19 3h1M24 3h1M25 3h1M27 3h1M31 3h1M36 3h1M37 3h1M41 3h1M42 3h1M47 3h1M48 3h1M54 3h1M55 3h1M59 3h1M64 3h1M65 3h1M67 3h1M71 3h1M73 3h1M80 3h1M88 3h1M96 3h1M99 3h1M109 3h1M110 3h1M111 3h1M112 3h1M115 3h1M123 3h1M126 3h1M129 3h1M144 3h1M147 3h1M149 3h1M13 4h1M25 4h1M31 4h1M36 4h1M44 4h1M53 4h1M64 4h1M93 4h1M96 4h1M103 4h1M2 6h1M3 6h1M7 6h1M8 6h1M13 6h1M18 6h1M21 6h1M24 6h1M28 6h1M34 6h1M35 6h1M36 6h1M37 6h1M39 6h1M41 6h1M44 6h1M46 6h1M50 6h1M51 6h1M53 6h1M55 6h1M58 6h1M60 6h1M67 6h1M71 6h1M78 6h1M80 6h1M94 6h1M99 6h1M126 6h1M139 6h1M2 7h1M6 7h1M8 7h1M9 7h1M16 7h1M19 7h1M24 7h1M25 7h1M31 7h1M37 7h1M40 7h1M43 7h1M48 7h1M52 7h1M53 7h1M67 7h1M71 7h1M72 7h1M73 7h1M74 7h1M80 7h1M89 7h1M92 7h1M98 7h1M99 7h1M119 7h1M123 7h1M138 7h1M139 7h1M150 7h1M2 8h1M6 8h1M7 8h1M16 8h1M18 8h1M25 8h1M27 8h1M31 8h1M35 8h1M41 8h1M48 8h1M49 8h1M55 8h1M59 8h1M71 8h1M73 8h1M78 8h1M92 8h1M94 8h1M109 8h1M112 8h1M1 9h1M2 9h1M3 9h1M7 9h1M11 9h1M12 9h1M13 9h1M15 9h1M16 9h1M17 9h1M18 9h1M19 9h1M30 9h1M33 9h1M41 9h1M47 9h1M49 9h1M51 9h1M52 9h1M57 9h1M61 9h1M64 9h1M65 9h1M67 9h1M69 9h1M70 9h1M72 9h1M75 9h1M78 9h1M79 9h1M81 9h1M84 9h1M86 9h1M90 9h1M92 9h1M94 9h1M96 9h1M103 9h1M109 9h1M118 9h1M121 9h1M136 9h1M141 9h1M148 9h1M150 9h1M1 10h1M17 10h1M18 10h1M23 10h1M27 10h1M32 10h1M35 10h1M37 10h1M38 10h1M39 10h1M51 10h1M53 10h1M54 10h1M57 10h1M66 10h1M72 10h1M81 10h1M94 10h1M107 10h1M141 10h1M143 10h1M0 11h1M3 11h1M9 11h1M22 11h1M27 11h1M30 11h1M31 11h1M32 11h1M37 11h1M39 11h1M40 11h1M43 11h1M46 11h1M51 11h1M52 11h1M59 11h1M60 11h1M63 11h1M71 11h1M79 11h1M92 11h1M97 11h1M107 11h1M132 11h1M9 12h1M18 12h1M32 12h1M37 12h1M38 12h1M39 12h1M40 12h1M43 12h1M47 12h1M52 12h1M54 12h1M55 12h1M58 12h1M61 12h1M65 12h1M71 12h1M73 12h1M78 12h1M81 12h1M83 12h1M84 12h1M90 12h1M111 12h1M125 12h1M1 13h1M3 13h1M4 13h1M6 13h1M9 13h1M14 13h1M26 13h1M30 13h1M36 13h1M37 13h1M39 13h1M40 13h1M42 13h1M43 13h1M45 13h1M46 13h1M55 13h1M63 13h1M77 13h1M78 13h1M79 13h1M85 13h1M94 13h1M99 13h1M104 13h1M125 13h1M127 13h1M132 13h1M135 13h1M138 13h1M143 13h1M150 13h1M0 14h1M1 14h1M13 14h1M16 14h1M18 14h1M19 14h1M23 14h1M32 14h1M33 14h1M38 14h1M39 14h1M47 14h1M48 14h1M57 14h1M64 14h1M72 14h1M73 14h1M74 14h1M83 14h1M96 14h1M108 14h1M115 14h1M132 14h1M133 14h1M144 14h1M147 14h1M1 15h1M9 15h1M31 15h1M47 15h1M48 15h1M103 15h1M132 15h1M137 15h1M1 16h1M7 16h1M8 16h1M9 16h1M14 16h1M17 16h1M18 16h1M19 16h1M21 16h1M24 16h1M25 16h1M34 16h1M35 16h1M37 16h1M38 16h1M45 16h1M46 16h1M48 16h1M51 16h1M53 16h1M55 16h1M57 16h1M58 16h1M60 16h1M64 16h1M65 16h1M67 16h1M68 16h1M71 16h1M72 16h1M76 16h1M78 16h1M79 16h1M84 16h1M85 16h1M104 16h1M105 16h1M112 16h1M114 16h1M121 16h1M125 16h1M127 16h1M134 16h1M135 16h1M138 16h1M147 16h1M148 16h1M150 16h1M2 17h1M3 17h1M9 17h1M10 17h1M16 17h1M23 17h1M24 17h1M25 17h1M37 17h1M43 17h1M46 17h1M48 17h1M60 17h1M61 17h1M63 17h1M66 17h1M71 17h1M74 17h1M77 17h1M78 17h1M79 17h1M94 17h1M97 17h1M98 17h1M99 17h1M102 17h1M107 17h1M109 17h1M115 17h1M117 17h1M139 17h1M145 17h1M147 17h1M148 17h1M1 18h1M2 18h1M6 18h1M8 18h1M9 18h1M10 18h1M12 18h1M14 18h1M16 18h1M19 18h1M22 18h1M24 18h1M32 18h1M36 18h1M38 18h1M43 18h1M44 18h1M47 18h1M55 18h1M61 18h1M69 18h1M73 18h1M79 18h1M82 18h1M83 18h1M84 18h1M89 18h1M96 18h1M100 18h1M107 18h1M109 18h1M111 18h1M112 18h1M119 18h1M121 18h1M123 18h1M125 18h1M141 18h1M0 19h1M3 19h1M7 19h1M9 19h1M14 19h1M16 19h1M18 19h1M25 19h1M26 19h1M28 19h1M34 19h1M37 19h1M38 19h1M42 19h1M43 19h1M47 19h1M49 19h1M51 19h1M52 19h1M53 19h1M62 19h1M70 19h1M74 19h1M81 19h1M83 19h1M84 19h1M86 19h1M89 19h1M90 19h1M91 19h1M100 19h1M101 19h1M105 19h1M108 19h1M114 19h1M124 19h1M125 19h1M130 19h1M1 20h1M27 20h1M32 20h1M35 20h1M43 20h1M64 20h1M83 20h1M6 21h1M16 21h1M27 21h1M28 21h1M35 21h1M37 21h1M39 21h1M40 21h1M48 21h1M51 21h1M52 21h1M64 21h1M67 21h1M81 21h1M85 21h1M94 21h1M100 21h1M105 21h1M123 21h1M150 21h1M0 22h1M2 22h1M11 22h1M18 22h1M25 22h1M30 22h1M43 22h1M47 22h1M53 22h1M54 22h1M58 22h1M71 22h1M79 22h1M82 22h1M95 22h1M109 22h1M135 22h1M10 23h1M14 23h1M17 23h1M27 23h1M31 23h1M33 23h1M34 23h1M41 23h1M44 23h1M45 23h1M49 23h1M53 23h1M54 23h1M59 23h1M64 23h1M66 23h1M67 23h1M69 23h1M71 23h1M72 23h1M73 23h1M77 23h1M78 23h1M84 23h1M85 23h1M90 23h1M106 23h1M107 23h1M121 23h1M135 23h1M139 23h1M140 23h1M141 23h1M148 23h1M3 24h1M6 24h1M7 24h1M16 24h1M17 24h1M18 24h1M25 24h1M31 24h1M38 24h1M40 24h1M42 24h1M48 24h1M52 24h1M53 24h1M54 24h1M57 24h1M59 24h1M65 24h1M70 24h1M72 24h1M75 24h1M76 24h1M78 24h1M80 24h1M81 24h1M86 24h1M87 24h1M89 24h1M92 24h1M96 24h1M102 24h1M105 24h1M111 24h1M115 24h1M120 24h1M126 24h1M139 24h1M144 24h1M148 24h1M3 25h1M4 25h1M7 25h1M8 25h1M16 25h1M17 25h1M19 25h1M22 25h1M24 25h1M31 25h1M32 25h1M36 25h1M38 25h1M42 25h1M44 25h1M54 25h1M59 25h1M64 25h1M71 25h1M72 25h1M74 25h1M76 25h1M86 25h1M89 25h1M110 25h1M114 25h1M120 25h1M139 25h1M145 25h1M148 25h1M13 26h1M19 26h1M32 26h1M35 26h1M66 26h1M89 26h1M3 27h1M8 27h1M10 27h1M11 27h1M20 27h1M21 27h1M23 27h1M35 27h1M38 27h1M39 27h1M42 27h1M44 27h1M46 27h1M48 27h1M61 27h1M62 27h1M64 27h1M67 27h1M69 27h1M70 27h1M75 27h1M76 27h1M81 27h1M83 27h1M100 27h1M102 27h1M106 27h1M109 27h1M115 27h1M121 27h1M123 27h1M131 27h1M137 27h1M140 27h1M145 27h1M150 27h1M6 28h1M19 28h1M21 28h1M39 28h1M42 28h1M55 28h1M60 28h1M64 28h1M68 28h1M72 28h1M96 28h1M134 28h1M139 28h1M1 30h1M9 30h1M11 30h1M13 30h1M22 30h1M39 30h1M46 30h1M53 30h1M54 30h1M59 30h1M62 30h1M66 30h1M67 30h1M70 30h1M72 30h1M79 30h1M81 30h1M83 30h1M84 30h1M85 30h1M86 30h1M95 30h1M102 30h1M107 30h1M109 30h1M110 30h1M129 30h1M134 30h1M144 30h1M1 31h1M3 31h1M4 31h1M7 31h1M8 31h1M11 31h1M15 31h1M23 31h1M24 31h1M25 31h1M32 31h1M33 31h1M34 31h1M37 31h1M39 31h1M40 31h1M42 31h1M43 31h1M44 31h1M48 31h1M51 31h1M67 31h1M71 31h1M74 31h1M75 31h1M78 31h1M79 31h1M80 31h1M81 31h1M92 31h1M95 31h1M99 31h1M109 31h1M115 31h1M118 31h1M123 31h1M134 31h1M137 31h1M145 31h1M147 31h1M149 31h1M1 32h1M10 32h1M11 32h1M12 32h1M14 32h1M18 32h1M20 32h1M25 32h1M26 32h1M31 32h1M36 32h1M37 32h1M39 32h1M41 32h1M42 32h1M46 32h1M49 32h1M53 32h1M58 32h1M60 32h1M61 32h1M66 32h1M68 32h1M69 32h1M75 32h1M76 32h1M78 32h1M80 32h1M83 32h1M93 32h1M96 32h1M115 32h1M119 32h1M123 32h1M137 32h1M143 32h1M147 32h1M2 33h1M9 33h1M14 33h1M23 33h1M31 33h1M54 33h1M55 33h1M71 33h1M72 33h1M85 33h1M99 33h1M124 33h1M139 33h1M0 34h1M1 34h1M6 34h1M16 34h1M19 34h1M23 34h1M31 34h1M35 34h1M38 34h1M42 34h1M47 34h1M60 34h1M64 34h1M67 34h1M73 34h1M74 34h1M77 34h1M78 34h1M79 34h1M82 34h1M83 34h1M85 34h1M86 34h1M90 34h1M92 34h1M93 34h1M96 34h1M97 34h1M99 34h1M107 34h1M115 34h1M119 34h1M121 34h1M125 34h1M135 34h1M139 34h1M146 34h1M148 34h1M1 35h1M6 35h1M8 35h1M10 35h1M16 35h1M20 35h1M21 35h1M26 35h1M27 35h1M34 35h1M40 35h1M46 35h1M47 35h1M48 35h1M51 35h1M58 35h1M61 35h1M64 35h1M69 35h1M70 35h1M74 35h1M76 35h1M77 35h1M78 35h1M79 35h1M81 35h1M95 35h1M107 35h1M123 35h1M135 35h1M139 35h1M140 35h1M144 35h1M149 35h1M0 36h1M2 36h1M3 36h1M4 36h1M6 36h1M13 36h1M18 36h1M25 36h1M32 36h1M44 36h1M46 36h1M54 36h1M60 36h1M69 36h1M74 36h1M89 36h1M90 36h1M99 36h1M103 36h1M115 36h1M125 36h1M0 37h1M3 37h1M6 37h1M7 37h1M10 37h1M11 37h1M12 37h1M13 37h1M16 37h1M17 37h1M19 37h1M21 37h1M31 37h1M32 37h1M38 37h1M39 37h1M40 37h1M52 37h1M53 37h1M58 37h1M60 37h1M61 37h1M68 37h1M84 37h1M89 37h1M90 37h1M92 37h1M97 37h1M113 37h1M114 37h1M118 37h1M123 37h1M126 37h1M141 37h1M0 38h1M2 38h1M10 38h1M12 38h1M14 38h1M16 38h1M18 38h1M19 38h1M24 38h1M25 38h1M27 38h1M34 38h1M37 38h1M42 38h1M43 38h1M45 38h1M47 38h1M50 38h1M60 38h1M65 38h1M66 38h1M67 38h1M70 38h1M74 38h1M75 38h1M77 38h1M79 38h1M82 38h1M83 38h1M86 38h1M89 38h1M95 38h1M97 38h1M98 38h1M106 38h1M107 38h1M108 38h1M114 38h1M130 38h1M137 38h1M140 38h1M1 39h1M2 39h1M6 39h1M10 39h1M11 39h1M12 39h1M13 39h1M14 39h1M21 39h1M27 39h1M28 39h1M30 39h1M31 39h1M32 39h1M37 39h1M42 39h1M43 39h1M45 39h1M46 39h1M48 39h1M49 39h1M51 39h1M52 39h1M58 39h1M59 39h1M69 39h1M71 39h1M78 39h1M81 39h1M89 39h1M92 39h1M95 39h1M99 39h1M109 39h1M111 39h1M123 39h1M124 39h1M127 39h1M134 39h1M135 39h1M137 39h1M0 40h1M2 40h1M7 40h1M11 40h1M12 40h1M13 40h1M21 40h1M24 40h1M31 40h1M35 40h1M37 40h1M43 40h1M44 40h1M60 40h1M63 40h1M64 40h1M66 40h1M68 40h1M82 40h1M90 40h1M106 40h1M111 40h1M115 40h1M119 40h1M121 40h1M123 40h1M127 40h1M130 40h1M134 40h1M135 40h1M138 40h1M141 40h1M147 40h1M1 41h1M2 41h1M3 41h1M6 41h1M8 41h1M9 41h1M23 41h1M32 41h1M44 41h1M46 41h1M54 41h1M58 41h1M61 41h1M62 41h1M69 41h1M73 41h1M78 41h1M80 41h1M81 41h1M82 41h1M83 41h1M90 41h1M100 41h1M102 41h1M104 41h1M106 41h1M107 41h1M115 41h1M137 41h1M139 41h1M140 41h1M141 41h1M143 41h1M0 42h1M3 42h1M13 42h1M19 42h1M24 42h1M25 42h1M27 42h1M28 42h1M31 42h1M32 42h1M34 42h1M38 42h1M39 42h1M43 42h1M44 42h1M48 42h1M51 42h1M52 42h1M54 42h1M57 42h1M66 42h1M69 42h1M75 42h1M76 42h1M80 42h1M83 42h1M94 42h1M103 42h1M105 42h1M115 42h1M7 43h1M11 43h1M12 43h1M13 43h1M17 43h1M18 43h1M19 43h1M20 43h1M22 43h1M31 43h1M38 43h1M39 43h1M40 43h1M42 43h1M53 43h1M54 43h1M55 43h1M60 43h1M65 43h1M70 43h1M71 43h1M73 43h1M77 43h1M82 43h1M83 43h1M85 43h1M90 43h1M96 43h1M98 43h1M100 43h1M119 43h1M126 43h1M127 43h1M144 43h1M147 43h1M148 43h1M4 44h1M6 44h1M18 44h1M23 44h1M25 44h1M27 44h1M31 44h1M36 44h1M40 44h1M41 44h1M42 44h1M46 44h1M49 44h1M53 44h1M54 44h1M64 44h1M67 44h1M68 44h1M71 44h1M72 44h1M73 44h1M74 44h1M79 44h1M81 44h1M86 44h1M89 44h1M90 44h1M91 44h1M93 44h1M94 44h1M109 44h1M110 44h1M117 44h1M125 44h1M126 44h1M132 44h1M133 44h1M135 44h1M136 44h1M139 44h1M148 44h1M2 45h1M13 45h1M16 45h1M23 45h1M38 45h1M39 45h1M52 45h1M53 45h1M57 45h1M65 45h1M66 45h1M69 45h1M71 45h1M73 45h1M74 45h1M75 45h1M76 45h1M82 45h1M83 45h1M85 45h1M90 45h1M92 45h1M98 45h1M102 45h1M106 45h1M130 45h1M144 45h1M150 45h1M0 46h1M2 46h1M6 46h1M11 46h1M13 46h1M16 46h1M17 46h1M27 46h1M30 46h1M32 46h1M35 46h1M36 46h1M39 46h1M41 46h1M44 46h1M50 46h1M52 46h1M55 46h1M61 46h1M62 46h1M64 46h1M71 46h1M72 46h1M89 46h1M97 46h1M99 46h1M130 46h1M149 46h1M1 47h1M2 47h1M3 47h1M9 47h1M12 47h1M14 47h1M15 47h1M18 47h1M19 47h1M22 47h1M34 47h1M35 47h1M38 47h1M48 47h1M52 47h1M57 47h1M67 47h1M72 47h1M79 47h1M84 47h1M97 47h1M108 47h1M143 47h1M145 47h1M148 47h1M149 47h1M2 48h1M3 48h1M7 48h1M8 48h1M14 48h1M15 48h1M16 48h1M17 48h1M21 48h1M24 48h1M27 48h1M31 48h1M35 48h1M39 48h1M42 48h1M47 48h1M49 48h1M51 48h1M53 48h1M54 48h1M57 48h1M59 48h1M60 48h1M62 48h1M64 48h1M66 48h1M67 48h1M68 48h1M70 48h1M71 48h1M74 48h1M75 48h1M78 48h1M84 48h1M85 48h1M92 48h1M100 48h1M108 48h1M110 48h1M117 48h1M118 48h1M125 48h1M149 48h1M8 49h1M9 49h1M19 49h1M23 49h1M32 49h1M39 49h1M44 49h1M48 49h1M54 49h1M57 49h1M65 49h1M74 49h1M79 49h1M108 49h1M109 49h1M110 49h1M148 49h1M6 50h1M38 50h1M46 50h1M52 50h1M54 50h1M57 50h1M58 50h1M69 50h1M0 51h1M2 51h1M6 51h1M9 51h1M10 51h1M11 51h1M16 51h1M19 51h1M21 51h1M31 51h1M35 51h1M39 51h1M42 51h1M48 51h1M58 51h1M60 51h1M83 51h1M90 51h1M93 51h1M143 51h1M147 51h1M7 52h1M9 52h1M11 52h1M12 52h1M19 52h1M21 52h1M24 52h1M37 52h1M39 52h1M42 52h1M45 52h1M46 52h1M47 52h1M50 52h1M55 52h1M57 52h1M60 52h1M61 52h1M65 52h1M66 52h1M68 52h1M69 52h1M73 52h1M81 52h1M84 52h1M90 52h1M95 52h1M106 52h1M113 52h1M119 52h1M121 52h1M128 52h1M130 52h1M138 52h1M139 52h1M0 53h1M2 53h1M4 53h1M6 53h1M7 53h1M10 53h1M16 53h1M19 53h1M22 53h1M23 53h1M24 53h1M30 53h1M32 53h1M37 53h1M43 53h1M44 53h1M45 53h1M48 53h1M54 53h1M61 53h1M67 53h1M72 53h1M74 53h1M82 53h1M84 53h1M90 53h1M96 53h1M98 53h1M123 53h1M135 53h1M138 53h1M149 53h1M150 53h1M3 54h1M10 54h1M12 54h1M22 54h1M23 54h1M24 54h1M25 54h1M30 54h1M33 54h1M36 54h1M41 54h1M42 54h1M43 54h1M44 54h1M48 54h1M49 54h1M50 54h1M53 54h1M55 54h1M58 54h1M62 54h1M71 54h1M75 54h1M78 54h1M79 54h1M81 54h1M85 54h1M93 54h1M99 54h1M102 54h1M110 54h1M111 54h1M112 54h1M115 54h1M126 54h1M128 54h1M134 54h1M143 54h1M147 54h1M3 55h1M6 55h1M8 55h1M12 55h1M13 55h1M16 55h1M18 55h1M28 55h1M33 55h1M43 55h1M46 55h1M52 55h1M54 55h1M56 55h1M59 55h1M60 55h1M61 55h1M64 55h1M65 55h1M70 55h1M82 55h1M84 55h1M90 55h1M92 55h1M99 55h1M100 55h1M111 55h1M115 55h1M137 55h1M148 55h1M55 56h1M0 57h1M2 57h1M9 57h1M10 57h1M14 57h1M16 57h1M24 57h1M42 57h1M45 57h1M47 57h1M48 57h1M49 57h1M50 57h1M52 57h1M60 57h1M61 57h1M63 57h1M64 57h1M66 57h1M71 57h1M72 57h1M74 57h1M75 57h1M77 57h1M82 57h1M83 57h1M89 57h1M96 57h1M97 57h1M99 57h1M100 57h1M119 57h1M120 57h1M135 57h1M149 57h1M150 57h1M1 58h1M6 58h1M12 58h1M16 58h1M22 58h1M32 58h1M35 58h1M37 58h1M39 58h1M41 58h1M50 58h1M51 58h1M54 58h1M61 58h1M66 58h1M69 58h1M70 58h1M71 58h1M74 58h1M75 58h1M79 58h1M90 58h1M92 58h1M94 58h1M104 58h1M108 58h1M110 58h1M135 58h1M3 59h1M8 59h1M11 59h1M23 59h1M24 59h1M25 59h1M30 59h1M39 59h1M48 59h1M55 59h1M61 59h1M67 59h1M69 59h1M71 59h1M73 59h1M79 59h1M85 59h1M139 59h1M145 59h1M6 60h1M11 60h1M16 60h1M17 60h1M28 60h1M32 60h1M34 60h1M36 60h1M37 60h1M38 60h1M40 60h1M43 60h1M48 60h1M51 60h1M52 60h1M55 60h1M57 60h1M62 60h1M72 60h1M73 60h1M81 60h1M82 60h1M86 60h1M94 60h1M96 60h1M97 60h1M100 60h1M107 60h1M109 60h1M111 60h1M132 60h1M141 60h1M0 61h1M1 61h1M9 61h1M12 61h1M17 61h1M18 61h1M27 61h1M32 61h1M35 61h1M37 61h1M41 61h1M46 61h1M52 61h1M53 61h1M55 61h1M57 61h1M58 61h1M59 61h1M78 61h1M79 61h1M90 61h1M96 61h1M100 61h1M108 61h1M111 61h1M137 61h1M19 62h1M27 62h1M30 62h1M41 62h1M46 62h1M48 62h1M54 62h1M60 62h1M94 62h1M145 62h1M11 63h1M13 63h1M17 63h1M40 63h1M57 63h1M123 63h1M0 64h1M3 64h1M4 64h1M9 64h1M14 64h1M16 64h1M20 64h1M21 64h1M23 64h1M25 64h1M27 64h1M28 64h1M34 64h1M35 64h1M40 64h1M44 64h1M46 64h1M48 64h1M55 64h1M57 64h1M67 64h1M68 64h1M71 64h1M73 64h1M77 64h1M81 64h1M86 64h1M89 64h1M90 64h1M94 64h1M96 64h1M104 64h1M121 64h1M125 64h1M139 64h1M140 64h1M1 65h1M3 65h1M9 65h1M12 65h1M16 65h1M24 65h1M38 65h1M43 65h1M45 65h1M49 65h1M52 65h1M55 65h1M67 65h1M71 65h1M74 65h1M84 65h1M95 65h1M96 65h1M119 65h1M10 66h1M17 66h1M23 66h1M26 66h1M30 66h1M32 66h1M38 66h1M40 66h1M42 66h1M45 66h1M48 66h1M52 66h1M57 66h1M58 66h1M74 66h1M77 66h1M78 66h1M99 66h1M1 67h1M3 67h1M6 67h1M7 67h1M9 67h1M16 67h1M21 67h1M23 67h1M27 67h1M30 67h1M31 67h1M34 67h1M38 67h1M44 67h1M47 67h1M48 67h1M53 67h1M59 67h1M64 67h1M65 67h1M70 67h1M73 67h1M74 67h1M76 67h1M103 67h1M107 67h1M108 67h1M110 67h1M112 67h1M114 67h1M115 67h1M119 67h1M127 67h1M132 67h1M138 67h1M0 68h1M1 68h1M16 68h1M28 68h1M32 68h1M37 68h1M40 68h1M44 68h1M48 68h1M52 68h1M64 68h1M71 68h1M0 69h1M2 69h1M9 69h1M18 69h1M23 69h1M27 69h1M32 69h1M35 69h1M36 69h1M39 69h1M41 69h1M42 69h1M45 69h1M50 69h1M52 69h1M58 69h1M59 69h1M73 69h1M82 69h1M83 69h1M85 69h1M92 69h1M103 69h1M119 69h1M127 69h1M135 69h1M137 69h1M0 70h1M9 70h1M19 70h1M24 70h1M27 70h1M30 70h1M35 70h1M38 70h1M43 70h1M48 70h1M55 70h1M58 70h1M67 70h1M72 70h1M85 70h1M86 70h1M95 70h1M108 70h1M124 70h1M130 70h1M133 70h1M2 71h1M3 71h1M6 71h1M7 71h1M8 71h1M11 71h1M12 71h1M16 71h1M17 71h1M22 71h1M23 71h1M25 71h1M31 71h1M33 71h1M39 71h1M43 71h1M44 71h1M45 71h1M46 71h1M48 71h1M54 71h1M57 71h1M58 71h1M59 71h1M64 71h1M65 71h1M68 71h1M73 71h1M74 71h1M75 71h1M76 71h1M77 71h1M78 71h1M80 71h1M83 71h1M85 71h1M86 71h1M94 71h1M95 71h1M100 71h1M105 71h1M110 71h1M114 71h1M115 71h1M116 71h1M123 71h1M126 71h1M130 71h1M139 71h1M2 72h1M7 72h1M9 72h1M10 72h1M14 72h1M16 72h1M23 72h1M24 72h1M25 72h1M28 72h1M30 72h1M33 72h1M44 72h1M46 72h1M47 72h1M53 72h1M57 72h1M60 72h1M70 72h1M74 72h1M80 72h1M82 72h1M83 72h1M85 72h1M92 72h1M97 72h1M99 72h1M102 72h1M109 72h1M111 72h1M115 72h1M117 72h1M148 72h1M3 73h1M7 73h1M8 73h1M12 73h1M14 73h1M18 73h1M23 73h1M34 73h1M41 73h1M43 73h1M44 73h1M45 73h1M52 73h1M59 73h1M60 73h1M64 73h1M67 73h1M69 73h1M71 73h1M74 73h1M76 73h1M108 73h1M111 73h1M115 73h1M147 73h1M1 74h1M2 74h1M7 74h1M14 74h1M17 74h1M19 74h1M25 74h1M31 74h1M34 74h1M35 74h1M36 74h1M38 74h1M44 74h1M45 74h1M48 74h1M49 74h1M53 74h1M57 74h1M58 74h1M65 74h1M66 74h1M67 74h1M71 74h1M72 74h1M73 74h1M78 74h1M80 74h1M82 74h1M83 74h1M89 74h1M94 74h1M98 74h1M100 74h1M107 74h1M109 74h1M111 74h1M126 74h1M128 74h1M133 74h1M148 74h1M149 74h1M0 75h1M9 75h1M24 75h1M27 75h1M31 75h1M32 75h1M38 75h1M42 75h1M45 75h1M48 75h1M54 75h1M57 75h1M58 75h1M71 75h1M77 75h1M89 75h1M92 75h1M135 75h1M139 75h1M1 76h1M16 76h1M24 76h1M25 76h1M27 76h1M32 76h1M35 76h1M42 76h1M45 76h1M67 76h1M71 76h1M73 76h1M102 76h1M106 76h1M126 76h1M137 76h1M150 76h1M1 77h1M13 77h1M17 77h1M23 77h1M34 77h1M35 77h1M38 77h1M43 77h1M57 77h1M64 77h1M66 77h1M71 77h1M75 77h1M78 77h1M80 77h1M88 77h1M93 77h1M96 77h1M107 77h1M115 77h1M123 77h1M145 77h1M0 78h1M1 78h1M2 78h1M6 78h1M8 78h1M9 78h1M12 78h1M13 78h1M16 78h1M17 78h1M23 78h1M24 78h1M31 78h1M32 78h1M34 78h1M35 78h1M39 78h1M41 78h1M48 78h1M54 78h1M61 78h1M66 78h1M71 78h1M74 78h1M77 78h1M96 78h1M103 78h1M111 78h1M119 78h1M125 78h1M137 78h1M140 78h1M145 78h1M147 78h1M0 79h1M9 79h1M11 79h1M13 79h1M16 79h1M17 79h1M18 79h1M22 79h1M30 79h1M31 79h1M34 79h1M35 79h1M38 79h1M44 79h1M47 79h1M49 79h1M54 79h1M58 79h1M59 79h1M61 79h1M99 79h1M104 79h1M115 79h1M132 79h1M136 79h1M3 80h1M6 80h1M7 80h1M24 80h1M31 80h1M32 80h1M41 80h1M42 80h1M71 80h1M72 80h1M74 80h1M77 80h1M85 80h1M108 80h1M127 80h1M135 80h1M2 81h1M9 81h1M10 81h1M12 81h1M19 81h1M21 81h1M24 81h1M27 81h1M30 81h1M31 81h1M35 81h1M39 81h1M41 81h1M44 81h1M52 81h1M54 81h1M60 81h1M64 81h1M82 81h1M85 81h1M95 81h1M106 81h1M111 81h1M2 82h1M18 82h1M22 82h1M34 82h1M38 82h1M40 82h1M41 82h1M43 82h1M45 82h1M53 82h1M55 82h1M57 82h1M60 82h1M69 82h1M72 82h1M74 82h1M81 82h1M86 82h1M107 82h1M113 82h1M118 82h1M120 82h1M124 82h1M0 83h1M12 83h1M14 83h1M18 83h1M19 83h1M20 83h1M27 83h1M30 83h1M32 83h1M34 83h1M38 83h1M41 83h1M42 83h1M43 83h1M45 83h1M51 83h1M57 83h1M69 83h1M71 83h1M72 83h1M74 83h1M85 83h1M86 83h1M91 83h1M97 83h1M103 83h1M107 83h1M118 83h1M123 83h1M132 83h1M9 84h1M12 84h1M16 84h1M18 84h1M19 84h1M23 84h1M30 84h1M37 84h1M47 84h1M48 84h1M52 84h1M53 84h1M55 84h1M65 84h1M2 85h1M13 85h1M16 85h1M21 85h1M23 85h1M30 85h1M33 85h1M34 85h1M43 85h1M45 85h1M48 85h1M54 85h1M59 85h1M69 85h1M70 85h1M71 85h1M72 85h1M80 85h1M81 85h1M83 85h1M96 85h1M110 85h1M115 85h1M125 85h1M126 85h1M138 85h1M147 85h1M0 86h1M9 86h1M19 86h1M24 86h1M25 86h1M30 86h1M34 86h1M38 86h1M44 86h1M60 86h1M64 86h1M70 86h1M71 86h1M82 86h1M83 86h1M92 86h1M109 86h1M145 86h1M24 87h1M2 88h1M3 88h1M77 88h1M125 88h1M0 89h1M1 89h1M7 89h1M18 89h1M19 89h1M24 89h1M25 89h1M26 89h1M36 89h1M37 89h1M38 89h1M39 89h1M44 89h1M46 89h1M57 89h1M64 89h1M74 89h1M75 89h1M99 89h1M139 89h1M1 90h1M2 90h1M9 90h1M12 90h1M19 90h1M23 90h1M34 90h1M36 90h1M37 90h1M40 90h1M41 90h1M43 90h1M44 90h1M45 90h1M51 90h1M52 90h1M53 90h1M55 90h1M58 90h1M61 90h1M64 90h1M94 90h1M114 90h1M123 90h1M125 90h1M140 90h1M144 90h1M19 91h1M44 91h1M83 91h1M107 91h1M0 92h1M7 92h1M8 92h1M9 92h1M11 92h1M24 92h1M31 92h1M34 92h1M37 92h1M39 92h1M45 92h1M48 92h1M55 92h1M58 92h1M69 92h1M72 92h1M75 92h1M86 92h1M93 92h1M136 92h1M0 93h1M4 93h1M32 93h1M34 93h1M44 93h1M51 93h1M54 93h1M77 93h1M92 93h1M96 93h1M0 94h1M2 94h1M6 94h1M8 94h1M9 94h1M10 94h1M13 94h1M17 94h1M21 94h1M42 94h1M44 94h1M58 94h1M60 94h1M62 94h1M64 94h1M71 94h1M74 94h1M90 94h1M100 94h1M125 94h1M135 94h1M1 95h1M2 95h1M22 95h1M30 95h1M31 95h1M35 95h1M38 95h1M39 95h1M52 95h1M65 95h1M70 95h1M71 95h1M81 95h1M137 95h1M3 96h1M4 96h1M9 96h1M14 96h1M18 96h1M24 96h1M28 96h1M32 96h1M34 96h1M43 96h1M53 96h1M57 96h1M60 96h1M61 96h1M64 96h1M65 96h1M77 96h1M78 96h1M85 96h1M93 96h1M100 96h1M107 96h1M111 96h1M128 96h1M146 96h1M148 96h1M2 97h1M11 97h1M17 97h1M34 97h1M37 97h1M38 97h1M46 97h1M47 97h1M57 97h1M60 97h1M72 97h1M83 97h1M111 97h1M119 97h1M124 97h1M139 97h1M150 97h1M7 98h1M17 98h1M38 98h1M43 98h1M45 98h1M53 98h1M74 98h1M3 99h1M6 99h1M7 99h1M13 99h1M17 99h1M31 99h1M33 99h1M34 99h1M36 99h1M39 99h1M46 99h1M54 99h1M55 99h1M57 99h1M66 99h1M72 99h1M79 99h1M89 99h1M104 99h1M120 99h1M137 99h1M2 100h1M18 100h1M19 100h1M21 100h1M27 100h1M41 100h1M43 100h1M48 100h1M55 100h1M57 100h1M60 100h1M61 100h1M71 100h1M74 100h1M94 100h1M96 100h1M102 100h1M107 100h1M115 100h1M120 100h1M19 101h1M17 102h1M24 102h1M27 102h1M30 102h1M41 102h1M45 102h1M54 102h1M72 102h1M76 102h1M100 102h1M2 103h1M4 103h1M9 103h1M15 103h1M36 103h1M42 103h1M67 103h1M69 103h1M78 103h1M83 103h1M2 104h1M13 104h1M16 104h1M41 104h1M58 104h1M64 104h1M79 104h1M99 104h1M125 104h1M16 105h1M19 105h1M21 105h1M24 105h1M42 105h1M71 105h1M112 105h1M115 105h1M0 106h1M2 106h1M23 106h1M27 106h1M38 106h1M40 106h1M41 106h1M45 106h1M52 106h1M76 106h1M81 106h1M123 106h1M0 107h1M10 107h1M11 107h1M17 107h1M18 107h1M23 107h1M30 107h1M34 107h1M35 107h1M38 107h1M41 107h1M60 107h1M67 107h1M74 107h1M77 107h1M82 107h1M83 107h1M91 107h1M96 107h1M100 107h1M121 107h1M126 107h1M147 107h1M0 108h1M1 108h1M14 108h1M19 108h1M38 108h1M47 108h1M48 108h1M49 108h1M58 108h1M61 108h1M67 108h1M70 108h1M73 108h1M80 108h1M129 108h1M3 109h1M8 109h1M9 109h1M17 109h1M18 109h1M22 109h1M27 109h1M30 109h1M31 109h1M39 109h1M44 109h1M49 109h1M60 109h1M72 109h1M74 109h1M86 109h1M115 109h1M150 109h1M1 110h1M3 110h1M25 110h1M30 110h1M44 110h1M48 110h1M49 110h1M54 110h1M58 110h1M67 110h1M71 110h1M85 110h1M129 110h1M132 110h1M135 110h1M0 111h1M3 111h1M12 111h1M18 111h1M24 111h1M39 111h1M40 111h1M54 111h1M55 111h1M60 111h1M61 111h1M72 111h1M73 111h1M74 111h1M78 111h1M81 111h1M96 111h1M97 111h1M112 111h1M3 112h1M8 112h1M16 112h1M18 112h1M54 112h1M67 112h1M105 112h1M111 112h1M37 113h1M52 113h1M82 113h1M115 113h1M16 114h1M19 114h1M25 114h1M37 114h1M38 114h1M67 114h1M71 114h1M90 114h1M139 114h1M0 115h1M2 115h1M3 115h1M14 115h1M17 115h1M24 115h1M27 115h1M31 115h1M32 115h1M34 115h1M36 115h1M40 115h1M41 115h1M42 115h1M54 115h1M55 115h1M67 115h1M71 115h1M72 115h1M73 115h1M77 115h1M79 115h1M85 115h1M100 115h1M105 115h1M109 115h1M113 115h1M71 116h1M17 117h1M44 117h1M48 117h1M72 117h1M136 117h1M9 118h1M31 118h1M37 118h1M48 118h1M82 118h1M83 118h1M7 119h1M18 119h1M32 119h1M34 119h1M40 119h1M43 119h1M52 119h1M57 119h1M65 119h1M67 119h1M69 119h1M78 119h1M97 119h1M137 119h1M24 120h1M25 120h1M57 120h1M82 120h1M99 120h1M100 120h1M137 120h1M0 121h1M9 121h1M16 121h1M18 121h1M23 121h1M27 121h1M34 121h1M40 121h1M52 121h1M64 121h1M107 121h1M2 123h1M3 123h1M7 123h1M18 123h1M21 123h1M27 123h1M31 123h1M32 123h1M35 123h1M37 123h1M39 123h1M40 123h1M53 123h1M63 123h1M71 123h1M77 123h1M83 123h1M90 123h1M106 123h1M139 123h1M0 124h1M19 124h1M33 124h1M39 124h1M70 124h1M82 124h1M97 124h1M125 124h1M132 124h1M1 125h1M2 125h1M12 125h1M13 125h1M16 125h1M18 125h1M19 125h1M34 125h1M36 125h1M44 125h1M48 125h1M64 125h1M78 125h1M85 125h1M88 125h1M90 125h1M94 125h1M104 125h1M124 125h1M3 126h1M6 126h1M24 126h1M37 126h1M43 126h1M44 126h1M54 126h1M71 126h1M74 126h1M76 126h1M85 126h1M107 126h1M148 126h1M1 127h1M13 127h1M16 127h1M39 127h1M40 127h1M43 127h1M67 127h1M69 127h1M80 127h1M52 128h1M54 128h1M74 128h1M96 128h1M3 129h1M30 129h1M108 129h1M110 129h1M140 129h1M2 130h1M19 130h1M38 130h1M40 130h1M45 130h1M46 130h1M52 130h1M70 130h1M71 130h1M141 130h1M148 130h1M150 130h1M27 131h1M11 132h1M13 132h1M14 132h1M15 132h1M44 132h1M60 132h1M67 132h1M79 132h1M83 132h1M110 132h1M124 132h1M134 132h1M14 133h1M44 133h1M70 133h1M74 133h1M137 133h1M0 134h1M2 134h1M16 134h1M28 134h1M30 134h1M31 134h1M39 134h1M40 134h1M54 134h1M132 134h1M13 135h1M16 135h1M22 135h1M23 135h1M34 135h1M35 135h1M39 135h1M40 135h1M44 135h1M53 135h1M57 135h1M58 135h1M69 135h1M75 135h1M80 135h1M94 135h1M110 135h1M144 135h1M0 136h1M9 136h1M44 136h1M79 136h1M92 136h1M117 136h1M1 137h1M15 137h1M27 137h1M31 137h1M32 137h1M38 137h1M39 137h1M41 137h1M55 137h1M61 137h1M69 137h1M76 137h1M78 137h1M95 137h1M99 137h1M119 137h1M120 137h1M133 137h1M7 138h1M13 138h1M16 138h1M40 138h1M52 138h1M53 138h1M67 138h1M85 138h1M0 139h1M1 139h1M2 139h1M6 139h1M7 139h1M17 139h1M23 139h1M24 139h1M25 139h1M28 139h1M33 139h1M34 139h1M35 139h1M41 139h1M44 139h1M52 139h1M59 139h1M64 139h1M71 139h1M75 139h1M89 139h1M97 139h1M114 139h1M123 139h1M1 140h1M23 140h1M27 140h1M35 140h1M38 140h1M41 140h1M64 140h1M78 140h1M90 140h1M129 140h1M9 141h1M10 141h1M18 141h1M23 141h1M37 141h1M40 141h1M41 141h1M60 141h1M130 141h1M1 143h1M10 143h1M13 143h1M32 143h1M41 143h1M47 143h1M51 143h1M54 143h1M3 144h1M14 144h1M24 144h1M30 144h1M35 144h1M43 144h1M45 144h1M90 144h1M135 144h1M0 145h1M17 145h1M25 145h1M27 145h1M31 145h1M47 145h1M59 145h1M62 145h1M77 145h1M78 145h1M86 145h1M0 146h1M2 146h1M34 146h1M96 146h1M1 147h1M3 147h1M14 147h1M16 147h1M17 147h1M31 147h1M32 147h1M40 147h1M43 147h1M51 147h1M54 147h1M73 147h1M78 147h1M85 147h1M107 147h1M9 148h1M16 148h1M17 148h1M23 148h1M24 148h1M25 148h1M34 148h1M43 148h1M44 148h1M47 148h1M49 148h1M55 148h1M72 148h1M74 148h1M96 148h1M126 148h1M130 148h1M2 149h1M3 149h1M31 149h1M35 149h1M46 149h1M47 149h1M48 149h1M53 149h1M57 149h1M74 149h1M0 150h1M7 150h1M9 150h1M13 150h1M16 150h1M21 150h1M27 150h1M45 150h1M53 150h1M57 150h1M76 150h1M97 150h1M109 150h1M130 150h1" stroke="#482475" stroke-width="1" stroke-opacity="0.75" fill="none"/><path transform="translate(265.5 206.4) scale(1.0007 0.9940) translate(0 0.5)" d="M6 0h1M7 0h1M9 0h1M17 0h1M18 0h1M24 0h1M25 0h1M31 0h1M39 0h1M43 0h1M45 0h1M55 0h1M58 0h1M62 0h1M71 0h1M74 0h1M80 0h1M90 0h1M95 0h1M96 0h1M2 1h1M3 1h1M7 1h1M19 1h1M21 1h1M28 1h1M33 1h1M40 1h1M43 1h1M51 1h1M59 1h1M66 1h1M75 1h1M79 1h1M86 1h1M94 1h1M96 1h1M115 1h1M150 1h1M1 2h1M19 2h1M23 2h1M24 2h1M25 2h1M31 2h1M35 2h1M58 2h1M67 2h1M84 2h1M99 2h1M111 2h1M132 2h1M1 3h1M7 3h1M21 3h1M30 3h1M32 3h1M34 3h1M39 3h1M44 3h1M57 3h1M85 3h1M102 3h1M57 4h1M0 6h1M19 6h1M23 6h1M31 6h1M38 6h1M40 6h1M43 6h1M48 6h1M54 6h1M64 6h1M0 7h1M1 7h1M3 7h1M10 7h1M30 7h1M35 7h1M38 7h1M39 7h1M41 7h1M42 7h1M45 7h1M46 7h1M54 7h1M75 7h1M79 7h1M96 7h1M9 8h1M34 8h1M40 8h1M44 8h1M58 8h1M67 8h1M72 8h1M0 9h1M8 9h1M14 9h1M25 9h1M27 9h1M31 9h1M32 9h1M37 9h1M39 9h1M42 9h1M53 9h1M58 9h1M60 9h1M66 9h1M73 9h1M74 9h1M82 9h1M85 9h1M99 9h1M106 9h1M125 9h1M7 10h1M24 10h1M40 10h1M43 10h1M44 10h1M58 10h1M64 10h1M71 10h1M18 11h1M19 11h1M48 11h1M67 11h1M34 12h1M35 12h1M42 12h1M44 12h1M57 12h1M77 12h1M19 13h1M21 13h1M23 13h1M32 13h1M33 13h1M44 13h1M51 13h1M53 13h1M54 13h1M59 13h1M60 13h1M66 13h1M69 13h1M72 13h1M75 13h1M97 13h1M103 13h1M108 13h1M119 13h1M130 13h1M134 13h1M9 14h1M34 14h1M44 14h1M52 14h1M55 14h1M60 14h1M65 14h1M67 14h1M19 15h1M27 16h1M31 16h1M42 16h1M43 16h1M54 16h1M59 16h1M74 16h1M111 16h1M0 17h1M30 17h1M32 17h1M33 17h1M34 17h1M38 17h1M40 17h1M42 17h1M45 17h1M86 17h1M89 17h1M90 17h1M0 18h1M11 18h1M28 18h1M34 18h1M35 18h1M37 18h1M41 18h1M45 18h1M52 18h1M57 18h1M74 18h1M75 18h1M76 18h1M81 18h1M86 18h1M90 18h1M95 18h1M98 18h1M108 18h1M135 18h1M1 19h1M2 19h1M6 19h1M11 19h1M13 19h1M15 19h1M21 19h1M23 19h1M24 19h1M44 19h1M58 19h1M60 19h1M61 19h1M64 19h1M66 19h1M67 19h1M69 19h1M71 19h1M75 19h1M76 19h1M80 19h1M92 19h1M94 19h1M121 19h1M149 19h1M1 21h1M3 21h1M13 21h1M19 21h1M23 21h1M43 21h1M125 21h1M57 22h1M2 23h1M6 23h1M13 23h1M19 23h1M21 23h1M30 23h1M38 23h1M39 23h1M55 23h1M58 23h1M60 23h1M83 23h1M0 24h1M2 24h1M10 24h1M19 24h1M27 24h1M30 24h1M43 24h1M49 24h1M60 24h1M67 24h1M71 24h1M73 24h1M125 24h1M0 25h1M2 25h1M9 25h1M37 25h1M40 25h1M43 25h1M52 25h1M57 25h1M60 25h1M67 25h1M73 25h1M111 25h1M9 27h1M16 27h1M24 27h1M30 27h1M32 27h1M34 27h1M41 27h1M54 27h1M55 27h1M57 27h1M71 27h1M73 27h1M1 28h1M18 28h1M30 28h1M48 28h1M67 28h1M71 28h1M3 30h1M7 30h1M17 30h1M23 30h1M24 30h1M27 30h1M28 30h1M31 30h1M32 30h1M34 30h1M37 30h1M38 30h1M44 30h1M45 30h1M47 30h1M55 30h1M57 30h1M58 30h1M75 30h1M80 30h1M82 30h1M89 30h1M90 30h1M111 30h1M115 30h1M123 30h1M126 30h1M139 30h1M0 31h1M2 31h1M6 31h1M9 31h1M16 31h1M30 31h1M35 31h1M52 31h1M53 31h1M59 31h1M72 31h1M94 31h1M100 31h1M132 31h1M143 31h1M3 32h1M9 32h1M13 32h1M17 32h1M27 32h1M30 32h1M33 32h1M35 32h1M44 32h1M45 32h1M48 32h1M51 32h1M54 32h1M64 32h1M67 32h1M72 32h1M86 32h1M1 33h1M13 33h1M17 33h1M32 33h1M58 33h1M3 34h1M8 34h1M12 34h1M14 34h1M17 34h1M18 34h1M27 34h1M30 34h1M37 34h1M40 34h1M44 34h1M45 34h1M48 34h1M57 34h1M61 34h1M65 34h1M72 34h1M80 34h1M2 35h1M7 35h1M12 35h1M18 35h1M31 35h1M32 35h1M39 35h1M45 35h1M49 35h1M55 35h1M59 35h1M60 35h1M67 35h1M71 35h1M72 35h1M86 35h1M108 35h1M137 35h1M9 37h1M18 37h1M25 37h1M30 37h1M34 37h1M42 37h1M43 37h1M44 37h1M48 37h1M54 37h1M55 37h1M69 37h1M6 38h1M7 38h1M17 38h1M23 38h1M30 38h1M41 38h1M44 38h1M57 38h1M58 38h1M61 38h1M71 38h1M78 38h1M80 38h1M81 38h1M139 38h1M0 39h1M3 39h1M7 39h1M9 39h1M23 39h1M35 39h1M40 39h1M44 39h1M53 39h1M60 39h1M61 39h1M67 39h1M72 39h1M82 39h1M106 39h1M108 39h1M139 39h1M1 40h1M6 40h1M8 40h1M10 40h1M17 40h1M25 40h1M34 40h1M39 40h1M46 40h1M48 40h1M51 40h1M52 40h1M61 40h1M67 40h1M70 40h1M75 40h1M83 40h1M85 40h1M92 40h1M96 40h1M137 40h1M7 41h1M18 41h1M27 41h1M38 41h1M45 41h1M49 41h1M52 41h1M57 41h1M64 41h1M65 41h1M66 41h1M71 41h1M72 41h1M74 41h1M94 41h1M95 41h1M99 41h1M109 41h1M125 41h1M144 41h1M7 42h1M9 42h1M12 42h1M16 42h1M17 42h1M37 42h1M55 42h1M0 43h1M1 43h1M6 43h1M10 43h1M16 43h1M21 43h1M24 43h1M25 43h1M37 43h1M48 43h1M52 43h1M57 43h1M58 43h1M66 43h1M72 43h1M74 43h1M79 43h1M84 43h1M137 43h1M143 43h1M3 44h1M8 44h1M10 44h1M12 44h1M13 44h1M14 44h1M19 44h1M30 44h1M32 44h1M34 44h1M37 44h1M38 44h1M39 44h1M47 44h1M58 44h1M60 44h1M61 44h1M70 44h1M78 44h1M80 44h1M82 44h1M83 44h1M85 44h1M99 44h1M123 44h1M137 44h1M144 44h1M0 45h1M7 45h1M17 45h1M18 45h1M30 45h1M32 45h1M34 45h1M35 45h1M41 45h1M48 45h1M55 45h1M64 45h1M7 46h1M40 46h1M67 46h1M73 46h1M30 47h1M44 47h1M58 47h1M64 47h1M71 47h1M6 48h1M11 48h1M28 48h1M32 48h1M34 48h1M37 48h1M40 48h1M43 48h1M45 48h1M52 48h1M55 48h1M58 48h1M72 48h1M76 48h1M82 48h1M83 48h1M111 48h1M138 48h1M24 49h1M35 49h1M41 49h1M52 49h1M1 51h1M13 51h1M32 51h1M40 51h1M57 51h1M14 52h1M18 52h1M25 52h1M31 52h1M40 52h1M41 52h1M43 52h1M48 52h1M49 52h1M54 52h1M72 52h1M115 52h1M125 52h1M9 53h1M13 53h1M31 53h1M39 53h1M55 53h1M57 53h1M71 53h1M83 53h1M6 54h1M7 54h1M13 54h1M16 54h1M27 54h1M32 54h1M37 54h1M52 54h1M60 54h1M61 54h1M66 54h1M67 54h1M69 54h1M72 54h1M73 54h1M74 54h1M77 54h1M86 54h1M90 54h1M137 54h1M0 55h1M14 55h1M23 55h1M27 55h1M30 55h1M35 55h1M37 55h1M42 55h1M45 55h1M48 55h1M53 55h1M58 55h1M67 55h1M72 55h1M74 55h1M3 57h1M4 57h1M12 57h1M18 57h1M22 57h1M25 57h1M27 57h1M30 57h1M34 57h1M38 57h1M41 57h1M43 57h1M51 57h1M53 57h1M59 57h1M65 57h1M79 57h1M80 57h1M86 57h1M102 57h1M0 58h1M2 58h1M8 58h1M9 58h1M10 58h1M19 58h1M23 58h1M30 58h1M33 58h1M38 58h1M43 58h1M44 58h1M47 58h1M48 58h1M55 58h1M59 58h1M72 58h1M73 58h1M77 58h1M111 58h1M1 59h1M13 59h1M16 59h1M31 59h1M35 59h1M57 59h1M58 59h1M64 59h1M80 59h1M92 59h1M115 59h1M9 60h1M13 60h1M14 60h1M19 60h1M23 60h1M24 60h1M25 60h1M35 60h1M39 60h1M44 60h1M54 60h1M65 60h1M74 60h1M126 60h1M19 61h1M34 61h1M38 61h1M39 61h1M40 61h1M44 61h1M54 61h1M67 61h1M69 61h1M0 62h1M6 64h1M10 64h1M19 64h1M32 64h1M41 64h1M45 64h1M47 64h1M59 64h1M69 64h1M70 64h1M72 64h1M74 64h1M84 64h1M14 65h1M34 65h1M41 65h1M57 65h1M60 65h1M77 65h1M1 66h1M9 66h1M13 66h1M19 66h1M41 66h1M43 66h1M54 66h1M67 66h1M2 67h1M8 67h1M11 67h1M14 67h1M19 67h1M24 67h1M25 67h1M28 67h1M32 67h1M35 67h1M39 67h1M40 67h1M46 67h1M54 67h1M55 67h1M61 67h1M66 67h1M71 67h1M75 67h1M77 67h1M78 67h1M81 67h1M92 67h1M97 67h1M143 67h1M13 69h1M19 69h1M37 69h1M54 69h1M61 69h1M64 69h1M40 70h1M44 70h1M64 70h1M0 71h1M10 71h1M19 71h1M24 71h1M27 71h1M28 71h1M35 71h1M38 71h1M41 71h1M47 71h1M53 71h1M67 71h1M96 71h1M8 72h1M13 72h1M31 72h1M32 72h1M34 72h1M35 72h1M39 72h1M41 72h1M43 72h1M48 72h1M52 72h1M54 72h1M55 72h1M58 72h1M64 72h1M9 73h1M24 73h1M25 73h1M27 73h1M46 73h1M54 73h1M58 73h1M0 74h1M9 74h1M16 74h1M18 74h1M41 74h1M43 74h1M54 74h1M55 74h1M60 74h1M64 74h1M1 75h1M7 75h1M13 75h1M18 75h1M19 75h1M30 75h1M40 75h1M67 75h1M82 75h1M18 76h1M19 76h1M48 76h1M12 77h1M54 77h1M58 77h1M65 77h1M67 77h1M38 78h1M44 78h1M67 78h1M1 79h1M7 79h1M43 79h1M57 79h1M0 80h1M19 80h1M30 80h1M34 80h1M38 80h1M44 80h1M57 80h1M59 80h1M82 80h1M18 81h1M38 81h1M67 81h1M9 82h1M30 82h1M39 82h1M44 82h1M48 82h1M75 82h1M80 82h1M23 83h1M40 83h1M44 83h1M48 83h1M53 83h1M2 84h1M43 84h1M64 84h1M3 85h1M9 85h1M40 85h1M44 85h1M1 86h1M17 86h1M18 86h1M32 86h1M35 86h1M54 86h1M57 86h1M17 89h1M30 89h1M0 90h1M17 90h1M18 90h1M30 90h1M54 90h1M19 92h1M40 92h1M59 92h1M67 92h1M1 94h1M19 94h1M31 94h1M41 94h1M0 95h1M18 95h1M41 95h1M0 96h1M1 96h1M7 96h1M40 96h1M71 96h1M13 97h1M67 97h1M18 98h1M2 99h1M9 99h1M41 99h1M44 99h1M31 100h1M3 102h1M57 102h1M13 103h1M9 106h1M39 106h1M13 108h1M18 108h1M35 108h1M39 108h1M41 109h1M2 111h1M16 111h1M25 111h1M30 111h1M48 111h1M58 111h1M1 115h1M30 115h1M52 115h1M59 115h1M13 119h1M19 121h1M30 123h1M44 123h1M9 125h1M21 125h1M24 125h1M41 125h1M52 125h1M30 126h1M60 126h1M13 130h1M2 132h1M31 132h1M13 134h1M18 135h1M35 137h1M40 137h1M43 137h1M44 137h1M54 137h1M48 138h1M30 139h1M38 139h1M39 139h1M31 143h1M43 143h1M67 143h1M41 144h1M44 144h1M19 149h1M1 150h1" stroke="#453781" stroke-width="1" stroke-opacity="0.9" fill="none"/><path transform="translate(265.5 206.4) scale(1.0007 0.9940) translate(0 0.5)" d="M41 0h1M52 0h1M59 0h1M72 0h1M17 1h1M24 1h1M25 1h1M27 1h1M42 1h1M44 1h1M54 1h1M71 1h1M73 1h1M80 1h1M107 1h1M14 2h1M30 2h1M32 2h1M34 2h1M49 2h1M54 2h1M66 2h1M73 2h1M40 3h1M74 3h1M18 7h1M34 7h1M43 8h1M48 9h1M54 9h1M19 10h1M27 13h1M34 13h1M52 13h1M65 13h1M71 13h1M84 13h1M2 14h1M41 16h1M69 16h1M1 17h1M18 17h1M19 17h1M31 17h1M59 17h1M7 18h1M17 18h1M21 18h1M25 18h1M39 18h1M42 18h1M53 18h1M64 18h1M70 18h1M72 18h1M10 19h1M17 19h1M27 19h1M30 19h1M35 19h1M39 19h1M40 19h1M41 19h1M82 19h1M107 19h1M18 21h1M25 23h1M32 23h1M52 23h1M1 24h1M39 24h1M44 24h1M58 24h1M61 24h1M85 24h1M1 25h1M18 25h1M23 25h1M41 25h1M1 27h1M13 27h1M19 27h1M45 27h1M58 27h1M2 30h1M19 30h1M42 30h1M17 31h1M41 31h1M45 31h1M2 32h1M23 32h1M34 32h1M2 34h1M7 34h1M13 34h1M32 34h1M46 34h1M51 34h1M69 34h1M71 34h1M19 35h1M43 35h1M66 35h1M90 35h1M64 37h1M46 38h1M18 39h1M19 39h1M24 39h1M57 39h1M3 40h1M19 40h1M78 40h1M0 41h1M16 41h1M19 41h1M25 41h1M31 41h1M43 41h1M85 41h1M1 42h1M18 42h1M30 42h1M8 43h1M35 43h1M41 43h1M45 43h1M1 44h1M24 44h1M59 44h1M69 44h1M27 45h1M31 45h1M43 45h1M34 46h1M38 46h1M48 46h1M9 48h1M46 48h1M2 49h1M34 51h1M0 52h1M13 52h1M23 52h1M58 52h1M67 52h1M108 52h1M18 53h1M60 53h1M1 54h1M2 54h1M9 54h1M64 54h1M39 57h1M58 57h1M70 57h1M73 57h1M24 58h1M27 58h1M52 58h1M57 58h1M60 58h1M64 58h1M0 59h1M17 59h1M44 59h1M53 60h1M58 60h1M24 61h1M18 64h1M37 64h1M54 64h1M58 64h1M13 65h1M2 66h1M35 66h1M52 67h1M16 69h1M34 69h1M44 69h1M18 70h1M57 70h1M1 71h1M13 71h1M34 71h1M0 72h1M18 72h1M1 73h1M2 73h1M57 73h1M3 74h1M40 78h1M1 80h1M19 82h1M13 84h1M24 85h1M41 85h1M35 90h1M1 107h1M19 107h1M52 108h1" stroke="#3b528b" stroke-width="1" stroke-opacity="0.95" fill="none"/><path transform="translate(265.5 206.4) scale(1.0007 0.9940) translate(0 0.5)" d="M2 0h1M13 0h1M57 1h1M0 2h1M55 2h1M9 6h1M27 7h1M44 7h1M60 7h1M6 9h1M59 9h1M71 9h1M100 9h1M0 13h1M17 13h1M24 13h1M73 13h1M23 16h1M39 16h1M73 16h1M13 17h1M35 17h1M54 17h1M55 17h1M73 17h1M31 18h1M67 18h1M71 18h1M45 19h1M54 19h1M16 23h1M13 24h1M34 24h1M37 24h1M7 27h1M41 30h1M65 30h1M18 31h1M58 31h1M61 31h1M52 32h1M24 34h1M39 34h1M43 34h1M17 35h1M57 35h1M73 35h1M24 37h1M16 39h1M34 39h1M55 40h1M59 40h1M30 41h1M48 41h1M60 41h1M67 41h1M34 43h1M47 43h1M67 43h1M7 44h1M48 44h1M19 45h1M67 45h1M43 47h1M41 48h1M44 48h1M32 52h1M64 52h1M17 54h1M19 54h1M59 54h1M2 55h1M17 55h1M40 55h1M1 57h1M35 57h1M31 58h1M9 59h1M40 59h1M54 59h1M7 60h1M41 60h1M67 60h1M31 61h1M52 64h1M30 65h1M18 67h1M41 67h1M43 67h1M45 67h1M60 67h1M9 71h1M18 71h1M13 73h1M16 73h1M17 73h1M35 73h1M9 100h1" stroke="#2c728e" stroke-width="1" stroke-opacity="1" fill="none"/><path transform="translate(265.5 206.4) scale(1.0007 0.9940) translate(0 0.5)" d="M44 0h1M53 1h1M42 2h1M52 2h1M52 3h1M23 9h1M40 9h1M38 13h1M41 13h1M48 13h1M30 16h1M83 16h1M27 17h1M72 19h1M9 23h1M17 27h1M60 27h1M16 30h1M13 38h1M48 38h1M9 40h1M13 41h1M42 41h1M2 42h1M41 42h1M0 44h1M58 45h1M13 48h1M38 48h1M2 52h1M3 52h1M1 53h1M45 58h1M27 60h1M19 72h1M16 83h1" stroke="#21918c" stroke-width="1" stroke-opacity="1" fill="none"/><path transform="translate(265.5 206.4) scale(1.0007 0.9940) translate(0 0.5)" d="M23 7h1M7 23h1M43 27h1M27 43h1M69 48h1M57 55h1M55 57h1M48 69h1" stroke="#35b779" stroke-width="1" stroke-opacity="1" fill="none"/><path transform="translate(265.5 206.4) scale(1.0007 0.9940) translate(0 0.5)" d="M41 24h1M54 31h1M24 41h1M31 54h1" stroke="#8fd744" stroke-width="1" stroke-opacity="1" fill="none"/><path transform="translate(265.5 206.4) scale(1.0007 0.9940) translate(0 0.5)" d="M54 0h1M60 0h1M55 1h1M60 1h1M69 1h1M3 2h1M43 2h1M44 2h1M64 2h1M2 3h1M18 3h1M58 3h1M13 7h1M57 7h1M38 8h1M34 11h1M41 12h1M7 13h1M31 13h1M35 13h1M57 13h1M64 13h1M44 16h1M52 16h1M98 16h1M44 17h1M52 17h1M64 17h1M3 18h1M23 18h1M58 18h1M48 19h1M55 19h1M18 23h1M31 27h1M13 31h1M27 31h1M57 31h1M64 31h1M11 34h1M41 34h1M53 34h1M55 34h1M59 34h1M13 35h1M41 35h1M52 35h1M8 38h1M74 39h1M77 39h1M57 40h1M65 40h1M12 41h1M34 41h1M35 41h1M59 41h1M58 42h1M2 43h1M59 43h1M2 44h1M16 44h1M17 44h1M52 44h1M57 44h1M60 46h1M19 48h1M16 52h1M17 52h1M35 52h1M44 52h1M34 53h1M0 54h1M1 55h1M19 55h1M34 55h1M7 57h1M13 57h1M31 57h1M40 57h1M44 57h1M3 58h1M18 58h1M42 58h1M67 58h1M34 59h1M41 59h1M43 59h1M0 60h1M1 60h1M46 60h1M2 64h1M13 64h1M17 64h1M31 64h1M40 65h1M58 67h1M1 69h1M39 74h1M39 77h1M16 98h1" stroke="#b8804f" stroke-width="1" stroke-opacity="0.8" fill="none"/></g><linearGradient id="dg2" gradientUnits="userSpaceOnUse" x1="265.5" y1="206.4" x2="416.6" y2="356.5"><stop offset="0" stop-color="#b89050" stop-opacity="0.75"/><stop offset="0.42" stop-color="#b08a55" stop-opacity="0.7"/><stop offset="0.5" stop-color="#8a7a70" stop-opacity="0.45"/><stop offset="0.6" stop-color="#6a6a90" stop-opacity="0.4"/><stop offset="1" stop-color="#5f5f8c" stop-opacity="0.35"/></linearGradient><line x1="265.5" y1="206.4" x2="416.6" y2="356.5" stroke="url(#dg2)" stroke-width="0.8"/><rect x="265.5" y="206.4" width="151.1" height="150.1" fill="none" stroke="#000" stroke-width="0.4"/><rect x="427.1" y="206.4" width="7.6" height="150.1" fill="url(#vir)" stroke="#000" stroke-width="0.45"/><path d="M265.59 356.5v1.9M302.4 356.5v1.9M339.21 356.5v1.9M376.02 356.5v1.9M412.83 356.5v1.9M265.5 206.49h-1.9M265.5 224.77h-1.9M265.5 243.06h-1.9M265.5 261.34h-1.9M265.5 279.62h-1.9M265.5 297.9h-1.9M265.5 316.19h-1.9M265.5 334.47h-1.9M265.5 352.75h-1.9M434.7 356.5h1.9M434.7 326.48h1.9M434.7 296.46h1.9M434.7 266.44h1.9M434.7 236.42h1.9M434.7 206.4h1.9" stroke="#000" stroke-width="0.45" fill="none"/></g>
<g><rect x="502.5" y="206.4" width="151.1" height="150.1" fill="#440154"/><g filter="url(#bl)"><path transform="translate(502.5 206.4) scale(1.0007 0.9940) translate(0 0.5)" d="M1 0h1M14 0h1M19 0h1M29 0h1M36 0h1M37 0h1M43 0h1M44 0h1M48 0h1M54 0h1M56 0h1M57 0h1M63 0h1M68 0h1M71 0h1M72 0h1M84 0h1M85 0h1M86 0h1M87 0h1M95 0h1M96 0h1M102 0h1M106 0h1M111 0h1M113 0h1M117 0h1M122 0h1M125 0h1M126 0h1M138 0h1M146 0h1M0 1h1M2 1h1M3 1h1M4 1h1M12 1h1M14 1h1M17 1h1M27 1h1M34 1h1M36 1h1M38 1h1M43 1h1M46 1h1M48 1h1M55 1h1M60 1h1M61 1h1M63 1h1M64 1h1M69 1h1M73 1h1M76 1h1M85 1h1M87 1h1M100 1h1M104 1h1M107 1h1M123 1h1M146 1h1M1 2h1M8 2h1M14 2h1M16 2h1M21 2h1M24 2h1M25 2h1M28 2h1M30 2h1M31 2h1M39 2h1M41 2h1M47 2h1M51 2h1M54 2h1M65 2h1M69 2h1M72 2h1M76 2h1M78 2h1M79 2h1M80 2h1M86 2h1M99 2h1M110 2h1M112 2h1M113 2h1M116 2h1M117 2h1M121 2h1M129 2h1M135 2h1M1 3h1M12 3h1M13 3h1M15 3h1M25 3h1M26 3h1M27 3h1M28 3h1M39 3h1M42 3h1M43 3h1M44 3h1M55 3h1M60 3h1M65 3h1M69 3h1M72 3h1M73 3h1M75 3h1M76 3h1M85 3h1M87 3h1M99 3h1M102 3h1M104 3h1M105 3h1M115 3h1M116 3h1M131 3h1M146 3h1M1 4h1M10 4h1M13 4h1M15 4h1M17 4h1M21 4h1M23 4h1M24 4h1M28 4h1M31 4h1M32 4h1M33 4h1M39 4h1M41 4h1M51 4h1M52 4h1M53 4h1M54 4h1M64 4h1M70 4h1M71 4h1M72 4h1M74 4h1M76 4h1M78 4h1M83 4h1M86 4h1M87 4h1M102 4h1M104 4h1M105 4h1M106 4h1M107 4h1M108 4h1M109 4h1M115 4h1M116 4h1M117 4h1M123 4h1M124 4h1M128 4h1M129 4h1M130 4h1M136 4h1M146 4h1M7 5h1M14 5h1M21 5h1M28 5h1M30 5h1M38 5h1M40 5h1M54 5h1M55 5h1M60 5h1M70 5h1M76 5h1M77 5h1M84 5h1M85 5h1M88 5h1M94 5h1M95 5h1M101 5h1M105 5h1M106 5h1M107 5h1M109 5h1M111 5h1M114 5h1M115 5h1M120 5h1M123 5h1M125 5h1M128 5h1M136 5h1M139 5h1M8 6h1M10 6h1M13 6h1M14 6h1M17 6h1M23 6h1M24 6h1M26 6h1M33 6h1M37 6h1M44 6h1M50 6h1M53 6h1M54 6h1M55 6h1M60 6h1M61 6h1M64 6h1M66 6h1M70 6h1M72 6h1M78 6h1M83 6h1M85 6h1M88 6h1M94 6h1M96 6h1M101 6h1M102 6h1M104 6h1M105 6h1M111 6h1M115 6h1M117 6h1M5 7h1M10 7h1M14 7h1M17 7h1M19 7h1M27 7h1M36 7h1M39 7h1M41 7h1M51 7h1M52 7h1M54 7h1M64 7h1M68 7h1M79 7h1M87 7h1M90 7h1M94 7h1M100 7h1M105 7h1M106 7h1M108 7h1M109 7h1M124 7h1M127 7h1M2 8h1M6 8h1M13 8h1M14 8h1M22 8h1M23 8h1M45 8h1M47 8h1M49 8h1M59 8h1M63 8h1M65 8h1M66 8h1M70 8h1M74 8h1M76 8h1M77 8h1M94 8h1M103 8h1M104 8h1M109 8h1M112 8h1M117 8h1M118 8h1M126 8h1M15 9h1M18 9h1M40 9h1M41 9h1M45 9h1M46 9h1M53 9h1M4 10h1M6 10h1M7 10h1M12 10h1M19 10h1M29 10h1M32 10h1M35 10h1M37 10h1M41 10h1M71 10h1M28 11h1M37 11h1M57 11h1M60 11h1M87 11h1M130 11h1M1 12h1M3 12h1M10 12h1M13 12h1M17 12h1M18 12h1M23 12h1M24 12h1M25 12h1M27 12h1M28 12h1M30 12h1M31 12h1M35 12h1M39 12h1M43 12h1M44 12h1M45 12h1M60 12h1M62 12h1M65 12h1M71 12h1M74 12h1M77 12h1M86 12h1M94 12h1M96 12h1M102 12h1M103 12h1M107 12h1M108 12h1M112 12h1M115 12h1M119 12h1M124 12h1M130 12h1M3 13h1M4 13h1M6 13h1M8 13h1M12 13h1M26 13h1M35 13h1M40 13h1M42 13h1M54 13h1M70 13h1M88 13h1M0 14h1M1 14h1M2 14h1M5 14h1M6 14h1M7 14h1M8 14h1M22 14h1M26 14h1M27 14h1M29 14h1M34 14h1M39 14h1M40 14h1M42 14h1M43 14h1M44 14h1M47 14h1M51 14h1M53 14h1M70 14h1M73 14h1M77 14h1M80 14h1M83 14h1M84 14h1M104 14h1M109 14h1M110 14h1M113 14h1M114 14h1M3 15h1M4 15h1M9 15h1M17 15h1M22 15h1M23 15h1M24 15h1M34 15h1M36 15h1M40 15h1M41 15h1M43 15h1M55 15h1M56 15h1M65 15h1M66 15h1M68 15h1M73 15h1M84 15h1M85 15h1M86 15h1M88 15h1M103 15h1M104 15h1M2 16h1M32 16h1M35 16h1M37 16h1M43 16h1M50 16h1M84 16h1M94 16h1M105 16h1M113 16h1M125 16h1M127 16h1M1 17h1M4 17h1M6 17h1M7 17h1M12 17h1M15 17h1M27 17h1M29 17h1M35 17h1M36 17h1M42 17h1M48 17h1M64 17h1M66 17h1M69 17h1M70 17h1M73 17h1M76 17h1M78 17h1M84 17h1M111 17h1M113 17h1M118 17h1M123 17h1M130 17h1M9 18h1M12 18h1M21 18h1M24 18h1M30 18h1M32 18h1M35 18h1M39 18h1M43 18h1M44 18h1M46 18h1M52 18h1M55 18h1M58 18h1M59 18h1M60 18h1M71 18h1M74 18h1M75 18h1M76 18h1M78 18h1M80 18h1M83 18h1M85 18h1M87 18h1M88 18h1M100 18h1M103 18h1M104 18h1M107 18h1M111 18h1M114 18h1M115 18h1M116 18h1M118 18h1M120 18h1M125 18h1M134 18h1M141 18h1M0 19h1M7 19h1M10 19h1M20 19h1M22 19h1M23 19h1M40 19h1M47 19h1M48 19h1M50 19h1M60 19h1M77 19h1M96 19h1M19 20h1M21 20h1M27 20h1M28 20h1M31 20h1M42 20h1M44 20h1M50 20h1M51 20h1M55 20h1M57 20h1M59 20h1M60 20h1M61 20h1M71 20h1M72 20h1M73 20h1M74 20h1M78 20h1M80 20h1M82 20h1M86 20h1M94 20h1M95 20h1M96 20h1M104 20h1M108 20h1M109 20h1M113 20h1M115 20h1M116 20h1M117 20h1M123 20h1M134 20h1M146 20h1M2 21h1M4 21h1M5 21h1M18 21h1M20 21h1M22 21h1M23 21h1M32 21h1M40 21h1M44 21h1M50 21h1M51 21h1M57 21h1M66 21h1M104 21h1M123 21h1M8 22h1M14 22h1M15 22h1M19 22h1M21 22h1M23 22h1M31 22h1M32 22h1M33 22h1M34 22h1M37 22h1M42 22h1M51 22h1M59 22h1M60 22h1M65 22h1M77 22h1M79 22h1M88 22h1M95 22h1M106 22h1M107 22h1M112 22h1M129 22h1M130 22h1M146 22h1M4 23h1M6 23h1M8 23h1M12 23h1M15 23h1M19 23h1M21 23h1M22 23h1M25 23h1M29 23h1M33 23h1M34 23h1M37 23h1M39 23h1M51 23h1M55 23h1M61 23h1M62 23h1M64 23h1M68 23h1M83 23h1M86 23h1M100 23h1M105 23h1M146 23h1M2 24h1M4 24h1M6 24h1M12 24h1M15 24h1M18 24h1M25 24h1M26 24h1M29 24h1M33 24h1M34 24h1M36 24h1M43 24h1M46 24h1M48 24h1M50 24h1M66 24h1M76 24h1M78 24h1M114 24h1M2 25h1M3 25h1M12 25h1M23 25h1M24 25h1M28 25h1M32 25h1M35 25h1M40 25h1M42 25h1M49 25h1M60 25h1M69 25h1M86 25h1M3 26h1M6 26h1M13 26h1M14 26h1M24 26h1M29 26h1M30 26h1M33 26h1M49 26h1M51 26h1M55 26h1M57 26h1M59 26h1M60 26h1M61 26h1M64 26h1M65 26h1M84 26h1M96 26h1M104 26h1M105 26h1M113 26h1M116 26h1M123 26h1M129 26h1M136 26h1M139 26h1M147 26h1M1 27h1M3 27h1M7 27h1M12 27h1M14 27h1M17 27h1M20 27h1M34 27h1M41 27h1M42 27h1M46 27h1M49 27h1M51 27h1M57 27h1M59 27h1M65 27h1M71 27h1M78 27h1M88 27h1M94 27h1M104 27h1M107 27h1M113 27h1M2 28h1M3 28h1M4 28h1M5 28h1M11 28h1M12 28h1M20 28h1M25 28h1M34 28h1M40 28h1M41 28h1M42 28h1M43 28h1M45 28h1M46 28h1M47 28h1M50 28h1M57 28h1M60 28h1M62 28h1M66 28h1M70 28h1M99 28h1M101 28h1M112 28h1M129 28h1M0 29h1M10 29h1M14 29h1M17 29h1M23 29h1M24 29h1M26 29h1M30 29h1M35 29h1M38 29h1M40 29h1M41 29h1M47 29h1M48 29h1M49 29h1M54 29h1M57 29h1M60 29h1M62 29h1M64 29h1M72 29h1M73 29h1M77 29h1M78 29h1M79 29h1M80 29h1M81 29h1M87 29h1M98 29h1M101 29h1M106 29h1M108 29h1M109 29h1M111 29h1M113 29h1M115 29h1M120 29h1M123 29h1M125 29h1M128 29h1M139 29h1M2 30h1M5 30h1M12 30h1M18 30h1M26 30h1M29 30h1M31 30h1M34 30h1M40 30h1M45 30h1M50 30h1M57 30h1M60 30h1M64 30h1M68 30h1M71 30h1M76 30h1M80 30h1M86 30h1M103 30h1M2 31h1M4 31h1M12 31h1M20 31h1M22 31h1M30 31h1M33 31h1M40 31h1M46 31h1M73 31h1M77 31h1M84 31h1M94 31h1M96 31h1M128 31h1M135 31h1M4 32h1M10 32h1M16 32h1M18 32h1M21 32h1M22 32h1M25 32h1M39 32h1M47 32h1M50 32h1M55 32h1M59 32h1M71 32h1M72 32h1M75 32h1M76 32h1M78 32h1M86 32h1M87 32h1M95 32h1M96 32h1M102 32h1M104 32h1M106 32h1M111 32h1M112 32h1M113 32h1M125 32h1M4 33h1M6 33h1M22 33h1M23 33h1M24 33h1M26 33h1M31 33h1M35 33h1M36 33h1M39 33h1M41 33h1M43 33h1M44 33h1M53 33h1M57 33h1M64 33h1M76 33h1M77 33h1M78 33h1M79 33h1M88 33h1M102 33h1M105 33h1M115 33h1M123 33h1M132 33h1M146 33h1M1 34h1M14 34h1M15 34h1M22 34h1M23 34h1M24 34h1M27 34h1M28 34h1M30 34h1M36 34h1M37 34h1M46 34h1M60 34h1M61 34h1M64 34h1M66 34h1M68 34h1M71 34h1M78 34h1M80 34h1M83 34h1M87 34h1M109 34h1M117 34h1M120 34h1M121 34h1M124 34h1M10 35h1M12 35h1M13 35h1M16 35h1M17 35h1M18 35h1M25 35h1M29 35h1M33 35h1M41 35h1M44 35h1M46 35h1M47 35h1M49 35h1M51 35h1M55 35h1M60 35h1M65 35h1M69 35h1M71 35h1M72 35h1M75 35h1M83 35h1M84 35h1M86 35h1M88 35h1M95 35h1M104 35h1M123 35h1M128 35h1M129 35h1M138 35h1M145 35h1M0 36h1M1 36h1M7 36h1M15 36h1M17 36h1M24 36h1M33 36h1M34 36h1M41 36h1M42 36h1M44 36h1M45 36h1M49 36h1M53 36h1M55 36h1M61 36h1M64 36h1M65 36h1M66 36h1M68 36h1M69 36h1M70 36h1M71 36h1M76 36h1M78 36h1M79 36h1M83 36h1M86 36h1M94 36h1M101 36h1M103 36h1M107 36h1M112 36h1M123 36h1M124 36h1M129 36h1M140 36h1M143 36h1M144 36h1M0 37h1M6 37h1M10 37h1M11 37h1M16 37h1M22 37h1M23 37h1M34 37h1M41 37h1M42 37h1M45 37h1M48 37h1M49 37h1M51 37h1M53 37h1M54 37h1M55 37h1M59 37h1M60 37h1M70 37h1M76 37h1M78 37h1M95 37h1M97 37h1M98 37h1M111 37h1M113 37h1M114 37h1M115 37h1M116 37h1M117 37h1M123 37h1M1 38h1M5 38h1M29 38h1M57 38h1M87 38h1M98 38h1M108 38h1M2 39h1M3 39h1M4 39h1M7 39h1M12 39h1M14 39h1M18 39h1M23 39h1M32 39h1M33 39h1M61 39h1M66 39h1M80 39h1M107 39h1M5 40h1M9 40h1M13 40h1M14 40h1M15 40h1M19 40h1M21 40h1M25 40h1M28 40h1M29 40h1M30 40h1M31 40h1M42 40h1M59 40h1M63 40h1M72 40h1M73 40h1M87 40h1M105 40h1M106 40h1M107 40h1M108 40h1M113 40h1M117 40h1M120 40h1M121 40h1M122 40h1M130 40h1M141 40h1M2 41h1M4 41h1M7 41h1M9 41h1M10 41h1M15 41h1M27 41h1M28 41h1M29 41h1M33 41h1M35 41h1M36 41h1M37 41h1M43 41h1M46 41h1M48 41h1M53 41h1M54 41h1M55 41h1M57 41h1M59 41h1M61 41h1M63 41h1M72 41h1M76 41h1M81 41h1M83 41h1M92 41h1M95 41h1M97 41h1M101 41h1M102 41h1M105 41h1M106 41h1M111 41h1M116 41h1M117 41h1M118 41h1M120 41h1M121 41h1M122 41h1M123 41h1M127 41h1M128 41h1M131 41h1M140 41h1M143 41h1M3 42h1M13 42h1M14 42h1M17 42h1M20 42h1M22 42h1M25 42h1M27 42h1M28 42h1M36 42h1M37 42h1M40 42h1M43 42h1M44 42h1M50 42h1M51 42h1M55 42h1M61 42h1M66 42h1M71 42h1M78 42h1M82 42h1M83 42h1M84 42h1M87 42h1M88 42h1M92 42h1M94 42h1M104 42h1M106 42h1M108 42h1M118 42h1M128 42h1M134 42h1M145 42h1M0 43h1M1 43h1M3 43h1M12 43h1M14 43h1M15 43h1M16 43h1M18 43h1M24 43h1M28 43h1M33 43h1M41 43h1M42 43h1M49 43h1M54 43h1M55 43h1M60 43h1M61 43h1M65 43h1M66 43h1M69 43h1M71 43h1M73 43h1M76 43h1M79 43h1M80 43h1M81 43h1M82 43h1M83 43h1M86 43h1M87 43h1M88 43h1M94 43h1M96 43h1M104 43h1M108 43h1M112 43h1M113 43h1M118 43h1M126 43h1M130 43h1M0 44h1M3 44h1M6 44h1M12 44h1M14 44h1M18 44h1M20 44h1M21 44h1M33 44h1M35 44h1M36 44h1M42 44h1M45 44h1M48 44h1M53 44h1M57 44h1M84 44h1M100 44h1M116 44h1M141 44h1M8 45h1M9 45h1M12 45h1M28 45h1M30 45h1M36 45h1M37 45h1M44 45h1M48 45h1M57 45h1M60 45h1M63 45h1M64 45h1M65 45h1M68 45h1M69 45h1M72 45h1M77 45h1M79 45h1M80 45h1M88 45h1M94 45h1M104 45h1M107 45h1M113 45h1M123 45h1M1 46h1M9 46h1M18 46h1M24 46h1M27 46h1M28 46h1M31 46h1M34 46h1M35 46h1M41 46h1M48 46h1M49 46h1M50 46h1M65 46h1M68 46h1M71 46h1M74 46h1M78 46h1M80 46h1M86 46h1M87 46h1M94 46h1M102 46h1M107 46h1M108 46h1M109 46h1M112 46h1M121 46h1M122 46h1M131 46h1M2 47h1M8 47h1M14 47h1M19 47h1M28 47h1M29 47h1M32 47h1M35 47h1M48 47h1M69 47h1M77 47h1M107 47h1M116 47h1M118 47h1M0 48h1M1 48h1M17 48h1M19 48h1M24 48h1M29 48h1M37 48h1M41 48h1M44 48h1M45 48h1M46 48h1M47 48h1M49 48h1M53 48h1M54 48h1M60 48h1M69 48h1M73 48h1M74 48h1M75 48h1M77 48h1M84 48h1M87 48h1M88 48h1M94 48h1M102 48h1M107 48h1M109 48h1M118 48h1M8 49h1M25 49h1M26 49h1M27 49h1M29 49h1M35 49h1M36 49h1M37 49h1M43 49h1M46 49h1M48 49h1M53 49h1M63 49h1M66 49h1M68 49h1M70 49h1M73 49h1M76 49h1M80 49h1M81 49h1M84 49h1M86 49h1M88 49h1M109 49h1M112 49h1M116 49h1M145 49h1M6 50h1M16 50h1M19 50h1M20 50h1M21 50h1M24 50h1M28 50h1M30 50h1M32 50h1M42 50h1M46 50h1M52 50h1M59 50h1M60 50h1M71 50h1M72 50h1M73 50h1M75 50h1M76 50h1M79 50h1M80 50h1M81 50h1M86 50h1M87 50h1M88 50h1M104 50h1M107 50h1M108 50h1M112 50h1M116 50h1M128 50h1M130 50h1M131 50h1M140 50h1M145 50h1M2 51h1M4 51h1M7 51h1M14 51h1M20 51h1M21 51h1M22 51h1M23 51h1M26 51h1M27 51h1M35 51h1M37 51h1M42 51h1M55 51h1M60 51h1M61 51h1M65 51h1M66 51h1M74 51h1M76 51h1M80 51h1M86 51h1M87 51h1M112 51h1M114 51h1M123 51h1M124 51h1M128 51h1M131 51h1M4 52h1M7 52h1M18 52h1M50 52h1M88 52h1M94 52h1M95 52h1M4 53h1M6 53h1M9 53h1M14 53h1M33 53h1M36 53h1M37 53h1M41 53h1M44 53h1M48 53h1M49 53h1M54 53h1M57 53h1M59 53h1M61 53h1M62 53h1M70 53h1M71 53h1M74 53h1M79 53h1M84 53h1M94 53h1M95 53h1M101 53h1M104 53h1M106 53h1M109 53h1M117 53h1M129 53h1M130 53h1M144 53h1M0 54h1M2 54h1M4 54h1M5 54h1M6 54h1M7 54h1M13 54h1M29 54h1M37 54h1M41 54h1M43 54h1M48 54h1M53 54h1M64 54h1M66 54h1M72 54h1M73 54h1M77 54h1M86 54h1M94 54h1M109 54h1M118 54h1M1 55h1M3 55h1M5 55h1M6 55h1M15 55h1M18 55h1M20 55h1M23 55h1M26 55h1M32 55h1M35 55h1M36 55h1M37 55h1M41 55h1M42 55h1M43 55h1M51 55h1M57 55h1M59 55h1M66 55h1M75 55h1M78 55h1M84 55h1M86 55h1M94 55h1M0 56h1M15 56h1M66 56h1M0 57h1M11 57h1M20 57h1M21 57h1M26 57h1M27 57h1M28 57h1M29 57h1M30 57h1M33 57h1M38 57h1M41 57h1M44 57h1M45 57h1M53 57h1M55 57h1M59 57h1M63 57h1M64 57h1M65 57h1M68 57h1M71 57h1M73 57h1M76 57h1M77 57h1M78 57h1M80 57h1M82 57h1M95 57h1M96 57h1M102 57h1M105 57h1M107 57h1M115 57h1M120 57h1M121 57h1M144 57h1M18 58h1M8 59h1M18 59h1M20 59h1M22 59h1M26 59h1M27 59h1M32 59h1M37 59h1M40 59h1M41 59h1M50 59h1M53 59h1M55 59h1M57 59h1M65 59h1M72 59h1M118 59h1M1 60h1M3 60h1M5 60h1M6 60h1M11 60h1M12 60h1M18 60h1M19 60h1M20 60h1M22 60h1M25 60h1M26 60h1M28 60h1M29 60h1M30 60h1M34 60h1M35 60h1M37 60h1M43 60h1M45 60h1M48 60h1M50 60h1M51 60h1M64 60h1M70 60h1M78 60h1M105 60h1M107 60h1M112 60h1M114 60h1M1 61h1M6 61h1M20 61h1M23 61h1M26 61h1M34 61h1M36 61h1M39 61h1M41 61h1M42 61h1M43 61h1M51 61h1M53 61h1M66 61h1M71 61h1M74 61h1M80 61h1M87 61h1M94 61h1M95 61h1M112 61h1M129 61h1M130 61h1M131 61h1M12 62h1M23 62h1M28 62h1M29 62h1M53 62h1M80 62h1M94 62h1M144 62h1M0 63h1M1 63h1M8 63h1M40 63h1M41 63h1M45 63h1M49 63h1M57 63h1M68 63h1M70 63h1M73 63h1M76 63h1M1 64h1M4 64h1M6 64h1M7 64h1M17 64h1M23 64h1M26 64h1M29 64h1M30 64h1M33 64h1M34 64h1M36 64h1M45 64h1M54 64h1M57 64h1M60 64h1M65 64h1M66 64h1M68 64h1M72 64h1M73 64h1M76 64h1M79 64h1M80 64h1M101 64h1M121 64h1M125 64h1M126 64h1M2 65h1M3 65h1M8 65h1M12 65h1M15 65h1M22 65h1M26 65h1M27 65h1M35 65h1M36 65h1M43 65h1M45 65h1M46 65h1M51 65h1M57 65h1M59 65h1M64 65h1M66 65h1M73 65h1M77 65h1M84 65h1M88 65h1M105 65h1M115 65h1M124 65h1M6 66h1M8 66h1M15 66h1M17 66h1M21 66h1M24 66h1M28 66h1M34 66h1M36 66h1M39 66h1M42 66h1M43 66h1M49 66h1M51 66h1M54 66h1M55 66h1M56 66h1M61 66h1M64 66h1M65 66h1M70 66h1M73 66h1M78 66h1M79 66h1M83 66h1M87 66h1M94 66h1M102 66h1M116 66h1M0 68h1M7 68h1M15 68h1M23 68h1M30 68h1M34 68h1M36 68h1M45 68h1M46 68h1M49 68h1M57 68h1M63 68h1M64 68h1M75 68h1M76 68h1M77 68h1M79 68h1M86 68h1M88 68h1M104 68h1M109 68h1M114 68h1M116 68h1M118 68h1M1 69h1M2 69h1M3 69h1M17 69h1M25 69h1M35 69h1M36 69h1M43 69h1M45 69h1M47 69h1M48 69h1M71 69h1M73 69h1M77 69h1M86 69h1M88 69h1M102 69h1M104 69h1M106 69h1M120 69h1M129 69h1M4 70h1M5 70h1M6 70h1M8 70h1M13 70h1M14 70h1M17 70h1M28 70h1M36 70h1M37 70h1M49 70h1M53 70h1M60 70h1M63 70h1M66 70h1M73 70h1M74 70h1M80 70h1M83 70h1M87 70h1M102 70h1M103 70h1M108 70h1M112 70h1M116 70h1M121 70h1M125 70h1M128 70h1M130 70h1M143 70h1M0 71h1M4 71h1M10 71h1M12 71h1M18 71h1M20 71h1M27 71h1M30 71h1M32 71h1M34 71h1M35 71h1M36 71h1M42 71h1M43 71h1M46 71h1M50 71h1M53 71h1M57 71h1M61 71h1M69 71h1M73 71h1M76 71h1M77 71h1M79 71h1M95 71h1M96 71h1M106 71h1M0 72h1M2 72h1M3 72h1M4 72h1M6 72h1M20 72h1M29 72h1M32 72h1M35 72h1M40 72h1M41 72h1M45 72h1M50 72h1M54 72h1M59 72h1M64 72h1M76 72h1M78 72h1M84 72h1M94 72h1M97 72h1M102 72h1M111 72h1M115 72h1M128 72h1M1 73h1M3 73h1M14 73h1M15 73h1M17 73h1M20 73h1M29 73h1M31 73h1M40 73h1M43 73h1M48 73h1M49 73h1M50 73h1M54 73h1M57 73h1M63 73h1M64 73h1M65 73h1M66 73h1M69 73h1M70 73h1M71 73h1M76 73h1M79 73h1M88 73h1M129 73h1M4 74h1M8 74h1M12 74h1M18 74h1M20 74h1M46 74h1M48 74h1M51 74h1M53 74h1M61 74h1M70 74h1M110 74h1M3 75h1M18 75h1M32 75h1M35 75h1M48 75h1M50 75h1M55 75h1M68 75h1M109 75h1M112 75h1M1 76h1M2 76h1M3 76h1M4 76h1M5 76h1M8 76h1M17 76h1M18 76h1M24 76h1M30 76h1M32 76h1M33 76h1M36 76h1M37 76h1M41 76h1M43 76h1M49 76h1M50 76h1M51 76h1M57 76h1M63 76h1M64 76h1M68 76h1M71 76h1M72 76h1M73 76h1M77 76h1M81 76h1M83 76h1M84 76h1M92 76h1M97 76h1M104 76h1M106 76h1M113 76h1M116 76h1M118 76h1M120 76h1M121 76h1M137 76h1M5 77h1M8 77h1M12 77h1M14 77h1M19 77h1M22 77h1M29 77h1M31 77h1M33 77h1M45 77h1M47 77h1M48 77h1M54 77h1M57 77h1M65 77h1M68 77h1M69 77h1M71 77h1M76 77h1M78 77h1M79 77h1M80 77h1M83 77h1M84 77h1M87 77h1M102 77h1M106 77h1M108 77h1M111 77h1M114 77h1M127 77h1M129 77h1M2 78h1M4 78h1M6 78h1M17 78h1M18 78h1M20 78h1M24 78h1M27 78h1M29 78h1M32 78h1M33 78h1M34 78h1M36 78h1M37 78h1M42 78h1M46 78h1M55 78h1M57 78h1M60 78h1M66 78h1M72 78h1M77 78h1M87 78h1M88 78h1M101 78h1M108 78h1M118 78h1M128 78h1M2 79h1M7 79h1M22 79h1M29 79h1M33 79h1M36 79h1M43 79h1M45 79h1M50 79h1M53 79h1M64 79h1M66 79h1M68 79h1M71 79h1M73 79h1M77 79h1M84 79h1M86 79h1M94 79h1M97 79h1M117 79h1M121 79h1M126 79h1M2 80h1M14 80h1M18 80h1M20 80h1M29 80h1M30 80h1M34 80h1M39 80h1M43 80h1M45 80h1M46 80h1M49 80h1M50 80h1M51 80h1M57 80h1M61 80h1M62 80h1M64 80h1M70 80h1M77 80h1M84 80h1M88 80h1M95 80h1M102 80h1M29 81h1M41 81h1M43 81h1M49 81h1M50 81h1M76 81h1M20 82h1M42 82h1M43 82h1M57 82h1M4 83h1M6 83h1M14 83h1M18 83h1M23 83h1M34 83h1M35 83h1M36 83h1M41 83h1M42 83h1M43 83h1M66 83h1M70 83h1M76 83h1M77 83h1M84 83h1M94 83h1M104 83h1M111 83h1M116 83h1M120 83h1M123 83h1M124 83h1M145 83h1M146 83h1M0 84h1M5 84h1M14 84h1M15 84h1M16 84h1M17 84h1M26 84h1M31 84h1M35 84h1M42 84h1M44 84h1M48 84h1M49 84h1M53 84h1M55 84h1M65 84h1M72 84h1M76 84h1M77 84h1M79 84h1M80 84h1M83 84h1M96 84h1M105 84h1M107 84h1M109 84h1M117 84h1M118 84h1M128 84h1M131 84h1M0 85h1M1 85h1M3 85h1M5 85h1M6 85h1M15 85h1M18 85h1M0 86h1M2 86h1M4 86h1M12 86h1M15 86h1M20 86h1M23 86h1M25 86h1M30 86h1M32 86h1M35 86h1M36 86h1M43 86h1M46 86h1M49 86h1M50 86h1M51 86h1M54 86h1M55 86h1M68 86h1M69 86h1M79 86h1M113 86h1M120 86h1M145 86h1M0 87h1M1 87h1M3 87h1M4 87h1M7 87h1M11 87h1M18 87h1M29 87h1M32 87h1M34 87h1M38 87h1M40 87h1M42 87h1M43 87h1M46 87h1M48 87h1M50 87h1M51 87h1M61 87h1M66 87h1M70 87h1M77 87h1M78 87h1M94 87h1M109 87h1M5 88h1M6 88h1M13 88h1M15 88h1M18 88h1M22 88h1M27 88h1M33 88h1M35 88h1M42 88h1M43 88h1M45 88h1M48 88h1M49 88h1M50 88h1M52 88h1M65 88h1M68 88h1M69 88h1M73 88h1M78 88h1M80 88h1M95 88h1M129 88h1M146 88h1M7 90h1M147 91h1M41 92h1M42 92h1M76 92h1M5 94h1M6 94h1M7 94h1M8 94h1M12 94h1M16 94h1M20 94h1M27 94h1M31 94h1M36 94h1M42 94h1M43 94h1M45 94h1M46 94h1M48 94h1M52 94h1M53 94h1M54 94h1M55 94h1M61 94h1M62 94h1M66 94h1M72 94h1M79 94h1M83 94h1M87 94h1M107 94h1M120 94h1M122 94h1M127 94h1M0 95h1M5 95h1M20 95h1M22 95h1M32 95h1M35 95h1M37 95h1M41 95h1M52 95h1M53 95h1M57 95h1M61 95h1M71 95h1M80 95h1M88 95h1M116 95h1M0 96h1M6 96h1M12 96h1M19 96h1M20 96h1M26 96h1M31 96h1M32 96h1M43 96h1M57 96h1M71 96h1M84 96h1M107 96h1M108 96h1M125 96h1M37 97h1M41 97h1M72 97h1M76 97h1M79 97h1M115 97h1M123 97h1M29 98h1M37 98h1M38 98h1M115 98h1M2 99h1M3 99h1M28 99h1M1 100h1M7 100h1M18 100h1M23 100h1M44 100h1M128 100h1M5 101h1M6 101h1M28 101h1M29 101h1M36 101h1M41 101h1M53 101h1M64 101h1M78 101h1M0 102h1M3 102h1M4 102h1M6 102h1M12 102h1M32 102h1M33 102h1M41 102h1M46 102h1M48 102h1M57 102h1M66 102h1M69 102h1M70 102h1M72 102h1M77 102h1M80 102h1M104 102h1M105 102h1M109 102h1M123 102h1M8 103h1M12 103h1M15 103h1M18 103h1M30 103h1M36 103h1M70 103h1M1 104h1M3 104h1M4 104h1M6 104h1M8 104h1M14 104h1M15 104h1M18 104h1M20 104h1M21 104h1M26 104h1M27 104h1M32 104h1M35 104h1M42 104h1M43 104h1M45 104h1M50 104h1M53 104h1M68 104h1M69 104h1M76 104h1M83 104h1M102 104h1M108 104h1M111 104h1M131 104h1M3 105h1M4 105h1M5 105h1M6 105h1M7 105h1M16 105h1M23 105h1M26 105h1M33 105h1M40 105h1M41 105h1M57 105h1M60 105h1M65 105h1M84 105h1M102 105h1M111 105h1M0 106h1M4 106h1M5 106h1M7 106h1M22 106h1M29 106h1M32 106h1M40 106h1M41 106h1M42 106h1M53 106h1M69 106h1M71 106h1M76 106h1M77 106h1M1 107h1M4 107h1M5 107h1M12 107h1M18 107h1M22 107h1M27 107h1M36 107h1M39 107h1M40 107h1M45 107h1M46 107h1M47 107h1M48 107h1M50 107h1M57 107h1M60 107h1M84 107h1M94 107h1M96 107h1M120 107h1M4 108h1M7 108h1M12 108h1M20 108h1M29 108h1M38 108h1M40 108h1M42 108h1M43 108h1M46 108h1M50 108h1M70 108h1M77 108h1M78 108h1M96 108h1M104 108h1M4 109h1M5 109h1M7 109h1M8 109h1M14 109h1M20 109h1M29 109h1M34 109h1M46 109h1M48 109h1M49 109h1M53 109h1M54 109h1M68 109h1M75 109h1M84 109h1M87 109h1M102 109h1M118 109h1M2 110h1M14 110h1M74 110h1M0 111h1M5 111h1M6 111h1M17 111h1M18 111h1M29 111h1M32 111h1M37 111h1M41 111h1M72 111h1M77 111h1M83 111h1M104 111h1M105 111h1M2 112h1M8 112h1M12 112h1M22 112h1M28 112h1M32 112h1M36 112h1M43 112h1M46 112h1M49 112h1M50 112h1M51 112h1M60 112h1M61 112h1M70 112h1M75 112h1M0 113h1M2 113h1M14 113h1M16 113h1M17 113h1M20 113h1M26 113h1M27 113h1M29 113h1M32 113h1M37 113h1M40 113h1M43 113h1M45 113h1M76 113h1M86 113h1M115 113h1M120 113h1M5 114h1M14 114h1M18 114h1M24 114h1M37 114h1M51 114h1M60 114h1M68 114h1M77 114h1M3 115h1M4 115h1M5 115h1M6 115h1M12 115h1M18 115h1M20 115h1M29 115h1M33 115h1M37 115h1M57 115h1M65 115h1M72 115h1M97 115h1M98 115h1M113 115h1M2 116h1M3 116h1M4 116h1M18 116h1M20 116h1M26 116h1M37 116h1M41 116h1M44 116h1M47 116h1M49 116h1M50 116h1M66 116h1M68 116h1M70 116h1M76 116h1M83 116h1M95 116h1M123 116h1M0 117h1M2 117h1M4 117h1M6 117h1M8 117h1M20 117h1M34 117h1M37 117h1M40 117h1M41 117h1M53 117h1M79 117h1M84 117h1M8 118h1M17 118h1M18 118h1M41 118h1M42 118h1M43 118h1M47 118h1M48 118h1M54 118h1M59 118h1M68 118h1M76 118h1M78 118h1M84 118h1M109 118h1M12 119h1M5 120h1M18 120h1M29 120h1M34 120h1M40 120h1M41 120h1M57 120h1M69 120h1M76 120h1M83 120h1M86 120h1M94 120h1M107 120h1M113 120h1M2 121h1M34 121h1M40 121h1M41 121h1M46 121h1M57 121h1M64 121h1M70 121h1M76 121h1M79 121h1M0 122h1M40 122h1M41 122h1M46 122h1M94 122h1M1 123h1M4 123h1M5 123h1M17 123h1M20 123h1M21 123h1M26 123h1M29 123h1M33 123h1M35 123h1M36 123h1M37 123h1M41 123h1M45 123h1M51 123h1M83 123h1M97 123h1M102 123h1M116 123h1M4 124h1M7 124h1M12 124h1M34 124h1M36 124h1M51 124h1M65 124h1M83 124h1M0 125h1M5 125h1M16 125h1M18 125h1M29 125h1M32 125h1M64 125h1M70 125h1M96 125h1M145 125h1M0 126h1M8 126h1M43 126h1M64 126h1M79 126h1M7 127h1M16 127h1M41 127h1M77 127h1M94 127h1M4 128h1M5 128h1M29 128h1M31 128h1M35 128h1M41 128h1M42 128h1M50 128h1M51 128h1M70 128h1M72 128h1M78 128h1M84 128h1M100 128h1M2 129h1M4 129h1M22 129h1M26 129h1M28 129h1M35 129h1M36 129h1M53 129h1M61 129h1M69 129h1M73 129h1M77 129h1M88 129h1M4 130h1M11 130h1M12 130h1M17 130h1M22 130h1M40 130h1M43 130h1M50 130h1M53 130h1M61 130h1M70 130h1M3 131h1M41 131h1M46 131h1M50 131h1M51 131h1M61 131h1M84 131h1M104 131h1M33 132h1M18 134h1M20 134h1M42 134h1M2 135h1M31 135h1M4 136h1M5 136h1M26 136h1M76 137h1M0 138h1M35 138h1M5 139h1M26 139h1M29 139h1M36 140h1M41 140h1M50 140h1M18 141h1M40 141h1M44 141h1M36 143h1M41 143h1M70 143h1M36 144h1M53 144h1M57 144h1M62 144h1M35 145h1M42 145h1M49 145h1M50 145h1M83 145h1M86 145h1M125 145h1M0 146h1M1 146h1M3 146h1M4 146h1M20 146h1M22 146h1M23 146h1M33 146h1M83 146h1M88 146h1M26 147h1M91 147h1" stroke="#482475" stroke-width="1" stroke-opacity="0.75" fill="none"/><path transform="translate(502.5 206.4) scale(1.0007 0.9940) translate(0 0.5)" d="M4 0h1M7 0h1M15 0h1M22 0h1M23 0h1M26 0h1M27 0h1M33 0h1M49 0h1M60 0h1M64 0h1M65 0h1M76 0h1M80 0h1M88 0h1M116 0h1M5 1h1M6 1h1M7 1h1M8 1h1M20 1h1M22 1h1M33 1h1M35 1h1M50 1h1M66 1h1M80 1h1M3 2h1M4 2h1M17 2h1M23 2h1M27 2h1M33 2h1M35 2h1M45 2h1M49 2h1M60 2h1M64 2h1M66 2h1M68 2h1M71 2h1M87 2h1M88 2h1M2 3h1M5 3h1M20 3h1M34 3h1M78 3h1M94 3h1M0 4h1M2 4h1M6 4h1M14 4h1M18 4h1M46 4h1M49 4h1M57 4h1M61 4h1M65 4h1M69 4h1M95 4h1M120 4h1M1 5h1M3 5h1M15 5h1M17 5h1M20 5h1M24 5h1M29 5h1M31 5h1M46 5h1M47 5h1M53 5h1M64 5h1M68 5h1M72 5h1M78 5h1M83 5h1M87 5h1M116 5h1M1 6h1M4 6h1M7 6h1M15 6h1M18 6h1M22 6h1M27 6h1M28 6h1M29 6h1M34 6h1M35 6h1M40 6h1M45 6h1M48 6h1M57 6h1M65 6h1M0 7h1M1 7h1M6 7h1M26 7h1M28 7h1M30 7h1M40 7h1M44 7h1M45 7h1M48 7h1M53 7h1M59 7h1M61 7h1M69 7h1M76 7h1M80 7h1M88 7h1M95 7h1M1 8h1M15 8h1M34 8h1M36 8h1M37 8h1M43 8h1M48 8h1M71 8h1M79 8h1M20 12h1M22 12h1M32 12h1M49 12h1M51 12h1M57 12h1M61 12h1M69 12h1M76 12h1M95 12h1M104 12h1M4 14h1M41 14h1M46 14h1M48 14h1M64 14h1M0 15h1M5 15h1M6 15h1M8 15h1M32 15h1M37 15h1M45 15h1M51 15h1M57 15h1M2 17h1M5 17h1M22 17h1M33 17h1M45 17h1M49 17h1M51 17h1M61 17h1M68 17h1M72 17h1M77 17h1M4 18h1M6 18h1M36 18h1M40 18h1M42 18h1M51 18h1M54 18h1M64 18h1M65 18h1M66 18h1M84 18h1M105 18h1M124 18h1M1 20h1M3 20h1M5 20h1M12 20h1M24 20h1M32 20h1M33 20h1M34 20h1M35 20h1M45 20h1M48 20h1M49 20h1M77 20h1M84 20h1M87 20h1M88 20h1M41 21h1M0 22h1M1 22h1M6 22h1M12 22h1M17 22h1M35 22h1M36 22h1M48 22h1M68 22h1M0 23h1M2 23h1M41 23h1M43 23h1M48 23h1M57 23h1M77 23h1M5 24h1M20 24h1M40 24h1M0 26h1M7 26h1M28 26h1M35 26h1M42 26h1M45 26h1M53 26h1M54 26h1M77 26h1M78 26h1M80 26h1M86 26h1M88 26h1M94 26h1M0 27h1M2 27h1M6 27h1M32 27h1M35 27h1M36 27h1M37 27h1M68 27h1M6 28h1M7 28h1M26 28h1M37 28h1M5 29h1M6 29h1M39 29h1M44 29h1M45 29h1M53 29h1M59 29h1M65 29h1M84 29h1M88 29h1M94 29h1M116 29h1M7 30h1M41 30h1M43 30h1M5 31h1M50 31h1M12 32h1M15 32h1M20 32h1M27 32h1M34 32h1M44 32h1M60 32h1M64 32h1M68 32h1M69 32h1M70 32h1M73 32h1M77 32h1M80 32h1M84 32h1M88 32h1M120 32h1M0 33h1M1 33h1M2 33h1M17 33h1M20 33h1M40 33h1M48 33h1M83 33h1M3 34h1M6 34h1M8 34h1M20 34h1M32 34h1M43 34h1M65 34h1M77 34h1M1 35h1M2 35h1M6 35h1M20 35h1M22 35h1M26 35h1M27 35h1M43 35h1M45 35h1M66 35h1M70 35h1M76 35h1M78 35h1M94 35h1M120 35h1M8 36h1M18 36h1M22 36h1M27 36h1M48 36h1M57 36h1M73 36h1M77 36h1M8 37h1M15 37h1M27 37h1M28 37h1M43 37h1M61 37h1M66 37h1M72 37h1M79 37h1M29 39h1M6 40h1M7 40h1M18 40h1M24 40h1M33 40h1M43 40h1M44 40h1M47 40h1M48 40h1M50 40h1M54 40h1M55 40h1M64 40h1M65 40h1M66 40h1M68 40h1M77 40h1M78 40h1M79 40h1M88 40h1M14 41h1M21 41h1M23 41h1M30 41h1M44 41h1M45 41h1M49 41h1M60 41h1M64 41h1M68 41h1M71 41h1M77 41h1M80 41h1M84 41h1M86 41h1M88 41h1M18 42h1M26 42h1M48 42h1M53 42h1M57 42h1M70 42h1M72 42h1M8 43h1M23 43h1M30 43h1M34 43h1M35 43h1M37 43h1M40 43h1M45 43h1M46 43h1M51 43h1M53 43h1M70 43h1M77 43h1M78 43h1M7 44h1M29 44h1M32 44h1M40 44h1M41 44h1M2 45h1M6 45h1M7 45h1M15 45h1M17 45h1M20 45h1M26 45h1M29 45h1M35 45h1M41 45h1M43 45h1M66 45h1M4 46h1M5 46h1M14 46h1M43 46h1M59 46h1M83 46h1M88 46h1M5 47h1M40 47h1M6 48h1M7 48h1M8 48h1M14 48h1M20 48h1M22 48h1M23 48h1M33 48h1M36 48h1M40 48h1M42 48h1M61 48h1M64 48h1M65 48h1M66 48h1M72 48h1M80 48h1M0 49h1M2 49h1M4 49h1M12 49h1M17 49h1M20 49h1M41 49h1M50 49h1M1 50h1M31 50h1M40 50h1M49 50h1M55 50h1M61 50h1M64 50h1M66 50h1M70 50h1M12 51h1M15 51h1M17 51h1M18 51h1M43 51h1M57 51h1M5 53h1M7 53h1M26 53h1M29 53h1M42 53h1M43 53h1M64 53h1M66 53h1M18 54h1M26 54h1M40 54h1M40 55h1M50 55h1M4 57h1M6 57h1M12 57h1M15 57h1M23 57h1M36 57h1M42 57h1M51 57h1M66 57h1M70 57h1M7 59h1M29 59h1M46 59h1M0 60h1M2 60h1M32 60h1M41 60h1M4 61h1M7 61h1M12 61h1M17 61h1M37 61h1M48 61h1M50 61h1M70 61h1M76 61h1M78 61h1M0 64h1M2 64h1M5 64h1M14 64h1M18 64h1M32 64h1M40 64h1M41 64h1M48 64h1M50 64h1M53 64h1M0 65h1M4 65h1M6 65h1M18 65h1M29 65h1M34 65h1M40 65h1M48 65h1M79 65h1M1 66h1M2 66h1M18 66h1M35 66h1M37 66h1M40 66h1M45 66h1M48 66h1M50 66h1M53 66h1M57 66h1M76 66h1M2 68h1M5 68h1M17 68h1M22 68h1M27 68h1M32 68h1M40 68h1M41 68h1M78 68h1M4 69h1M7 69h1M12 69h1M32 69h1M32 70h1M35 70h1M42 70h1M43 70h1M50 70h1M57 70h1M61 70h1M79 70h1M2 71h1M8 71h1M41 71h1M5 72h1M17 72h1M37 72h1M42 72h1M48 72h1M32 73h1M36 73h1M0 76h1M7 76h1M12 76h1M35 76h1M61 76h1M66 76h1M17 77h1M20 77h1M23 77h1M26 77h1M32 77h1M34 77h1M36 77h1M40 77h1M41 77h1M43 77h1M3 78h1M5 78h1M26 78h1M35 78h1M40 78h1M43 78h1M61 78h1M68 78h1M8 79h1M37 79h1M40 79h1M65 79h1M70 79h1M0 80h1M1 80h1M7 80h1M26 80h1M32 80h1M41 80h1M48 80h1M5 83h1M33 83h1M46 83h1M18 84h1M20 84h1M29 84h1M32 84h1M41 84h1M26 86h1M41 86h1M2 87h1M5 87h1M20 87h1M0 88h1M2 88h1M7 88h1M20 88h1M26 88h1M29 88h1M32 88h1M40 88h1M41 88h1M46 88h1M3 94h1M26 94h1M29 94h1M35 94h1M4 95h1M7 95h1M12 95h1M12 104h1M18 105h1M0 116h1M5 116h1M29 116h1M4 120h1M32 120h1M35 120h1M18 124h1" stroke="#453781" stroke-width="1" stroke-opacity="0.9" fill="none"/><path transform="translate(502.5 206.4) scale(1.0007 0.9940) translate(0 0.5)" d="M3 0h1M6 0h1M73 0h1M77 0h1M32 1h1M40 1h1M20 2h1M34 2h1M40 2h1M50 2h1M73 2h1M0 3h1M24 3h1M46 3h1M51 3h1M57 3h1M68 3h1M8 4h1M27 4h1M59 4h1M68 4h1M73 4h1M77 4h1M94 4h1M12 5h1M26 5h1M27 5h1M45 5h1M61 5h1M71 5h1M79 5h1M0 6h1M43 6h1M12 7h1M15 7h1M22 7h1M23 7h1M34 7h1M35 7h1M37 7h1M46 7h1M49 7h1M55 7h1M66 7h1M4 8h1M12 8h1M35 8h1M40 8h1M42 8h1M5 12h1M7 12h1M8 12h1M33 12h1M40 12h1M48 12h1M84 12h1M32 14h1M7 15h1M18 15h1M20 15h1M46 15h1M20 17h1M23 17h1M32 17h1M40 17h1M53 17h1M79 17h1M94 17h1M15 18h1M33 18h1M45 18h1M2 20h1M15 20h1M17 20h1M23 20h1M29 20h1M37 20h1M70 20h1M7 22h1M46 22h1M57 22h1M7 23h1M17 23h1M20 23h1M26 23h1M32 23h1M46 23h1M50 23h1M3 24h1M5 26h1M23 26h1M66 26h1M70 26h1M79 26h1M83 26h1M4 27h1M5 27h1M29 27h1M40 27h1M20 29h1M27 29h1M37 29h1M43 29h1M46 29h1M1 32h1M14 32h1M17 32h1M23 32h1M36 32h1M45 32h1M51 32h1M57 32h1M12 33h1M18 33h1M51 33h1M61 33h1M2 34h1M7 34h1M40 34h1M42 34h1M50 34h1M7 35h1M8 35h1M36 35h1M32 36h1M35 36h1M40 36h1M7 37h1M20 37h1M29 37h1M68 37h1M1 40h1M2 40h1M8 40h1M12 40h1M17 40h1M27 40h1M34 40h1M36 40h1M49 40h1M53 40h1M60 40h1M104 40h1M8 42h1M34 42h1M46 42h1M64 42h1M68 42h1M6 43h1M29 43h1M68 43h1M5 45h1M18 45h1M32 45h1M3 46h1M7 46h1M15 46h1M22 46h1M23 46h1M29 46h1M42 46h1M53 46h1M73 46h1M79 46h1M12 48h1M51 48h1M7 49h1M40 49h1M2 50h1M23 50h1M34 50h1M65 50h1M68 50h1M3 51h1M32 51h1M33 51h1M48 51h1M17 53h1M40 53h1M46 53h1M7 55h1M3 57h1M22 57h1M32 57h1M4 59h1M40 60h1M5 61h1M33 61h1M42 64h1M50 65h1M7 66h1M26 66h1M3 68h1M4 68h1M37 68h1M42 68h1M43 68h1M50 68h1M20 70h1M26 70h1M5 71h1M0 73h1M2 73h1M4 73h1M46 73h1M0 77h1M4 77h1M5 79h1M17 79h1M26 79h1M46 79h1M26 83h1M12 84h1M4 94h1M17 94h1M40 104h1" stroke="#3b528b" stroke-width="1" stroke-opacity="0.95" fill="none"/><path transform="translate(502.5 206.4) scale(1.0007 0.9940) translate(0 0.5)" d="M17 0h1M46 0h1M51 0h1M83 0h1M26 1h1M43 2h1M8 3h1M17 3h1M35 3h1M36 3h1M45 3h1M61 3h1M77 3h1M84 3h1M7 4h1M12 4h1M37 4h1M42 4h1M45 4h1M66 4h1M79 4h1M18 5h1M23 5h1M20 6h1M4 7h1M83 7h1M3 8h1M41 8h1M68 8h1M84 8h1M4 12h1M70 12h1M79 12h1M83 12h1M0 17h1M3 17h1M5 18h1M23 18h1M34 18h1M69 18h1M94 18h1M6 20h1M79 20h1M5 23h1M18 23h1M40 23h1M1 26h1M46 26h1M50 27h1M66 29h1M35 32h1M48 32h1M18 34h1M48 34h1M3 35h1M32 35h1M3 36h1M43 36h1M4 37h1M50 37h1M23 40h1M46 40h1M8 41h1M79 41h1M4 42h1M2 43h1M36 43h1M84 43h1M3 45h1M4 45h1M0 46h1M26 46h1M40 46h1M32 48h1M34 48h1M50 48h1M27 50h1M37 50h1M48 50h1M51 50h1M57 50h1M0 51h1M50 51h1M50 57h1M61 57h1M3 61h1M57 61h1M4 66h1M29 66h1M8 68h1M18 69h1M12 70h1M3 77h1M4 79h1M12 79h1M20 79h1M41 79h1M0 83h1M7 83h1M12 83h1M3 84h1M8 84h1M43 84h1M18 94h1" stroke="#2c728e" stroke-width="1" stroke-opacity="1" fill="none"/><path transform="translate(502.5 206.4) scale(1.0007 0.9940) translate(0 0.5)" d="M45 0h1M26 2h1M14 3h1M33 3h1M29 4h1M84 4h1M34 5h1M41 5h1M49 5h1M50 5h1M65 5h1M43 7h1M46 12h1M88 12h1M3 14h1M35 14h1M48 15h1M50 17h1M88 17h1M37 18h1M48 18h1M22 20h1M66 20h1M20 22h1M2 26h1M4 29h1M50 29h1M70 29h1M37 32h1M46 32h1M53 32h1M61 32h1M3 33h1M5 34h1M14 35h1M57 35h1M73 35h1M18 37h1M32 37h1M61 40h1M5 41h1M50 41h1M78 41h1M7 43h1M48 43h1M0 45h1M12 46h1M32 46h1M57 46h1M15 48h1M18 48h1M43 48h1M5 49h1M5 50h1M17 50h1M29 50h1M41 50h1M32 53h1M35 57h1M46 57h1M32 61h1M40 61h1M5 65h1M20 66h1M29 70h1M35 73h1M41 78h1M4 84h1M12 88h1M17 88h1" stroke="#21918c" stroke-width="1" stroke-opacity="1" fill="none"/><path transform="translate(502.5 206.4) scale(1.0007 0.9940) translate(0 0.5)" d="M18 0h1M35 0h1M61 0h1M70 2h1M35 4h1M36 4h1M50 4h1M32 5h1M48 5h1M41 6h1M42 6h1M15 12h1M34 12h1M12 15h1M37 17h1M0 18h1M68 18h1M32 26h1M51 29h1M61 29h1M5 32h1M26 32h1M66 32h1M12 34h1M41 34h1M0 35h1M4 35h1M64 35h1M4 36h1M17 37h1M6 41h1M34 41h1M6 42h1M66 46h1M5 48h1M4 50h1M29 51h1M0 61h1M29 61h1M35 64h1M32 66h1M46 66h1M18 68h1M2 70h1" stroke="#35b779" stroke-width="1" stroke-opacity="1" fill="none"/><path transform="translate(502.5 206.4) scale(1.0007 0.9940) translate(0 0.5)" d="M8 0h1M37 2h1M32 3h1M37 3h1M37 5h1M29 7h1M0 8h1M66 12h1M50 15h1M50 22h1M41 26h1M7 29h1M34 29h1M3 32h1M29 34h1M35 34h1M34 35h1M61 35h1M50 36h1M2 37h1M3 37h1M5 37h1M46 37h1M41 40h1M26 41h1M40 41h1M64 43h1M37 46h1M15 50h1M22 50h1M36 50h1M35 61h1M43 64h1M12 66h1" stroke="#8fd744" stroke-width="1" stroke-opacity="1" fill="none"/><path transform="translate(502.5 206.4) scale(1.0007 0.9940) translate(0 0.5)" d="M5 0h1M32 0h1M34 0h1M79 0h1M12 2h1M32 2h1M53 2h1M29 3h1M26 4h1M48 4h1M0 5h1M22 5h1M57 7h1M20 8h1M46 8h1M2 12h1M43 17h1M46 17h1M22 18h1M77 18h1M8 20h1M46 20h1M68 20h1M5 22h1M18 22h1M4 26h1M3 29h1M0 32h1M2 32h1M49 32h1M50 33h1M0 34h1M42 41h1M41 42h1M17 43h1M8 46h1M17 46h1M20 46h1M61 46h1M4 48h1M32 49h1M33 50h1M2 53h1M7 57h1M46 61h1M20 68h1M18 77h1M0 79h1" stroke="#e3d03a" stroke-width="1" stroke-opacity="1" fill="none"/><path transform="translate(502.5 206.4) scale(1.0007 0.9940) translate(0 0.5)" d="M28 0h1M40 0h1M41 0h1M68 1h1M7 2h1M61 2h1M4 3h1M18 3h1M22 3h1M48 3h1M49 3h1M66 3h1M3 4h1M5 4h1M20 4h1M4 5h1M8 5h1M32 6h1M2 7h1M8 7h1M18 7h1M33 7h1M84 7h1M5 8h1M7 8h1M26 8h1M32 8h1M78 12h1M20 14h1M18 17h1M3 18h1M7 18h1M17 18h1M20 18h1M50 18h1M57 18h1M70 18h1M79 18h1M4 20h1M14 20h1M18 20h1M3 22h1M41 22h1M8 26h1M27 26h1M43 26h1M26 27h1M0 28h1M35 28h1M32 29h1M36 29h1M42 29h1M6 32h1M8 32h1M29 32h1M7 33h1M70 34h1M28 35h1M29 36h1M0 40h1M57 40h1M0 41h1M22 41h1M65 41h1M29 42h1M26 43h1M50 43h1M57 43h1M51 46h1M3 48h1M83 48h1M3 49h1M18 50h1M43 50h1M83 50h1M46 51h1M18 57h1M40 57h1M43 57h1M2 61h1M64 61h1M61 64h1M41 65h1M3 66h1M1 68h1M18 70h1M34 70h1M12 78h1M18 79h1M48 83h1M50 83h1M7 84h1" stroke="#b8804f" stroke-width="1" stroke-opacity="0.8" fill="none"/><path d="M543.17 244.52h1M545.57 244.52h1M547.77 244.52h1M549.47 244.52h1M550.97 244.52h1M553.37 244.52h1M547.77 247.3h1M550.97 247.3h1M553.37 247.3h1M554.96 247.3h1M559.56 247.3h1M554.96 249.68h1M559.56 249.68h1M559.56 251.87h1M559.56 253.55h1M553.37 255.04h1M554.96 255.04h1M559.56 259.01h1M540.37 247.3h1M540.37 249.68h1M540.37 251.87h1M540.37 253.55h1M540.37 255.04h1M540.37 257.43h1M543.17 251.87h1M543.17 255.04h1M543.17 257.43h1M543.17 259.01h1M543.17 263.58h1M545.57 259.01h1M545.57 263.58h1M547.77 263.58h1M549.47 263.58h1M550.97 257.43h1M550.97 259.01h1M554.96 263.58h1" stroke="#d9a55a" stroke-width="1" stroke-opacity="0.42" fill="none"/><path d="M559.56 244.52h1M545.57 247.3h1M549.47 247.3h1M549.47 249.68h1M550.97 249.68h1M553.37 249.68h1M549.47 251.87h1M550.97 251.87h1M550.97 253.55h1M553.37 253.55h1M554.96 253.55h1M559.56 257.43h1M540.37 263.58h1M543.17 249.68h1M543.17 253.55h1M545.57 253.55h1M545.57 255.04h1M545.57 257.43h1M547.77 253.55h1M547.77 255.04h1M549.47 255.04h1M549.47 257.43h1M549.47 259.01h1M553.37 263.58h1" stroke="#d9a55a" stroke-width="1" stroke-opacity="0.25" fill="none"/><path d="M539.9 210.51h1M551 210.51h1M575.43 210.51h1M604.3 208.31h1M543.89 214.93h1M582.76 225.96h1M605.41 226.18h1M570.1 242.5h1M575.43 243.61h1M629.39 242.5h1M578.32 250.89h1M608.3 249.56h1M624.29 249.56h1M630.5 249.56h1M575.43 254.19h1M583.42 271.18h1M629.39 272.28h1M647.16 278.9h1M628.28 278.9h1M505.7 248.02h1M511.03 248.02h1M505.7 214.93h1M523.91 232.57h1M528.35 234.34h1M539.45 272.28h1M540.56 277.8h1M551 277.8h1M563.22 272.28h1M567.21 275.15h1M506.59 277.8h1M589.42 285.41h1M594.97 283.87h1M602.08 283.87h1M606.08 284.53h1M618.73 285.41h1M623.84 283.87h1M622.73 287.62h1M618.73 290.93h1M602.08 297.76h1M623.84 297.76h1M618.29 301.96h1M623.84 304.82h1M628.73 304.82h1M618.73 306.37h1M623.84 310.34h1M630.5 310.34h1M622.73 316.52h1M620.51 318.5h1M630.5 326.88h1M648.27 330.85h1M522.8 284.97h1M547.67 281.66h1M568.32 286.51h1M582.09 297.76h1M582.09 304.82h1M582.76 308.13h1M598.75 306.37h1M523.24 307.47h1M505.03 306.59h1M546.12 310.34h1M582.76 321.37h1M588.75 321.37h1M598.75 320.71h1M603.19 320.71h1M608.96 319.82h1M584.98 325.34h1M581.65 326.88h1M594.97 326.44h1M602.08 326.44h1M607.85 326.88h1M614.29 324.68h1M602.08 330.85h1M607.85 333.06h1M546.12 326.88h1M539.45 331.74h1M546.12 333.5h1M569.88 331.74h1M576.54 330.85h1M623.84 333.06h1M576.54 350.05h1M628.73 350.05h1" stroke="#d9a55a" stroke-width="1" stroke-opacity="0.42" fill="none"/></g><line x1="502.5" y1="206.4" x2="653.6" y2="356.5" stroke="#b8895a" stroke-width="0.9"/><rect x="502.5" y="206.4" width="151.1" height="150.1" fill="none" stroke="#000" stroke-width="0.4"/><rect x="664.1" y="206.4" width="7.6" height="150.1" fill="url(#vir)" stroke="#000" stroke-width="0.45"/><path d="M502.58 356.5v1.9M533.99 356.5v1.9M565.41 356.5v1.9M596.82 356.5v1.9M628.23 356.5v1.9M502.5 206.48h-1.9M502.5 237.68h-1.9M502.5 268.89h-1.9M502.5 300.1h-1.9M502.5 331.3h-1.9M671.7 356.5h1.9M671.7 326.48h1.9M671.7 296.46h1.9M671.7 266.44h1.9M671.7 236.42h1.9M671.7 206.4h1.9" stroke="#000" stroke-width="0.45" fill="none"/></g>
<g filter="url(#tb)" stroke="#000" stroke-width="0.18"><g font-family="'DejaVu Sans','Liberation Sans',sans-serif" font-size="5.62" fill="#000"><text x="28.43" y="169.4" text-anchor="middle">0</text><text x="60.64" y="169.4" text-anchor="middle">500</text><text x="92.84" y="169.4" text-anchor="middle">1000</text><text x="125.04" y="169.4" text-anchor="middle">1500</text><text x="157.25" y="169.4" text-anchor="middle">2000</text><text x="24.5" y="12.23" text-anchor="end">0</text><text x="24.5" y="44.34" text-anchor="end">500</text><text x="24.5" y="76.45" text-anchor="end">1000</text><text x="24.5" y="108.56" text-anchor="end">1500</text><text x="24.5" y="140.66" text-anchor="end">2000</text><text x="201.4" y="163" font-size="5.4">0.0</text><text x="201.4" y="132.77" font-size="5.4">0.2</text><text x="201.4" y="102.54" font-size="5.4">0.4</text><text x="201.4" y="72.31" font-size="5.4">0.6</text><text x="201.4" y="42.08" font-size="5.4">0.8</text><text x="201.4" y="11.85" font-size="5.4">1.0</text><text x="103.95" y="176.8" text-anchor="middle" font-size="5.4">X-axis</text><text transform="translate(6 85.17) rotate(-90)" text-anchor="middle" font-size="5.4">Y-axis</text></g><text x="103.95" y="5.85" text-anchor="middle" font-family="'DejaVu Sans','Liberation Sans',sans-serif" font-size="6.87" fill="#000">Similarity Matrix Heatmap</text><text x="106.35" y="191.1" text-anchor="middle" font-family="'Liberation Serif','DejaVu Serif',serif" font-size="11.6" fill="#000" stroke-width="0.22">circRNA Gaussian kernel similarity</text><g font-family="'DejaVu Sans','Liberation Sans',sans-serif" font-size="5.62" fill="#000"><text x="265.54" y="169.4" text-anchor="middle">0</text><text x="301.22" y="169.4" text-anchor="middle">500</text><text x="336.91" y="169.4" text-anchor="middle">1000</text><text x="372.6" y="169.4" text-anchor="middle">1500</text><text x="408.28" y="169.4" text-anchor="middle">2000</text><text x="261.6" y="12.24" text-anchor="end">0</text><text x="261.6" y="30.03" text-anchor="end">250</text><text x="261.6" y="47.82" text-anchor="end">500</text><text x="261.6" y="65.61" text-anchor="end">750</text><text x="261.6" y="83.4" text-anchor="end">1000</text><text x="261.6" y="101.19" text-anchor="end">1250</text><text x="261.6" y="118.98" text-anchor="end">1500</text><text x="261.6" y="136.77" text-anchor="end">1750</text><text x="261.6" y="154.56" text-anchor="end">2000</text><text x="438.5" y="163" font-size="5.4">0.0</text><text x="438.5" y="132.77" font-size="5.4">0.2</text><text x="438.5" y="102.54" font-size="5.4">0.4</text><text x="438.5" y="72.31" font-size="5.4">0.6</text><text x="438.5" y="42.08" font-size="5.4">0.8</text><text x="438.5" y="11.85" font-size="5.4">1.0</text><text x="341.05" y="176.8" text-anchor="middle" font-size="5.4">X-axis</text><text transform="translate(243.1 85.17) rotate(-90)" text-anchor="middle" font-size="5.4">Y-axis</text></g><text x="341.05" y="5.85" text-anchor="middle" font-family="'DejaVu Sans','Liberation Sans',sans-serif" font-size="6.87" fill="#000">Similarity Matrix Heatmap</text><text x="343.95" y="191.1" text-anchor="middle" font-family="'Liberation Serif','DejaVu Serif',serif" font-size="11.6" fill="#000" stroke-width="0.22">circRNA Sigmoid kernel similarity</text><g font-family="'DejaVu Sans','Liberation Sans',sans-serif" font-size="5.62" fill="#000"><text x="502.53" y="169.4" text-anchor="middle">0</text><text x="534.74" y="169.4" text-anchor="middle">500</text><text x="566.94" y="169.4" text-anchor="middle">1000</text><text x="599.14" y="169.4" text-anchor="middle">1500</text><text x="631.35" y="169.4" text-anchor="middle">2000</text><text x="498.6" y="12.23" text-anchor="end">0</text><text x="498.6" y="44.34" text-anchor="end">500</text><text x="498.6" y="76.45" text-anchor="end">1000</text><text x="498.6" y="108.56" text-anchor="end">1500</text><text x="498.6" y="140.66" text-anchor="end">2000</text><text x="675.5" y="163" font-size="5.4">0.0</text><text x="675.5" y="132.77" font-size="5.4">0.2</text><text x="675.5" y="102.54" font-size="5.4">0.4</text><text x="675.5" y="72.31" font-size="5.4">0.6</text><text x="675.5" y="42.08" font-size="5.4">0.8</text><text x="675.5" y="11.85" font-size="5.4">1.0</text><text x="578.05" y="176.8" text-anchor="middle" font-size="5.4">X-axis</text><text transform="translate(480.1 85.17) rotate(-90)" text-anchor="middle" font-size="5.4">Y-axis</text></g><text x="578.05" y="5.85" text-anchor="middle" font-family="'DejaVu Sans','Liberation Sans',sans-serif" font-size="6.87" fill="#000">Similarity Matrix Heatmap</text><text x="579.1" y="191.1" text-anchor="middle" font-family="'Liberation Serif','DejaVu Serif',serif" font-size="11.6" fill="#000" stroke-width="0.22">circRNA self-similarity matrix</text><g font-family="'DejaVu Sans','Liberation Sans',sans-serif" font-size="5.62" fill="#000"><text x="28.48" y="365.4" text-anchor="middle">0</text><text x="59.89" y="365.4" text-anchor="middle">200</text><text x="91.31" y="365.4" text-anchor="middle">400</text><text x="122.72" y="365.4" text-anchor="middle">600</text><text x="154.13" y="365.4" text-anchor="middle">800</text><text x="24.5" y="208.83" text-anchor="end">0</text><text x="24.5" y="240.03" text-anchor="end">200</text><text x="24.5" y="271.24" text-anchor="end">400</text><text x="24.5" y="302.45" text-anchor="end">600</text><text x="24.5" y="333.65" text-anchor="end">800</text><text x="201.4" y="359" font-size="5.4">0.0</text><text x="201.4" y="328.88" font-size="5.4">0.2</text><text x="201.4" y="298.76" font-size="5.4">0.4</text><text x="201.4" y="268.64" font-size="5.4">0.6</text><text x="201.4" y="238.52" font-size="5.4">0.8</text><text x="201.4" y="208.4" font-size="5.4">1.0</text><text x="103.95" y="372.8" text-anchor="middle" font-size="5.4">X-axis</text><text transform="translate(6 281.45) rotate(-90)" text-anchor="middle" font-size="5.4">Y-axis</text></g><text x="103.95" y="202.4" text-anchor="middle" font-family="'DejaVu Sans','Liberation Sans',sans-serif" font-size="6.87" fill="#000">Similarity Matrix Heatmap</text><text x="107.2" y="387.1" text-anchor="middle" font-family="'Liberation Serif','DejaVu Serif',serif" font-size="11.6" fill="#000" stroke-width="0.22">miRNA Gaussian kernel similarity</text><g font-family="'DejaVu Sans','Liberation Sans',sans-serif" font-size="5.62" fill="#000"><text x="265.59" y="365.4" text-anchor="middle">0</text><text x="302.4" y="365.4" text-anchor="middle">200</text><text x="339.21" y="365.4" text-anchor="middle">400</text><text x="376.02" y="365.4" text-anchor="middle">600</text><text x="412.83" y="365.4" text-anchor="middle">800</text><text x="261.6" y="208.84" text-anchor="end">0</text><text x="261.6" y="227.12" text-anchor="end">100</text><text x="261.6" y="245.41" text-anchor="end">200</text><text x="261.6" y="263.69" text-anchor="end">300</text><text x="261.6" y="281.97" text-anchor="end">400</text><text x="261.6" y="300.25" text-anchor="end">500</text><text x="261.6" y="318.54" text-anchor="end">600</text><text x="261.6" y="336.82" text-anchor="end">700</text><text x="261.6" y="355.1" text-anchor="end">800</text><text x="438.5" y="359" font-size="5.4">0.0</text><text x="438.5" y="328.88" font-size="5.4">0.2</text><text x="438.5" y="298.76" font-size="5.4">0.4</text><text x="438.5" y="268.64" font-size="5.4">0.6</text><text x="438.5" y="238.52" font-size="5.4">0.8</text><text x="438.5" y="208.4" font-size="5.4">1.0</text><text x="341.05" y="372.8" text-anchor="middle" font-size="5.4">X-axis</text><text transform="translate(243.1 281.45) rotate(-90)" text-anchor="middle" font-size="5.4">Y-axis</text></g><text x="341.05" y="202.4" text-anchor="middle" font-family="'DejaVu Sans','Liberation Sans',sans-serif" font-size="6.87" fill="#000">Similarity Matrix Heatmap</text><text x="343.35" y="387.1" text-anchor="middle" font-family="'Liberation Serif','DejaVu Serif',serif" font-size="11.6" fill="#000" stroke-width="0.22">miRNA Sigmoid kernel similarity</text><g font-family="'DejaVu Sans','Liberation Sans',sans-serif" font-size="5.62" fill="#000"><text x="502.58" y="365.4" text-anchor="middle">0</text><text x="533.99" y="365.4" text-anchor="middle">200</text><text x="565.41" y="365.4" text-anchor="middle">400</text><text x="596.82" y="365.4" text-anchor="middle">600</text><text x="628.23" y="365.4" text-anchor="middle">800</text><text x="498.6" y="208.83" text-anchor="end">0</text><text x="498.6" y="240.03" text-anchor="end">200</text><text x="498.6" y="271.24" text-anchor="end">400</text><text x="498.6" y="302.45" text-anchor="end">600</text><text x="498.6" y="333.65" text-anchor="end">800</text><text x="675.5" y="359" font-size="5.4">0.0</text><text x="675.5" y="328.88" font-size="5.4">0.2</text><text x="675.5" y="298.76" font-size="5.4">0.4</text><text x="675.5" y="268.64" font-size="5.4">0.6</text><text x="675.5" y="238.52" font-size="5.4">0.8</text><text x="675.5" y="208.4" font-size="5.4">1.0</text><text x="578.05" y="372.8" text-anchor="middle" font-size="5.4">X-axis</text><text transform="translate(480.1 281.45) rotate(-90)" text-anchor="middle" font-size="5.4">Y-axis</text></g><text x="578.05" y="202.4" text-anchor="middle" font-family="'DejaVu Sans','Liberation Sans',sans-serif" font-size="6.87" fill="#000">Similarity Matrix Heatmap</text><text x="579.3" y="387.1" text-anchor="middle" font-family="'Liberation Serif','DejaVu Serif',serif" font-size="11.6" fill="#000" stroke-width="0.22">miRNA self-similarity matrix</text></g>
</svg></body></html>
